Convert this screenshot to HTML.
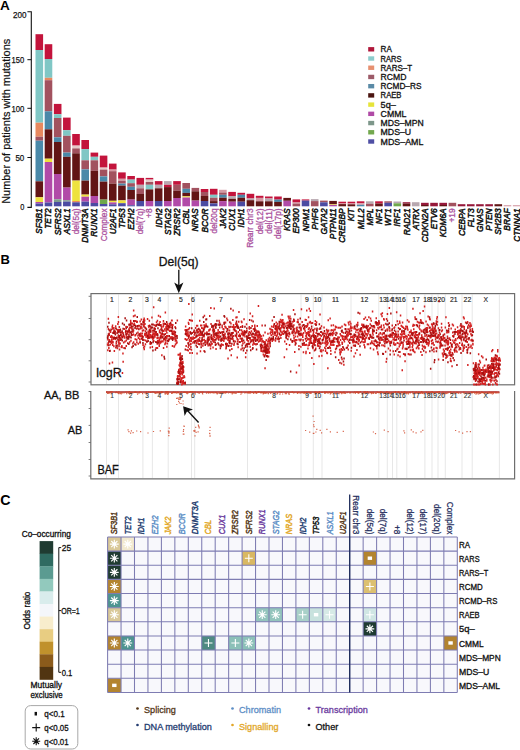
<!DOCTYPE html>
<html><head><meta charset="utf-8"><style>
html,body{margin:0;padding:0;background:#fff;width:520px;height:750px;overflow:hidden}
svg{display:block}
text{font-family:"Liberation Sans", sans-serif}
</style></head><body>
<svg width="520" height="750" viewBox="0 0 520 750">
<text x="0.1" y="9.6" font-size="13.6" font-weight="bold" fill="#000">A</text>
<path d="M27.4 11.8 H31.3 V207.4 H27.4" stroke="#111" stroke-width="1.1" fill="none"/>
<text x="26.60" y="17.70" font-size="9.5" fill="#111" text-anchor="end" textLength="13.50" lengthAdjust="spacingAndGlyphs" stroke="#111" stroke-width="0.25">200</text>
<path d="M27.4 59.70 H31.3" stroke="#111" stroke-width="1"/>
<text x="24.30" y="62.70" font-size="9.5" fill="#111" text-anchor="end" textLength="12.70" lengthAdjust="spacingAndGlyphs" stroke="#111" stroke-width="0.25">150</text>
<path d="M27.4 108.30 H31.3" stroke="#111" stroke-width="1"/>
<text x="24.30" y="111.60" font-size="9.5" fill="#111" text-anchor="end" textLength="12.90" lengthAdjust="spacingAndGlyphs" stroke="#111" stroke-width="0.25">100</text>
<path d="M27.4 157.50 H31.3" stroke="#111" stroke-width="1"/>
<text x="24.30" y="160.80" font-size="9.5" fill="#111" text-anchor="end" textLength="8.90" lengthAdjust="spacingAndGlyphs" stroke="#111" stroke-width="0.25">50</text>
<text x="24.30" y="209.60" font-size="9.5" fill="#111" text-anchor="end" textLength="4.10" lengthAdjust="spacingAndGlyphs" stroke="#111" stroke-width="0.25">0</text>
<text transform="translate(9.50,121.30) rotate(-90)" font-size="10.2" fill="#111" text-anchor="middle" textLength="165.00" lengthAdjust="spacingAndGlyphs" stroke="#111" stroke-width="0.2">Number of patients with mutations</text>
<rect x="35.50" y="34.20" width="7.6" height="15.80" fill="#c3143c"/>
<rect x="35.50" y="50.00" width="7.6" height="72.70" fill="#80c7c5"/>
<rect x="35.50" y="122.70" width="7.6" height="14.00" fill="#e8895f"/>
<rect x="35.50" y="136.70" width="7.6" height="4.00" fill="#a2525f"/>
<rect x="35.50" y="140.70" width="7.6" height="40.60" fill="#4a89a9"/>
<rect x="35.50" y="181.30" width="7.6" height="16.00" fill="#621515"/>
<rect x="35.50" y="197.30" width="7.6" height="4.70" fill="#eee23e"/>
<rect x="35.50" y="202.00" width="7.6" height="1.50" fill="#b14aa8"/>
<rect x="35.50" y="203.50" width="7.6" height="2.80" fill="#4b4ba2"/>
<text transform="translate(42.30,208.40) rotate(-90)" font-size="8.6" fill="#111" font-style="italic" text-anchor="end" textLength="25.50" lengthAdjust="spacingAndGlyphs" stroke="#111" stroke-width="0.48">SF3B1</text>
<rect x="44.68" y="44.20" width="7.6" height="14.80" fill="#c3143c"/>
<rect x="44.68" y="59.00" width="7.6" height="18.80" fill="#80c7c5"/>
<rect x="44.68" y="77.80" width="7.6" height="2.40" fill="#e8895f"/>
<rect x="44.68" y="80.20" width="7.6" height="31.10" fill="#a2525f"/>
<rect x="44.68" y="111.30" width="7.6" height="18.00" fill="#4a89a9"/>
<rect x="44.68" y="129.30" width="7.6" height="29.40" fill="#621515"/>
<rect x="44.68" y="158.70" width="7.6" height="3.30" fill="#eee23e"/>
<rect x="44.68" y="162.00" width="7.6" height="40.50" fill="#b14aa8"/>
<rect x="44.68" y="202.50" width="7.6" height="3.80" fill="#4b4ba2"/>
<text transform="translate(51.48,208.40) rotate(-90)" font-size="8.6" fill="#111" font-style="italic" text-anchor="end" textLength="20.39" lengthAdjust="spacingAndGlyphs" stroke="#111" stroke-width="0.48">TET2</text>
<rect x="53.86" y="103.90" width="7.6" height="10.30" fill="#c3143c"/>
<rect x="53.86" y="114.20" width="7.6" height="3.80" fill="#80c7c5"/>
<rect x="53.86" y="118.00" width="7.6" height="19.30" fill="#a2525f"/>
<rect x="53.86" y="137.30" width="7.6" height="4.70" fill="#4a89a9"/>
<rect x="53.86" y="142.00" width="7.6" height="32.00" fill="#621515"/>
<rect x="53.86" y="174.00" width="7.6" height="25.30" fill="#b14aa8"/>
<rect x="53.86" y="199.30" width="7.6" height="2.70" fill="#7f9d8d"/>
<rect x="53.86" y="202.00" width="7.6" height="4.30" fill="#4b4ba2"/>
<text transform="translate(60.66,208.40) rotate(-90)" font-size="8.6" fill="#111" font-style="italic" text-anchor="end" textLength="26.89" lengthAdjust="spacingAndGlyphs" stroke="#111" stroke-width="0.48">SFRS2</text>
<rect x="63.04" y="117.60" width="7.6" height="12.60" fill="#c3143c"/>
<rect x="63.04" y="130.20" width="7.6" height="5.60" fill="#80c7c5"/>
<rect x="63.04" y="135.80" width="7.6" height="16.80" fill="#a2525f"/>
<rect x="63.04" y="152.60" width="7.6" height="4.20" fill="#4a89a9"/>
<rect x="63.04" y="156.80" width="7.6" height="30.80" fill="#621515"/>
<rect x="63.04" y="187.60" width="7.6" height="12.60" fill="#b14aa8"/>
<rect x="63.04" y="200.20" width="7.6" height="1.40" fill="#7f9d8d"/>
<rect x="63.04" y="201.60" width="7.6" height="4.70" fill="#4b4ba2"/>
<text transform="translate(69.84,208.40) rotate(-90)" font-size="8.6" fill="#111" font-style="italic" text-anchor="end" textLength="25.97" lengthAdjust="spacingAndGlyphs" stroke="#111" stroke-width="0.48">ASXL1</text>
<rect x="72.22" y="134.00" width="7.6" height="11.60" fill="#c3143c"/>
<rect x="72.22" y="145.60" width="7.6" height="2.80" fill="#e6c9c9"/>
<rect x="72.22" y="148.40" width="7.6" height="4.90" fill="#a2525f"/>
<rect x="72.22" y="153.30" width="7.6" height="27.30" fill="#621515"/>
<rect x="72.22" y="180.60" width="7.6" height="20.40" fill="#eee23e"/>
<rect x="72.22" y="201.00" width="7.6" height="1.30" fill="#e8895f"/>
<rect x="72.22" y="202.30" width="7.6" height="4.00" fill="#4b4ba2"/>
<text transform="translate(79.02,208.40) rotate(-90)" font-size="8.6" fill="#ac52a0" text-anchor="end" textLength="25.97" lengthAdjust="spacingAndGlyphs" stroke="#ac52a0" stroke-width="0.3">del(5q)</text>
<rect x="81.40" y="140.00" width="7.6" height="9.10" fill="#c3143c"/>
<rect x="81.40" y="149.10" width="7.6" height="11.20" fill="#80c7c5"/>
<rect x="81.40" y="160.30" width="7.6" height="9.10" fill="#a2525f"/>
<rect x="81.40" y="169.40" width="7.6" height="11.20" fill="#4a89a9"/>
<rect x="81.40" y="180.60" width="7.6" height="14.00" fill="#621515"/>
<rect x="81.40" y="194.60" width="7.6" height="2.10" fill="#eee23e"/>
<rect x="81.40" y="196.70" width="7.6" height="4.90" fill="#b14aa8"/>
<rect x="81.40" y="201.60" width="7.6" height="4.70" fill="#4b4ba2"/>
<text transform="translate(88.20,208.40) rotate(-90)" font-size="8.6" fill="#111" font-style="italic" text-anchor="end" textLength="34.30" lengthAdjust="spacingAndGlyphs" stroke="#111" stroke-width="0.48">DNMT3A</text>
<rect x="90.58" y="152.60" width="7.6" height="4.20" fill="#c3143c"/>
<rect x="90.58" y="156.80" width="7.6" height="3.50" fill="#80c7c5"/>
<rect x="90.58" y="160.30" width="7.6" height="10.50" fill="#a2525f"/>
<rect x="90.58" y="170.80" width="7.6" height="25.20" fill="#621515"/>
<rect x="90.58" y="196.00" width="7.6" height="7.00" fill="#b14aa8"/>
<rect x="90.58" y="203.00" width="7.6" height="3.30" fill="#4b4ba2"/>
<text transform="translate(97.38,208.40) rotate(-90)" font-size="8.6" fill="#111" font-style="italic" text-anchor="end" textLength="28.28" lengthAdjust="spacingAndGlyphs" stroke="#111" stroke-width="0.48">RUNX1</text>
<rect x="99.76" y="155.60" width="7.6" height="12.00" fill="#c3143c"/>
<rect x="99.76" y="167.60" width="7.6" height="2.00" fill="#e6c9c9"/>
<rect x="99.76" y="169.60" width="7.6" height="6.80" fill="#a2525f"/>
<rect x="99.76" y="176.40" width="7.6" height="5.20" fill="#4a89a9"/>
<rect x="99.76" y="181.60" width="7.6" height="18.00" fill="#621515"/>
<rect x="99.76" y="199.60" width="7.6" height="4.40" fill="#6fa84b"/>
<rect x="99.76" y="204.00" width="7.6" height="2.30" fill="#4b4ba2"/>
<text transform="translate(106.56,208.40) rotate(-90)" font-size="8.6" fill="#ac52a0" text-anchor="end" textLength="32.92" lengthAdjust="spacingAndGlyphs" stroke="#ac52a0" stroke-width="0.3">Complex</text>
<rect x="108.94" y="163.60" width="7.6" height="6.00" fill="#c3143c"/>
<rect x="108.94" y="169.60" width="7.6" height="1.60" fill="#d49aa4"/>
<rect x="108.94" y="171.20" width="7.6" height="12.40" fill="#a2525f"/>
<rect x="108.94" y="183.60" width="7.6" height="17.20" fill="#621515"/>
<rect x="108.94" y="200.80" width="7.6" height="1.60" fill="#eee23e"/>
<rect x="108.94" y="202.40" width="7.6" height="1.90" fill="#b14aa8"/>
<rect x="108.94" y="204.30" width="7.6" height="2.00" fill="#4b4ba2"/>
<text transform="translate(115.74,208.40) rotate(-90)" font-size="8.6" fill="#111" font-style="italic" text-anchor="end" textLength="25.96" lengthAdjust="spacingAndGlyphs" stroke="#111" stroke-width="0.48">U2AF1</text>
<rect x="118.12" y="172.40" width="7.6" height="6.40" fill="#c3143c"/>
<rect x="118.12" y="178.80" width="7.6" height="2.00" fill="#d49aa4"/>
<rect x="118.12" y="180.80" width="7.6" height="2.80" fill="#a2525f"/>
<rect x="118.12" y="183.60" width="7.6" height="2.00" fill="#4a89a9"/>
<rect x="118.12" y="185.60" width="7.6" height="14.80" fill="#621515"/>
<rect x="118.12" y="200.40" width="7.6" height="2.80" fill="#eee23e"/>
<rect x="118.12" y="203.20" width="7.6" height="3.10" fill="#4b4ba2"/>
<text transform="translate(124.92,208.40) rotate(-90)" font-size="8.6" fill="#111" font-style="italic" text-anchor="end" textLength="19.94" lengthAdjust="spacingAndGlyphs" stroke="#111" stroke-width="0.48">TP53</text>
<rect x="127.30" y="176.00" width="7.6" height="3.60" fill="#c3143c"/>
<rect x="127.30" y="179.60" width="7.6" height="3.60" fill="#80c7c5"/>
<rect x="127.30" y="183.20" width="7.6" height="3.60" fill="#a2525f"/>
<rect x="127.30" y="186.80" width="7.6" height="3.20" fill="#4a89a9"/>
<rect x="127.30" y="190.00" width="7.6" height="9.60" fill="#621515"/>
<rect x="127.30" y="199.60" width="7.6" height="5.60" fill="#b14aa8"/>
<rect x="127.30" y="205.20" width="7.6" height="1.10" fill="#4b4ba2"/>
<text transform="translate(134.10,208.40) rotate(-90)" font-size="8.6" fill="#111" font-style="italic" text-anchor="end" textLength="21.32" lengthAdjust="spacingAndGlyphs" stroke="#111" stroke-width="0.48">EZH2</text>
<rect x="136.48" y="177.90" width="7.6" height="6.90" fill="#c3143c"/>
<rect x="136.48" y="184.80" width="7.6" height="3.50" fill="#b8a8b0"/>
<rect x="136.48" y="188.30" width="7.6" height="5.70" fill="#a2525f"/>
<rect x="136.48" y="194.00" width="7.6" height="7.00" fill="#621515"/>
<rect x="136.48" y="201.00" width="7.6" height="5.30" fill="#4b4ba2"/>
<text transform="translate(143.28,208.40) rotate(-90)" font-size="8.6" fill="#ac52a0" text-anchor="end" textLength="25.97" lengthAdjust="spacingAndGlyphs" stroke="#ac52a0" stroke-width="0.3">del(7q)</text>
<rect x="145.66" y="177.90" width="7.6" height="1.70" fill="#c3143c"/>
<rect x="145.66" y="179.60" width="7.6" height="2.40" fill="#e6c9c9"/>
<rect x="145.66" y="182.00" width="7.6" height="2.80" fill="#a2525f"/>
<rect x="145.66" y="184.80" width="7.6" height="4.60" fill="#80c7c5"/>
<rect x="145.66" y="189.40" width="7.6" height="11.60" fill="#621515"/>
<rect x="145.66" y="201.00" width="7.6" height="5.30" fill="#b14aa8"/>
<text transform="translate(152.46,208.40) rotate(-90)" font-size="8.6" fill="#ac52a0" text-anchor="end" textLength="9.51" lengthAdjust="spacingAndGlyphs" stroke="#ac52a0" stroke-width="0.3">+8</text>
<rect x="154.84" y="181.10" width="7.6" height="3.70" fill="#c3143c"/>
<rect x="154.84" y="184.80" width="7.6" height="3.50" fill="#b8a8b0"/>
<rect x="154.84" y="188.30" width="7.6" height="12.70" fill="#621515"/>
<rect x="154.84" y="201.00" width="7.6" height="5.30" fill="#4b4ba2"/>
<text transform="translate(161.64,208.40) rotate(-90)" font-size="8.6" fill="#111" font-style="italic" text-anchor="end" textLength="19.01" lengthAdjust="spacingAndGlyphs" stroke="#111" stroke-width="0.48">IDH2</text>
<rect x="164.02" y="181.10" width="7.6" height="3.70" fill="#b8a8b0"/>
<rect x="164.02" y="184.80" width="7.6" height="2.30" fill="#c3143c"/>
<rect x="164.02" y="187.10" width="7.6" height="13.90" fill="#621515"/>
<rect x="164.02" y="201.00" width="7.6" height="5.30" fill="#b14aa8"/>
<text transform="translate(170.82,208.40) rotate(-90)" font-size="8.6" fill="#111" font-style="italic" text-anchor="end" textLength="26.73" lengthAdjust="spacingAndGlyphs" stroke="#111" stroke-width="0.48">STAG2</text>
<rect x="173.20" y="181.10" width="7.6" height="3.70" fill="#c3143c"/>
<rect x="173.20" y="184.80" width="7.6" height="5.80" fill="#a2525f"/>
<rect x="173.20" y="190.60" width="7.6" height="7.40" fill="#621515"/>
<rect x="173.20" y="198.00" width="7.6" height="8.30" fill="#b14aa8"/>
<text transform="translate(180.00,208.40) rotate(-90)" font-size="8.6" fill="#111" font-style="italic" text-anchor="end" textLength="27.35" lengthAdjust="spacingAndGlyphs" stroke="#111" stroke-width="0.48">ZRSR2</text>
<rect x="182.38" y="183.00" width="7.6" height="5.80" fill="#a2525f"/>
<rect x="182.38" y="188.80" width="7.6" height="4.10" fill="#4a89a9"/>
<rect x="182.38" y="192.90" width="7.6" height="3.40" fill="#621515"/>
<rect x="182.38" y="196.30" width="7.6" height="1.20" fill="#eee23e"/>
<rect x="182.38" y="197.50" width="7.6" height="8.80" fill="#b14aa8"/>
<text transform="translate(189.18,208.40) rotate(-90)" font-size="8.6" fill="#111" font-style="italic" text-anchor="end" textLength="16.23" lengthAdjust="spacingAndGlyphs" stroke="#111" stroke-width="0.48">CBL</text>
<rect x="191.56" y="187.90" width="7.6" height="3.40" fill="#a2525f"/>
<rect x="191.56" y="191.30" width="7.6" height="9.30" fill="#621515"/>
<rect x="191.56" y="200.60" width="7.6" height="5.70" fill="#b14aa8"/>
<text transform="translate(198.36,208.40) rotate(-90)" font-size="8.6" fill="#111" font-style="italic" text-anchor="end" textLength="23.18" lengthAdjust="spacingAndGlyphs" stroke="#111" stroke-width="0.48">NRAS</text>
<rect x="200.74" y="189.00" width="7.6" height="3.00" fill="#c3143c"/>
<rect x="200.74" y="192.00" width="7.6" height="4.00" fill="#a2525f"/>
<rect x="200.74" y="196.00" width="7.6" height="5.00" fill="#621515"/>
<rect x="200.74" y="201.00" width="7.6" height="5.30" fill="#4b4ba2"/>
<text transform="translate(207.54,208.40) rotate(-90)" font-size="8.6" fill="#111" font-style="italic" text-anchor="end" textLength="24.10" lengthAdjust="spacingAndGlyphs" stroke="#111" stroke-width="0.48">BCOR</text>
<rect x="209.92" y="188.80" width="7.6" height="6.00" fill="#c3143c"/>
<rect x="209.92" y="194.80" width="7.6" height="2.90" fill="#80c7c5"/>
<rect x="209.92" y="197.70" width="7.6" height="3.40" fill="#a2525f"/>
<rect x="209.92" y="201.10" width="7.6" height="2.30" fill="#621515"/>
<rect x="209.92" y="203.40" width="7.6" height="2.90" fill="#4b4ba2"/>
<text transform="translate(216.72,208.40) rotate(-90)" font-size="8.6" fill="#ac52a0" text-anchor="end" textLength="25.05" lengthAdjust="spacingAndGlyphs" stroke="#ac52a0" stroke-width="0.3">del20q</text>
<rect x="219.10" y="189.80" width="7.6" height="2.70" fill="#d49aa4"/>
<rect x="219.10" y="192.50" width="7.6" height="2.30" fill="#a2525f"/>
<rect x="219.10" y="194.80" width="7.6" height="2.90" fill="#4a89a9"/>
<rect x="219.10" y="197.70" width="7.6" height="3.40" fill="#621515"/>
<rect x="219.10" y="201.10" width="7.6" height="5.20" fill="#b14aa8"/>
<text transform="translate(225.90,208.40) rotate(-90)" font-size="8.6" fill="#111" font-style="italic" text-anchor="end" textLength="19.94" lengthAdjust="spacingAndGlyphs" stroke="#111" stroke-width="0.48">JAK2</text>
<rect x="228.28" y="191.90" width="7.6" height="4.10" fill="#c3143c"/>
<rect x="228.28" y="196.00" width="7.6" height="2.80" fill="#b8a8b0"/>
<rect x="228.28" y="198.80" width="7.6" height="2.90" fill="#621515"/>
<rect x="228.28" y="201.70" width="7.6" height="4.60" fill="#b14aa8"/>
<text transform="translate(235.08,208.40) rotate(-90)" font-size="8.6" fill="#111" font-style="italic" text-anchor="end" textLength="22.25" lengthAdjust="spacingAndGlyphs" stroke="#111" stroke-width="0.48">CUX1</text>
<rect x="237.46" y="192.80" width="7.6" height="2.00" fill="#c3143c"/>
<rect x="237.46" y="194.80" width="7.6" height="2.90" fill="#4a89a9"/>
<rect x="237.46" y="197.70" width="7.6" height="4.00" fill="#621515"/>
<rect x="237.46" y="201.70" width="7.6" height="4.60" fill="#4b4ba2"/>
<text transform="translate(244.26,208.40) rotate(-90)" font-size="8.6" fill="#111" font-style="italic" text-anchor="end" textLength="19.01" lengthAdjust="spacingAndGlyphs" stroke="#111" stroke-width="0.48">IDH1</text>
<rect x="246.64" y="193.80" width="7.6" height="4.70" fill="#c3143c"/>
<rect x="246.64" y="198.50" width="7.6" height="1.70" fill="#b8a8b0"/>
<rect x="246.64" y="200.20" width="7.6" height="6.10" fill="#621515"/>
<text transform="translate(253.44,208.40) rotate(-90)" font-size="8.6" fill="#ac52a0" text-anchor="end" textLength="39.40" lengthAdjust="spacingAndGlyphs" stroke="#ac52a0" stroke-width="0.3">Rearr chr3</text>
<rect x="255.82" y="195.80" width="7.6" height="2.10" fill="#c3143c"/>
<rect x="255.82" y="197.90" width="7.6" height="3.40" fill="#d49aa4"/>
<rect x="255.82" y="201.30" width="7.6" height="5.00" fill="#621515"/>
<text transform="translate(262.62,208.40) rotate(-90)" font-size="8.6" fill="#ac52a0" text-anchor="end" textLength="25.97" lengthAdjust="spacingAndGlyphs" stroke="#ac52a0" stroke-width="0.3">del(12)</text>
<rect x="265.00" y="196.50" width="7.6" height="2.00" fill="#c3143c"/>
<rect x="265.00" y="198.50" width="7.6" height="2.80" fill="#b8a8b0"/>
<rect x="265.00" y="201.30" width="7.6" height="5.00" fill="#621515"/>
<text transform="translate(271.80,208.40) rotate(-90)" font-size="8.6" fill="#ac52a0" text-anchor="end" textLength="25.35" lengthAdjust="spacingAndGlyphs" stroke="#ac52a0" stroke-width="0.3">del(11)</text>
<rect x="274.18" y="196.50" width="7.6" height="3.10" fill="#c3143c"/>
<rect x="274.18" y="199.60" width="7.6" height="2.30" fill="#4a89a9"/>
<rect x="274.18" y="201.90" width="7.6" height="4.40" fill="#621515"/>
<text transform="translate(280.98,208.40) rotate(-90)" font-size="8.6" fill="#ac52a0" text-anchor="end" textLength="30.61" lengthAdjust="spacingAndGlyphs" stroke="#ac52a0" stroke-width="0.3">del(17p)</text>
<rect x="283.36" y="197.90" width="7.6" height="2.90" fill="#621515"/>
<rect x="283.36" y="200.80" width="7.6" height="5.50" fill="#b14aa8"/>
<text transform="translate(290.16,208.40) rotate(-90)" font-size="8.6" fill="#111" font-style="italic" text-anchor="end" textLength="22.72" lengthAdjust="spacingAndGlyphs" stroke="#111" stroke-width="0.48">KRAS</text>
<rect x="292.54" y="199.40" width="7.6" height="3.10" fill="#c3143c"/>
<rect x="292.54" y="202.50" width="7.6" height="1.10" fill="#d49aa4"/>
<rect x="292.54" y="203.60" width="7.6" height="2.70" fill="#a2525f"/>
<text transform="translate(299.34,208.40) rotate(-90)" font-size="8.6" fill="#111" font-style="italic" text-anchor="end" textLength="25.05" lengthAdjust="spacingAndGlyphs" stroke="#111" stroke-width="0.48">EP300</text>
<rect x="301.72" y="199.40" width="7.6" height="1.20" fill="#c3143c"/>
<rect x="301.72" y="200.60" width="7.6" height="5.70" fill="#4b4ba2"/>
<text transform="translate(308.52,208.40) rotate(-90)" font-size="8.6" fill="#111" font-style="italic" text-anchor="end" textLength="23.18" lengthAdjust="spacingAndGlyphs" stroke="#111" stroke-width="0.48">NPM1</text>
<rect x="310.90" y="199.10" width="7.6" height="2.00" fill="#b8a8b0"/>
<rect x="310.90" y="201.10" width="7.6" height="5.20" fill="#a2525f"/>
<text transform="translate(317.70,208.40) rotate(-90)" font-size="8.6" fill="#111" font-style="italic" text-anchor="end" textLength="21.32" lengthAdjust="spacingAndGlyphs" stroke="#111" stroke-width="0.48">PHF6</text>
<rect x="320.08" y="200.60" width="7.6" height="1.70" fill="#a2525f"/>
<rect x="320.08" y="202.30" width="7.6" height="4.00" fill="#4b4ba2"/>
<text transform="translate(326.88,208.40) rotate(-90)" font-size="8.6" fill="#111" font-style="italic" text-anchor="end" textLength="26.11" lengthAdjust="spacingAndGlyphs" stroke="#111" stroke-width="0.48">GATA2</text>
<rect x="329.26" y="200.90" width="7.6" height="3.10" fill="#621515"/>
<rect x="329.26" y="204.00" width="7.6" height="0.80" fill="#eee23e"/>
<rect x="329.26" y="204.80" width="7.6" height="1.50" fill="#b14aa8"/>
<text transform="translate(336.06,208.40) rotate(-90)" font-size="8.6" fill="#111" font-style="italic" text-anchor="end" textLength="30.91" lengthAdjust="spacingAndGlyphs" stroke="#111" stroke-width="0.48">PTPN11</text>
<rect x="338.44" y="201.70" width="7.6" height="1.80" fill="#c3143c"/>
<rect x="338.44" y="203.50" width="7.6" height="0.60" fill="#d49aa4"/>
<rect x="338.44" y="204.10" width="7.6" height="2.20" fill="#621515"/>
<text transform="translate(345.24,208.40) rotate(-90)" font-size="8.6" fill="#111" font-style="italic" text-anchor="end" textLength="34.31" lengthAdjust="spacingAndGlyphs" stroke="#111" stroke-width="0.48">CREBBP</text>
<rect x="347.62" y="201.70" width="7.6" height="1.80" fill="#c3143c"/>
<rect x="347.62" y="203.50" width="7.6" height="0.80" fill="#d49aa4"/>
<rect x="347.62" y="204.30" width="7.6" height="2.00" fill="#621515"/>
<text transform="translate(354.42,208.40) rotate(-90)" font-size="8.6" fill="#111" font-style="italic" text-anchor="end" textLength="12.98" lengthAdjust="spacingAndGlyphs" stroke="#111" stroke-width="0.48">KIT</text>
<rect x="356.80" y="201.30" width="7.6" height="2.00" fill="#c3143c"/>
<rect x="356.80" y="203.30" width="7.6" height="1.50" fill="#d49aa4"/>
<rect x="356.80" y="204.80" width="7.6" height="1.50" fill="#4a89a9"/>
<text transform="translate(363.60,208.40) rotate(-90)" font-size="8.6" fill="#111" font-style="italic" text-anchor="end" textLength="20.87" lengthAdjust="spacingAndGlyphs" stroke="#111" stroke-width="0.48">MLL2</text>
<rect x="365.98" y="201.30" width="7.6" height="2.50" fill="#b8a8b0"/>
<rect x="365.98" y="203.80" width="7.6" height="2.50" fill="#a2525f"/>
<text transform="translate(372.78,208.40) rotate(-90)" font-size="8.6" fill="#111" font-style="italic" text-anchor="end" textLength="17.15" lengthAdjust="spacingAndGlyphs" stroke="#111" stroke-width="0.48">MPL</text>
<rect x="375.16" y="201.30" width="7.6" height="2.20" fill="#c3143c"/>
<rect x="375.16" y="203.50" width="7.6" height="2.80" fill="#621515"/>
<text transform="translate(381.96,208.40) rotate(-90)" font-size="8.6" fill="#111" font-style="italic" text-anchor="end" textLength="15.76" lengthAdjust="spacingAndGlyphs" stroke="#111" stroke-width="0.48">NF1</text>
<rect x="384.34" y="201.30" width="7.6" height="1.50" fill="#a2525f"/>
<rect x="384.34" y="202.80" width="7.6" height="3.50" fill="#4b4ba2"/>
<text transform="translate(391.14,208.40) rotate(-90)" font-size="8.6" fill="#111" font-style="italic" text-anchor="end" textLength="17.61" lengthAdjust="spacingAndGlyphs" stroke="#111" stroke-width="0.48">WT1</text>
<rect x="393.52" y="201.50" width="7.6" height="1.80" fill="#b8a8b0"/>
<rect x="393.52" y="203.30" width="7.6" height="3.00" fill="#6fa84b"/>
<text transform="translate(400.32,208.40) rotate(-90)" font-size="8.6" fill="#111" font-style="italic" text-anchor="end" textLength="18.08" lengthAdjust="spacingAndGlyphs" stroke="#111" stroke-width="0.48">IRF1</text>
<rect x="402.70" y="202.20" width="7.6" height="1.40" fill="#96183a"/>
<rect x="402.70" y="203.60" width="7.6" height="2.70" fill="#621515"/>
<text transform="translate(409.50,208.40) rotate(-90)" font-size="8.6" fill="#111" font-style="italic" text-anchor="end" textLength="26.89" lengthAdjust="spacingAndGlyphs" stroke="#111" stroke-width="0.48">RAD21</text>
<rect x="411.88" y="202.20" width="7.6" height="4.10" fill="#b8a8b0"/>
<text transform="translate(418.68,208.40) rotate(-90)" font-size="8.6" fill="#111" font-style="italic" text-anchor="end" textLength="21.63" lengthAdjust="spacingAndGlyphs" stroke="#111" stroke-width="0.48">ATRX</text>
<rect x="421.06" y="202.80" width="7.6" height="2.20" fill="#96183a"/>
<rect x="421.06" y="205.00" width="7.6" height="1.30" fill="#621515"/>
<text transform="translate(427.86,208.40) rotate(-90)" font-size="8.6" fill="#111" font-style="italic" text-anchor="end" textLength="33.84" lengthAdjust="spacingAndGlyphs" stroke="#111" stroke-width="0.48">CDKN2A</text>
<rect x="430.24" y="202.80" width="7.6" height="3.50" fill="#96183a"/>
<text transform="translate(437.04,208.40) rotate(-90)" font-size="8.6" fill="#111" font-style="italic" text-anchor="end" textLength="20.86" lengthAdjust="spacingAndGlyphs" stroke="#111" stroke-width="0.48">ETV6</text>
<rect x="439.42" y="202.80" width="7.6" height="2.20" fill="#96183a"/>
<rect x="439.42" y="205.00" width="7.6" height="1.30" fill="#621515"/>
<text transform="translate(446.22,208.40) rotate(-90)" font-size="8.6" fill="#111" font-style="italic" text-anchor="end" textLength="28.74" lengthAdjust="spacingAndGlyphs" stroke="#111" stroke-width="0.48">KDM6A</text>
<rect x="448.60" y="202.80" width="7.6" height="3.50" fill="#a2525f"/>
<text transform="translate(455.40,208.40) rotate(-90)" font-size="8.6" fill="#ac52a0" text-anchor="end" textLength="14.15" lengthAdjust="spacingAndGlyphs" stroke="#ac52a0" stroke-width="0.3">+19</text>
<rect x="457.78" y="204.20" width="7.6" height="2.10" fill="#96183a"/>
<text transform="translate(464.58,208.40) rotate(-90)" font-size="8.6" fill="#111" font-style="italic" text-anchor="end" textLength="27.66" lengthAdjust="spacingAndGlyphs" stroke="#111" stroke-width="0.48">CEBPA</text>
<rect x="466.96" y="204.20" width="7.6" height="2.10" fill="#96183a"/>
<text transform="translate(473.76,208.40) rotate(-90)" font-size="8.6" fill="#111" font-style="italic" text-anchor="end" textLength="18.85" lengthAdjust="spacingAndGlyphs" stroke="#111" stroke-width="0.48">FLT3</text>
<rect x="476.14" y="204.20" width="7.6" height="2.10" fill="#96183a"/>
<text transform="translate(482.94,208.40) rotate(-90)" font-size="8.6" fill="#111" font-style="italic" text-anchor="end" textLength="23.64" lengthAdjust="spacingAndGlyphs" stroke="#111" stroke-width="0.48">GNAS</text>
<rect x="485.32" y="204.20" width="7.6" height="2.10" fill="#96183a"/>
<text transform="translate(492.12,208.40) rotate(-90)" font-size="8.6" fill="#111" font-style="italic" text-anchor="end" textLength="22.25" lengthAdjust="spacingAndGlyphs" stroke="#111" stroke-width="0.48">PTEN</text>
<rect x="494.50" y="204.20" width="7.6" height="2.10" fill="#621515"/>
<text transform="translate(501.30,208.40) rotate(-90)" font-size="8.6" fill="#111" font-style="italic" text-anchor="end" textLength="26.43" lengthAdjust="spacingAndGlyphs" stroke="#111" stroke-width="0.48">SH2B3</text>
<rect x="503.68" y="205.20" width="7.6" height="1.10" fill="#d49aa4"/>
<text transform="translate(510.48,208.40) rotate(-90)" font-size="8.6" fill="#111" font-style="italic" text-anchor="end" textLength="22.25" lengthAdjust="spacingAndGlyphs" stroke="#111" stroke-width="0.48">BRAF</text>
<rect x="512.86" y="205.20" width="7.6" height="1.10" fill="#d49aa4"/>
<text transform="translate(519.66,208.40) rotate(-90)" font-size="8.6" fill="#111" font-style="italic" text-anchor="end" textLength="33.37" lengthAdjust="spacingAndGlyphs" stroke="#111" stroke-width="0.48">CTNNA1</text>
<rect x="368.2" y="47.10" width="6" height="4.4" fill="#b0173a"/>
<text x="380.60" y="52.30" font-size="8.6" fill="#111" textLength="11.30" lengthAdjust="spacingAndGlyphs" stroke="#111" stroke-width="0.3">RA</text>
<rect x="368.2" y="56.32" width="6" height="4.4" fill="#8ccccc"/>
<text x="380.60" y="61.52" font-size="8.6" fill="#111" textLength="20.90" lengthAdjust="spacingAndGlyphs" stroke="#111" stroke-width="0.3">RARS</text>
<rect x="368.2" y="65.54" width="6" height="4.4" fill="#e79070"/>
<text x="380.60" y="70.74" font-size="8.6" fill="#111" textLength="31.50" lengthAdjust="spacingAndGlyphs" stroke="#111" stroke-width="0.3">RARS–T</text>
<rect x="368.2" y="74.76" width="6" height="4.4" fill="#9c5a68"/>
<text x="380.60" y="79.96" font-size="8.6" fill="#111" stroke="#111" stroke-width="0.3">RCMD</text>
<rect x="368.2" y="83.98" width="6" height="4.4" fill="#5a8aa6"/>
<text x="380.60" y="89.18" font-size="8.6" fill="#111" textLength="40.80" lengthAdjust="spacingAndGlyphs" stroke="#111" stroke-width="0.3">RCMD–RS</text>
<rect x="368.2" y="93.20" width="6" height="4.4" fill="#4a1410"/>
<text x="380.60" y="98.40" font-size="8.6" fill="#111" textLength="20.90" lengthAdjust="spacingAndGlyphs" stroke="#111" stroke-width="0.3">RAEB</text>
<rect x="368.2" y="102.42" width="6" height="4.4" fill="#e6e43a"/>
<text x="380.60" y="107.62" font-size="8.6" fill="#111" textLength="15.20" lengthAdjust="spacingAndGlyphs" stroke="#111" stroke-width="0.3">5q–</text>
<rect x="368.2" y="111.64" width="6" height="4.4" fill="#b04aa6"/>
<text x="380.60" y="116.84" font-size="8.6" fill="#111" textLength="25.80" lengthAdjust="spacingAndGlyphs" stroke="#111" stroke-width="0.3">CMML</text>
<rect x="368.2" y="120.86" width="6" height="4.4" fill="#7d978a"/>
<text x="380.60" y="126.06" font-size="8.6" fill="#111" textLength="43.10" lengthAdjust="spacingAndGlyphs" stroke="#111" stroke-width="0.3">MDS–MPN</text>
<rect x="368.2" y="130.08" width="6" height="4.4" fill="#73a84e"/>
<text x="380.60" y="135.28" font-size="8.6" fill="#111" textLength="30.60" lengthAdjust="spacingAndGlyphs" stroke="#111" stroke-width="0.3">MDS–U</text>
<rect x="368.2" y="139.30" width="6" height="4.4" fill="#4f4fa4"/>
<text x="380.60" y="144.50" font-size="8.6" fill="#111" textLength="42.70" lengthAdjust="spacingAndGlyphs" stroke="#111" stroke-width="0.3">MDS–AML</text>
<text x="0.6" y="263.6" font-size="13" font-weight="bold" fill="#000">B</text>
<text x="178.70" y="265.80" font-size="12.2" fill="#111" text-anchor="middle" textLength="39.70" lengthAdjust="spacingAndGlyphs" stroke="#111" stroke-width="0.3">Del(5q)</text>
<path d="M178.8 269.8 V286" stroke="#111" stroke-width="1.3"/>
<path d="M174.2 282.6 L178.8 293.2 L183.4 282.6 L178.8 285.2 Z" fill="#111"/>
<path d="M106.5 294.5 V384" stroke="#e4e4e4" stroke-width="0.9"/>
<path d="M106.5 392 V478" stroke="#e4e4e4" stroke-width="0.9"/>
<path d="M118.5 294.5 V384" stroke="#e4e4e4" stroke-width="0.9"/>
<path d="M118.5 392 V478" stroke="#e4e4e4" stroke-width="0.9"/>
<path d="M142.9 294.5 V384" stroke="#e4e4e4" stroke-width="0.9"/>
<path d="M142.9 392 V478" stroke="#e4e4e4" stroke-width="0.9"/>
<path d="M152.4 294.5 V384" stroke="#e4e4e4" stroke-width="0.9"/>
<path d="M152.4 392 V478" stroke="#e4e4e4" stroke-width="0.9"/>
<path d="M168.2 294.5 V384" stroke="#e4e4e4" stroke-width="0.9"/>
<path d="M168.2 392 V478" stroke="#e4e4e4" stroke-width="0.9"/>
<path d="M191.5 294.5 V384" stroke="#e4e4e4" stroke-width="0.9"/>
<path d="M191.5 392 V478" stroke="#e4e4e4" stroke-width="0.9"/>
<path d="M194.7 294.5 V384" stroke="#e4e4e4" stroke-width="0.9"/>
<path d="M194.7 392 V478" stroke="#e4e4e4" stroke-width="0.9"/>
<path d="M247.5 294.5 V384" stroke="#e4e4e4" stroke-width="0.9"/>
<path d="M247.5 392 V478" stroke="#e4e4e4" stroke-width="0.9"/>
<path d="M301 294.5 V384" stroke="#e4e4e4" stroke-width="0.9"/>
<path d="M301 392 V478" stroke="#e4e4e4" stroke-width="0.9"/>
<path d="M313.3 294.5 V384" stroke="#e4e4e4" stroke-width="0.9"/>
<path d="M313.3 392 V478" stroke="#e4e4e4" stroke-width="0.9"/>
<path d="M322 294.5 V384" stroke="#e4e4e4" stroke-width="0.9"/>
<path d="M322 392 V478" stroke="#e4e4e4" stroke-width="0.9"/>
<path d="M351 294.5 V384" stroke="#e4e4e4" stroke-width="0.9"/>
<path d="M351 392 V478" stroke="#e4e4e4" stroke-width="0.9"/>
<path d="M378.8 294.5 V384" stroke="#e4e4e4" stroke-width="0.9"/>
<path d="M378.8 392 V478" stroke="#e4e4e4" stroke-width="0.9"/>
<path d="M387.3 294.5 V384" stroke="#e4e4e4" stroke-width="0.9"/>
<path d="M387.3 392 V478" stroke="#e4e4e4" stroke-width="0.9"/>
<path d="M392.5 294.5 V384" stroke="#e4e4e4" stroke-width="0.9"/>
<path d="M392.5 392 V478" stroke="#e4e4e4" stroke-width="0.9"/>
<path d="M396.8 294.5 V384" stroke="#e4e4e4" stroke-width="0.9"/>
<path d="M396.8 392 V478" stroke="#e4e4e4" stroke-width="0.9"/>
<path d="M406.8 294.5 V384" stroke="#e4e4e4" stroke-width="0.9"/>
<path d="M406.8 392 V478" stroke="#e4e4e4" stroke-width="0.9"/>
<path d="M424.9 294.5 V384" stroke="#e4e4e4" stroke-width="0.9"/>
<path d="M424.9 392 V478" stroke="#e4e4e4" stroke-width="0.9"/>
<path d="M432 294.5 V384" stroke="#e4e4e4" stroke-width="0.9"/>
<path d="M432 392 V478" stroke="#e4e4e4" stroke-width="0.9"/>
<path d="M438 294.5 V384" stroke="#e4e4e4" stroke-width="0.9"/>
<path d="M438 392 V478" stroke="#e4e4e4" stroke-width="0.9"/>
<path d="M445.3 294.5 V384" stroke="#e4e4e4" stroke-width="0.9"/>
<path d="M445.3 392 V478" stroke="#e4e4e4" stroke-width="0.9"/>
<path d="M462 294.5 V384" stroke="#e4e4e4" stroke-width="0.9"/>
<path d="M462 392 V478" stroke="#e4e4e4" stroke-width="0.9"/>
<path d="M472.2 294.5 V384" stroke="#e4e4e4" stroke-width="0.9"/>
<path d="M472.2 392 V478" stroke="#e4e4e4" stroke-width="0.9"/>
<path d="M499.4 294.5 V384" stroke="#e4e4e4" stroke-width="0.9"/>
<path d="M499.4 392 V478" stroke="#e4e4e4" stroke-width="0.9"/>
<text x="112" y="302.4" text-anchor="middle" font-size="6.8" fill="#222" stroke="#222" stroke-width="0.15">1</text>
<text x="130.5" y="302.4" text-anchor="middle" font-size="6.8" fill="#222" stroke="#222" stroke-width="0.15">2</text>
<text x="147" y="302.4" text-anchor="middle" font-size="6.8" fill="#222" stroke="#222" stroke-width="0.15">3</text>
<text x="159.4" y="302.4" text-anchor="middle" font-size="6.8" fill="#222" stroke="#222" stroke-width="0.15">4</text>
<text x="181" y="302.4" text-anchor="middle" font-size="6.8" fill="#222" stroke="#222" stroke-width="0.15">5</text>
<text x="192.8" y="302.4" text-anchor="middle" font-size="6.8" fill="#222" stroke="#222" stroke-width="0.15">6</text>
<text x="221" y="302.4" text-anchor="middle" font-size="6.8" fill="#222" stroke="#222" stroke-width="0.15">7</text>
<text x="274" y="302.4" text-anchor="middle" font-size="6.8" fill="#222" stroke="#222" stroke-width="0.15">8</text>
<text x="307" y="302.4" text-anchor="middle" font-size="6.8" fill="#222" stroke="#222" stroke-width="0.15">9</text>
<text x="317.6" y="302.4" text-anchor="middle" font-size="6.8" fill="#222" stroke="#222" stroke-width="0.15">10</text>
<text x="335.5" y="302.4" text-anchor="middle" font-size="6.8" fill="#222" stroke="#222" stroke-width="0.15">11</text>
<text x="364.4" y="302.4" text-anchor="middle" font-size="6.8" fill="#222" stroke="#222" stroke-width="0.15">12</text>
<text x="383" y="302.4" text-anchor="middle" font-size="6.8" fill="#222" stroke="#222" stroke-width="0.15">13</text>
<text x="389.6" y="302.4" text-anchor="middle" font-size="6.8" fill="#222" stroke="#222" stroke-width="0.15">14</text>
<text x="395.2" y="302.4" text-anchor="middle" font-size="6.8" fill="#222" stroke="#222" stroke-width="0.15">15</text>
<text x="402" y="302.4" text-anchor="middle" font-size="6.8" fill="#222" stroke="#222" stroke-width="0.15">16</text>
<text x="416" y="302.4" text-anchor="middle" font-size="6.8" fill="#222" stroke="#222" stroke-width="0.15">17</text>
<text x="427" y="302.4" text-anchor="middle" font-size="6.8" fill="#222" stroke="#222" stroke-width="0.15">18</text>
<text x="433.3" y="302.4" text-anchor="middle" font-size="6.8" fill="#222" stroke="#222" stroke-width="0.15">19</text>
<text x="441.2" y="302.4" text-anchor="middle" font-size="6.8" fill="#222" stroke="#222" stroke-width="0.15">20</text>
<text x="453.7" y="302.4" text-anchor="middle" font-size="6.8" fill="#222" stroke="#222" stroke-width="0.15">21</text>
<text x="467.4" y="302.4" text-anchor="middle" font-size="6.8" fill="#222" stroke="#222" stroke-width="0.15">22</text>
<text x="485.7" y="302.4" text-anchor="middle" font-size="6.8" fill="#222" stroke="#222" stroke-width="0.15">X</text>
<rect x="91" y="293.6" width="423.6" height="91.2" fill="none" stroke="#6e6e6e" stroke-width="1.2"/>
<path d="M90.8 391 V478.8 H514.6 V391" fill="none" stroke="#6e6e6e" stroke-width="1.2"/>
<path d="M88.6 296.3 H91" stroke="#6e6e6e" stroke-width="0.9"/>
<path d="M88.6 318.5 H91" stroke="#6e6e6e" stroke-width="0.9"/>
<path d="M88.6 339.7 H91" stroke="#6e6e6e" stroke-width="0.9"/>
<path d="M88.6 360.8 H91" stroke="#6e6e6e" stroke-width="0.9"/>
<path d="M88.6 382 H91" stroke="#6e6e6e" stroke-width="0.9"/>
<path d="M88.6 391.5 H91" stroke="#6e6e6e" stroke-width="0.9"/>
<path d="M88.6 408.5 H91" stroke="#6e6e6e" stroke-width="0.9"/>
<path d="M88.6 425.4 H91" stroke="#6e6e6e" stroke-width="0.9"/>
<path d="M88.6 442.5 H91" stroke="#6e6e6e" stroke-width="0.9"/>
<path d="M88.6 459.5 H91" stroke="#6e6e6e" stroke-width="0.9"/>
<path d="M88.6 476 H91" stroke="#6e6e6e" stroke-width="0.9"/>
<text x="96.20" y="377.40" font-size="13" fill="#111" textLength="25.60" lengthAdjust="spacingAndGlyphs" stroke="#111" stroke-width="0.3">logR</text>
<text x="97.40" y="474.20" font-size="13" fill="#111" textLength="21.40" lengthAdjust="spacingAndGlyphs" stroke="#111" stroke-width="0.3">BAF</text>
<text x="79.30" y="398.80" font-size="11.6" fill="#111" text-anchor="end" textLength="35.40" lengthAdjust="spacingAndGlyphs" stroke="#111" stroke-width="0.3">AA, BB</text>
<text x="82.40" y="433.80" font-size="11.6" fill="#111" text-anchor="end" textLength="14.60" lengthAdjust="spacingAndGlyphs" stroke="#111" stroke-width="0.3">AB</text>
<path d="M296.1 326.8h1.5v2.0h-1.5zM163.6 322.8h1.5v2.0h-1.5zM202.0 339.0h1.5v2.0h-1.5zM498.2 359.0h1.5v2.0h-1.5zM198.9 329.0h1.5v2.0h-1.5zM451.3 346.1h1.5v2.0h-1.5zM491.9 360.4h1.5v2.0h-1.5zM313.7 338.8h1.5v2.0h-1.5zM461.5 342.4h1.5v2.0h-1.5zM364.6 337.3h1.5v2.0h-1.5zM365.6 336.8h1.5v2.0h-1.5zM459.5 331.8h1.5v2.0h-1.5zM190.6 340.0h1.5v2.0h-1.5zM221.0 331.3h1.5v2.0h-1.5zM116.9 330.6h1.5v2.0h-1.5zM245.8 323.2h1.5v2.0h-1.5zM162.6 322.6h1.5v2.0h-1.5zM362.0 337.6h1.5v2.0h-1.5zM245.8 330.8h1.5v2.0h-1.5zM111.0 336.6h1.5v2.0h-1.5zM249.3 338.5h1.5v2.0h-1.5zM142.8 329.2h1.5v2.0h-1.5zM153.3 327.3h1.5v2.0h-1.5zM400.6 336.5h1.5v2.0h-1.5zM134.3 314.6h1.5v2.0h-1.5zM189.5 330.9h1.5v2.0h-1.5zM226.8 319.3h1.5v2.0h-1.5zM489.3 378.8h1.5v2.0h-1.5zM194.1 331.7h1.5v2.0h-1.5zM313.7 349.4h1.5v2.0h-1.5zM212.6 331.5h1.5v2.0h-1.5zM493.4 372.9h1.5v2.0h-1.5zM140.9 335.4h1.5v2.0h-1.5zM158.8 329.4h1.5v2.0h-1.5zM437.3 336.2h1.5v2.0h-1.5zM200.2 340.5h1.5v2.0h-1.5zM412.0 338.5h1.5v2.0h-1.5zM449.9 354.6h1.5v2.0h-1.5zM220.3 339.2h1.5v2.0h-1.5zM344.4 336.2h1.5v2.0h-1.5zM140.0 333.9h1.5v2.0h-1.5zM411.6 348.7h1.5v2.0h-1.5zM181.1 383.4h1.5v2.0h-1.5zM307.2 347.5h1.5v2.0h-1.5zM487.6 373.1h1.5v2.0h-1.5zM246.5 337.3h1.5v2.0h-1.5zM107.7 328.0h1.5v2.0h-1.5zM454.9 337.9h1.5v2.0h-1.5zM364.4 340.1h1.5v2.0h-1.5zM280.1 327.6h1.5v2.0h-1.5zM279.2 328.6h1.5v2.0h-1.5zM429.0 329.9h1.5v2.0h-1.5zM279.7 329.9h1.5v2.0h-1.5zM263.7 349.5h1.5v2.0h-1.5zM363.8 325.9h1.5v2.0h-1.5zM265.5 349.0h1.5v2.0h-1.5zM151.7 333.9h1.5v2.0h-1.5zM113.0 331.0h1.5v2.0h-1.5zM466.0 331.8h1.5v2.0h-1.5zM183.3 375.0h1.5v2.0h-1.5zM440.1 339.4h1.5v2.0h-1.5zM258.9 339.6h1.5v2.0h-1.5zM187.4 335.1h1.5v2.0h-1.5zM393.9 333.0h1.5v2.0h-1.5zM288.6 331.7h1.5v2.0h-1.5zM114.2 332.3h1.5v2.0h-1.5zM308.7 335.2h1.5v2.0h-1.5zM446.7 335.5h1.5v2.0h-1.5zM467.6 346.5h1.5v2.0h-1.5zM165.8 324.1h1.5v2.0h-1.5zM181.9 365.3h1.5v2.0h-1.5zM265.8 346.2h1.5v2.0h-1.5zM389.1 342.6h1.5v2.0h-1.5zM399.3 339.7h1.5v2.0h-1.5zM176.7 378.4h1.5v2.0h-1.5zM123.7 328.1h1.5v2.0h-1.5zM325.5 337.2h1.5v2.0h-1.5zM187.3 332.4h1.5v2.0h-1.5zM255.6 334.2h1.5v2.0h-1.5zM270.3 328.4h1.5v2.0h-1.5zM297.0 321.3h1.5v2.0h-1.5zM254.2 343.0h1.5v2.0h-1.5zM143.3 325.1h1.5v2.0h-1.5zM108.5 332.6h1.5v2.0h-1.5zM409.4 334.7h1.5v2.0h-1.5zM218.2 334.6h1.5v2.0h-1.5zM246.2 329.9h1.5v2.0h-1.5zM334.9 348.2h1.5v2.0h-1.5zM453.1 334.5h1.5v2.0h-1.5zM267.2 332.8h1.5v2.0h-1.5zM483.6 379.4h1.5v2.0h-1.5zM345.8 336.2h1.5v2.0h-1.5zM427.7 344.6h1.5v2.0h-1.5zM314.4 337.5h1.5v2.0h-1.5zM131.6 322.5h1.5v2.0h-1.5zM111.9 327.8h1.5v2.0h-1.5zM473.5 383.5h1.5v2.0h-1.5zM173.4 345.8h1.5v2.0h-1.5zM135.0 319.9h1.5v2.0h-1.5zM199.7 350.2h1.5v2.0h-1.5zM284.0 340.5h1.5v2.0h-1.5zM370.8 341.6h1.5v2.0h-1.5zM361.3 323.9h1.5v2.0h-1.5zM436.4 323.8h1.5v2.0h-1.5zM419.3 312.2h1.5v2.0h-1.5zM385.8 334.6h1.5v2.0h-1.5zM474.2 365.9h1.5v2.0h-1.5zM257.5 336.7h1.5v2.0h-1.5zM418.6 344.1h1.5v2.0h-1.5zM490.4 369.4h1.5v2.0h-1.5zM306.0 332.0h1.5v2.0h-1.5zM315.0 347.5h1.5v2.0h-1.5zM364.7 316.6h1.5v2.0h-1.5zM165.4 335.9h1.5v2.0h-1.5zM144.7 330.3h1.5v2.0h-1.5zM225.5 346.9h1.5v2.0h-1.5zM494.1 367.2h1.5v2.0h-1.5zM491.1 370.6h1.5v2.0h-1.5zM447.3 340.0h1.5v2.0h-1.5zM274.7 339.4h1.5v2.0h-1.5zM437.8 335.6h1.5v2.0h-1.5zM115.9 337.2h1.5v2.0h-1.5zM446.6 343.6h1.5v2.0h-1.5zM189.4 343.5h1.5v2.0h-1.5zM467.0 333.2h1.5v2.0h-1.5zM206.9 333.2h1.5v2.0h-1.5zM169.0 330.1h1.5v2.0h-1.5zM362.8 326.6h1.5v2.0h-1.5zM348.2 328.5h1.5v2.0h-1.5zM148.6 328.5h1.5v2.0h-1.5zM167.2 335.2h1.5v2.0h-1.5zM147.4 332.4h1.5v2.0h-1.5zM380.6 324.6h1.5v2.0h-1.5zM202.8 330.3h1.5v2.0h-1.5zM166.1 337.4h1.5v2.0h-1.5zM313.1 362.9h1.5v2.0h-1.5zM171.5 336.6h1.5v2.0h-1.5zM339.7 326.7h1.5v2.0h-1.5zM458.6 334.6h1.5v2.0h-1.5zM449.1 353.3h1.5v2.0h-1.5zM232.8 324.0h1.5v2.0h-1.5zM236.2 316.2h1.5v2.0h-1.5zM306.6 324.9h1.5v2.0h-1.5zM254.1 333.7h1.5v2.0h-1.5zM241.5 333.6h1.5v2.0h-1.5zM375.2 344.9h1.5v2.0h-1.5zM443.9 337.0h1.5v2.0h-1.5zM364.4 340.8h1.5v2.0h-1.5zM362.9 323.8h1.5v2.0h-1.5zM382.3 332.2h1.5v2.0h-1.5zM258.1 330.7h1.5v2.0h-1.5zM381.6 312.3h1.5v2.0h-1.5zM111.7 361.5h1.5v2.0h-1.5zM492.2 363.2h1.5v2.0h-1.5zM149.9 335.6h1.5v2.0h-1.5zM160.3 324.5h1.5v2.0h-1.5zM495.1 365.7h1.5v2.0h-1.5zM432.3 334.9h1.5v2.0h-1.5zM489.3 367.2h1.5v2.0h-1.5zM406.1 342.9h1.5v2.0h-1.5zM411.8 342.2h1.5v2.0h-1.5zM386.4 328.6h1.5v2.0h-1.5zM407.1 328.7h1.5v2.0h-1.5zM119.6 339.0h1.5v2.0h-1.5zM490.7 376.6h1.5v2.0h-1.5zM175.7 339.6h1.5v2.0h-1.5zM498.0 357.5h1.5v2.0h-1.5zM464.4 331.5h1.5v2.0h-1.5zM357.0 321.7h1.5v2.0h-1.5zM140.3 323.1h1.5v2.0h-1.5zM474.1 374.1h1.5v2.0h-1.5zM186.5 334.4h1.5v2.0h-1.5zM268.6 350.9h1.5v2.0h-1.5zM234.0 326.3h1.5v2.0h-1.5zM235.9 333.8h1.5v2.0h-1.5zM403.0 337.3h1.5v2.0h-1.5zM286.1 322.2h1.5v2.0h-1.5zM171.5 331.3h1.5v2.0h-1.5zM179.4 370.4h1.5v2.0h-1.5zM437.1 335.2h1.5v2.0h-1.5zM228.1 332.3h1.5v2.0h-1.5zM200.9 332.2h1.5v2.0h-1.5zM150.7 335.2h1.5v2.0h-1.5zM230.6 332.3h1.5v2.0h-1.5zM432.2 326.6h1.5v2.0h-1.5zM384.2 337.2h1.5v2.0h-1.5zM465.6 339.0h1.5v2.0h-1.5zM428.5 340.4h1.5v2.0h-1.5zM207.5 339.5h1.5v2.0h-1.5zM281.5 332.8h1.5v2.0h-1.5zM416.2 340.0h1.5v2.0h-1.5zM270.6 337.8h1.5v2.0h-1.5zM310.4 337.2h1.5v2.0h-1.5zM197.5 334.3h1.5v2.0h-1.5zM382.9 324.3h1.5v2.0h-1.5zM176.9 375.9h1.5v2.0h-1.5zM371.2 336.0h1.5v2.0h-1.5zM426.9 341.7h1.5v2.0h-1.5zM342.7 335.6h1.5v2.0h-1.5zM310.1 340.1h1.5v2.0h-1.5zM344.9 324.3h1.5v2.0h-1.5zM256.8 339.1h1.5v2.0h-1.5zM179.0 358.1h1.5v2.0h-1.5zM186.3 334.6h1.5v2.0h-1.5zM447.5 343.5h1.5v2.0h-1.5zM336.8 339.0h1.5v2.0h-1.5zM251.3 335.4h1.5v2.0h-1.5zM305.4 334.9h1.5v2.0h-1.5zM357.0 324.1h1.5v2.0h-1.5zM432.3 330.4h1.5v2.0h-1.5zM287.2 329.8h1.5v2.0h-1.5zM309.9 340.4h1.5v2.0h-1.5zM435.7 336.4h1.5v2.0h-1.5zM344.4 338.1h1.5v2.0h-1.5zM369.4 336.0h1.5v2.0h-1.5zM196.5 339.3h1.5v2.0h-1.5zM173.6 330.4h1.5v2.0h-1.5zM365.3 332.9h1.5v2.0h-1.5zM121.7 372.0h1.5v2.0h-1.5zM166.9 335.1h1.5v2.0h-1.5zM283.5 326.5h1.5v2.0h-1.5zM107.1 338.4h1.5v2.0h-1.5zM351.3 336.1h1.5v2.0h-1.5zM217.3 335.5h1.5v2.0h-1.5zM232.8 328.4h1.5v2.0h-1.5zM248.4 326.9h1.5v2.0h-1.5zM492.9 360.4h1.5v2.0h-1.5zM191.5 352.0h1.5v2.0h-1.5zM204.3 340.4h1.5v2.0h-1.5zM312.9 343.3h1.5v2.0h-1.5zM294.6 332.5h1.5v2.0h-1.5zM427.3 342.2h1.5v2.0h-1.5zM498.2 370.5h1.5v2.0h-1.5zM144.8 339.4h1.5v2.0h-1.5zM487.9 383.5h1.5v2.0h-1.5zM349.6 327.6h1.5v2.0h-1.5zM357.3 335.5h1.5v2.0h-1.5zM211.2 337.1h1.5v2.0h-1.5zM221.8 337.3h1.5v2.0h-1.5zM462.7 346.4h1.5v2.0h-1.5zM122.3 332.0h1.5v2.0h-1.5zM264.3 367.2h1.5v2.0h-1.5zM265.4 350.5h1.5v2.0h-1.5zM182.7 370.8h1.5v2.0h-1.5zM354.7 334.0h1.5v2.0h-1.5zM302.0 336.1h1.5v2.0h-1.5zM475.4 378.8h1.5v2.0h-1.5zM126.3 333.0h1.5v2.0h-1.5zM232.1 337.9h1.5v2.0h-1.5zM492.5 358.7h1.5v2.0h-1.5zM400.6 333.6h1.5v2.0h-1.5zM342.7 331.8h1.5v2.0h-1.5zM453.9 350.5h1.5v2.0h-1.5zM446.7 330.2h1.5v2.0h-1.5zM426.6 323.6h1.5v2.0h-1.5zM197.7 343.1h1.5v2.0h-1.5zM486.1 378.5h1.5v2.0h-1.5zM159.7 331.7h1.5v2.0h-1.5zM459.0 331.5h1.5v2.0h-1.5zM466.5 340.9h1.5v2.0h-1.5zM227.5 333.8h1.5v2.0h-1.5zM276.4 330.1h1.5v2.0h-1.5zM223.7 334.5h1.5v2.0h-1.5zM414.7 336.0h1.5v2.0h-1.5zM470.0 330.2h1.5v2.0h-1.5zM296.6 321.1h1.5v2.0h-1.5zM393.0 342.5h1.5v2.0h-1.5zM257.8 340.8h1.5v2.0h-1.5zM170.9 319.6h1.5v2.0h-1.5zM437.5 334.8h1.5v2.0h-1.5zM443.3 339.8h1.5v2.0h-1.5zM354.7 352.3h1.5v2.0h-1.5zM479.1 368.6h1.5v2.0h-1.5zM292.9 334.4h1.5v2.0h-1.5zM222.9 331.0h1.5v2.0h-1.5zM131.3 334.1h1.5v2.0h-1.5zM424.3 335.0h1.5v2.0h-1.5zM144.2 323.1h1.5v2.0h-1.5zM460.2 334.3h1.5v2.0h-1.5zM109.9 336.0h1.5v2.0h-1.5zM264.7 342.5h1.5v2.0h-1.5zM292.9 329.5h1.5v2.0h-1.5zM401.8 321.5h1.5v2.0h-1.5zM148.7 331.1h1.5v2.0h-1.5zM174.0 333.4h1.5v2.0h-1.5zM268.6 340.6h1.5v2.0h-1.5zM399.9 333.2h1.5v2.0h-1.5zM339.2 351.4h1.5v2.0h-1.5zM244.9 345.9h1.5v2.0h-1.5zM495.1 366.1h1.5v2.0h-1.5zM409.1 344.3h1.5v2.0h-1.5zM313.7 340.3h1.5v2.0h-1.5zM281.3 326.2h1.5v2.0h-1.5zM488.9 376.0h1.5v2.0h-1.5zM456.2 350.7h1.5v2.0h-1.5zM126.7 332.0h1.5v2.0h-1.5zM312.9 339.4h1.5v2.0h-1.5zM251.9 332.9h1.5v2.0h-1.5zM257.5 334.2h1.5v2.0h-1.5zM243.1 332.3h1.5v2.0h-1.5zM307.4 331.0h1.5v2.0h-1.5zM162.6 325.6h1.5v2.0h-1.5zM298.8 330.5h1.5v2.0h-1.5zM125.2 325.8h1.5v2.0h-1.5zM412.2 325.0h1.5v2.0h-1.5zM402.6 330.3h1.5v2.0h-1.5zM484.7 383.5h1.5v2.0h-1.5zM378.6 321.8h1.5v2.0h-1.5zM129.9 319.8h1.5v2.0h-1.5zM274.2 333.9h1.5v2.0h-1.5zM465.3 340.5h1.5v2.0h-1.5zM325.9 328.8h1.5v2.0h-1.5zM388.9 327.5h1.5v2.0h-1.5zM442.6 354.1h1.5v2.0h-1.5zM450.4 327.5h1.5v2.0h-1.5zM356.1 338.0h1.5v2.0h-1.5zM404.3 336.0h1.5v2.0h-1.5zM498.6 356.9h1.5v2.0h-1.5zM474.6 371.8h1.5v2.0h-1.5zM269.2 327.7h1.5v2.0h-1.5zM159.8 340.5h1.5v2.0h-1.5zM132.9 341.3h1.5v2.0h-1.5zM467.0 348.6h1.5v2.0h-1.5zM215.7 323.7h1.5v2.0h-1.5zM293.2 339.4h1.5v2.0h-1.5zM343.1 363.8h1.5v2.0h-1.5zM184.5 382.7h1.5v2.0h-1.5zM320.7 330.9h1.5v2.0h-1.5zM160.9 327.4h1.5v2.0h-1.5zM414.3 316.3h1.5v2.0h-1.5zM267.8 348.4h1.5v2.0h-1.5zM337.5 326.7h1.5v2.0h-1.5zM182.9 365.9h1.5v2.0h-1.5zM155.5 324.1h1.5v2.0h-1.5zM216.8 331.7h1.5v2.0h-1.5zM407.4 340.3h1.5v2.0h-1.5zM252.1 343.8h1.5v2.0h-1.5zM346.4 335.5h1.5v2.0h-1.5zM436.3 347.3h1.5v2.0h-1.5zM491.5 372.6h1.5v2.0h-1.5zM224.2 337.3h1.5v2.0h-1.5zM136.0 338.7h1.5v2.0h-1.5zM241.7 325.2h1.5v2.0h-1.5zM422.7 340.0h1.5v2.0h-1.5zM261.2 337.8h1.5v2.0h-1.5zM267.1 348.7h1.5v2.0h-1.5zM202.4 327.6h1.5v2.0h-1.5zM354.5 341.3h1.5v2.0h-1.5zM254.8 339.4h1.5v2.0h-1.5zM320.5 335.1h1.5v2.0h-1.5zM248.9 331.4h1.5v2.0h-1.5zM140.4 325.4h1.5v2.0h-1.5zM333.3 328.7h1.5v2.0h-1.5zM312.1 347.2h1.5v2.0h-1.5zM174.4 333.3h1.5v2.0h-1.5zM373.4 340.4h1.5v2.0h-1.5zM247.7 332.6h1.5v2.0h-1.5zM249.3 337.1h1.5v2.0h-1.5zM250.9 319.4h1.5v2.0h-1.5zM162.8 324.2h1.5v2.0h-1.5zM108.1 347.1h1.5v2.0h-1.5zM281.6 324.4h1.5v2.0h-1.5zM181.1 383.2h1.5v2.0h-1.5zM230.2 322.4h1.5v2.0h-1.5zM460.7 338.7h1.5v2.0h-1.5zM119.9 338.2h1.5v2.0h-1.5zM411.9 331.9h1.5v2.0h-1.5zM203.6 338.8h1.5v2.0h-1.5zM334.2 337.6h1.5v2.0h-1.5zM301.6 333.3h1.5v2.0h-1.5zM162.2 335.4h1.5v2.0h-1.5zM158.5 338.6h1.5v2.0h-1.5zM285.9 331.2h1.5v2.0h-1.5zM481.7 381.7h1.5v2.0h-1.5zM483.3 383.0h1.5v2.0h-1.5zM263.4 348.2h1.5v2.0h-1.5zM491.1 350.3h1.5v2.0h-1.5zM445.0 353.3h1.5v2.0h-1.5zM220.8 343.3h1.5v2.0h-1.5zM326.6 352.3h1.5v2.0h-1.5zM271.6 319.6h1.5v2.0h-1.5zM126.5 330.4h1.5v2.0h-1.5zM278.9 323.3h1.5v2.0h-1.5zM149.3 342.7h1.5v2.0h-1.5zM318.4 332.7h1.5v2.0h-1.5zM381.3 315.2h1.5v2.0h-1.5zM314.0 336.7h1.5v2.0h-1.5zM134.5 338.2h1.5v2.0h-1.5zM300.1 345.7h1.5v2.0h-1.5zM178.6 377.9h1.5v2.0h-1.5zM441.7 338.5h1.5v2.0h-1.5zM163.7 338.1h1.5v2.0h-1.5zM442.5 355.4h1.5v2.0h-1.5zM272.2 338.7h1.5v2.0h-1.5zM417.7 341.6h1.5v2.0h-1.5zM412.0 344.2h1.5v2.0h-1.5zM244.2 331.3h1.5v2.0h-1.5zM282.9 321.5h1.5v2.0h-1.5zM184.3 382.1h1.5v2.0h-1.5zM158.9 340.7h1.5v2.0h-1.5zM406.3 347.9h1.5v2.0h-1.5zM231.1 334.7h1.5v2.0h-1.5zM211.9 338.6h1.5v2.0h-1.5zM384.9 322.8h1.5v2.0h-1.5zM177.3 382.9h1.5v2.0h-1.5zM187.6 343.2h1.5v2.0h-1.5zM231.4 337.5h1.5v2.0h-1.5zM466.1 335.5h1.5v2.0h-1.5zM332.7 330.3h1.5v2.0h-1.5zM369.5 323.2h1.5v2.0h-1.5zM420.3 319.7h1.5v2.0h-1.5zM481.8 372.7h1.5v2.0h-1.5zM455.8 331.0h1.5v2.0h-1.5zM322.2 332.2h1.5v2.0h-1.5zM218.8 321.7h1.5v2.0h-1.5zM143.0 346.4h1.5v2.0h-1.5zM200.3 341.0h1.5v2.0h-1.5zM415.0 331.0h1.5v2.0h-1.5zM293.1 324.3h1.5v2.0h-1.5zM174.6 339.7h1.5v2.0h-1.5zM485.2 368.5h1.5v2.0h-1.5zM380.7 336.9h1.5v2.0h-1.5zM404.9 327.8h1.5v2.0h-1.5zM406.5 325.7h1.5v2.0h-1.5zM136.5 320.7h1.5v2.0h-1.5zM226.6 343.0h1.5v2.0h-1.5zM381.4 338.6h1.5v2.0h-1.5zM311.7 321.9h1.5v2.0h-1.5zM308.9 338.7h1.5v2.0h-1.5zM131.0 327.7h1.5v2.0h-1.5zM299.7 327.8h1.5v2.0h-1.5zM302.7 351.3h1.5v2.0h-1.5zM261.3 340.8h1.5v2.0h-1.5zM383.0 318.0h1.5v2.0h-1.5zM110.9 338.8h1.5v2.0h-1.5zM212.3 328.5h1.5v2.0h-1.5zM115.0 346.4h1.5v2.0h-1.5zM162.2 340.4h1.5v2.0h-1.5zM139.2 338.6h1.5v2.0h-1.5zM267.1 340.5h1.5v2.0h-1.5zM393.3 327.1h1.5v2.0h-1.5zM213.8 336.3h1.5v2.0h-1.5zM478.3 370.8h1.5v2.0h-1.5zM193.6 333.7h1.5v2.0h-1.5zM449.1 354.1h1.5v2.0h-1.5zM271.9 329.5h1.5v2.0h-1.5zM496.5 369.0h1.5v2.0h-1.5zM107.1 349.3h1.5v2.0h-1.5zM440.6 344.4h1.5v2.0h-1.5zM379.0 338.9h1.5v2.0h-1.5zM235.1 323.1h1.5v2.0h-1.5zM230.5 354.2h1.5v2.0h-1.5zM433.0 347.9h1.5v2.0h-1.5zM330.0 349.7h1.5v2.0h-1.5zM436.9 341.0h1.5v2.0h-1.5zM421.3 330.6h1.5v2.0h-1.5zM177.4 370.9h1.5v2.0h-1.5zM482.3 372.2h1.5v2.0h-1.5zM446.8 343.3h1.5v2.0h-1.5zM471.6 327.9h1.5v2.0h-1.5zM489.7 379.6h1.5v2.0h-1.5zM384.6 334.4h1.5v2.0h-1.5zM267.1 349.0h1.5v2.0h-1.5zM416.7 345.7h1.5v2.0h-1.5zM261.8 350.4h1.5v2.0h-1.5zM462.4 336.3h1.5v2.0h-1.5zM384.7 340.5h1.5v2.0h-1.5zM242.7 331.6h1.5v2.0h-1.5zM290.0 317.7h1.5v2.0h-1.5zM496.4 362.8h1.5v2.0h-1.5zM371.7 342.2h1.5v2.0h-1.5zM294.4 331.9h1.5v2.0h-1.5zM433.2 350.6h1.5v2.0h-1.5zM359.4 353.7h1.5v2.0h-1.5zM293.5 330.3h1.5v2.0h-1.5zM214.2 323.5h1.5v2.0h-1.5zM308.4 342.1h1.5v2.0h-1.5zM253.8 328.8h1.5v2.0h-1.5zM309.6 330.2h1.5v2.0h-1.5zM484.5 369.2h1.5v2.0h-1.5zM137.5 342.7h1.5v2.0h-1.5zM464.9 321.4h1.5v2.0h-1.5zM484.3 371.9h1.5v2.0h-1.5zM449.8 341.9h1.5v2.0h-1.5zM207.4 344.6h1.5v2.0h-1.5zM147.0 337.5h1.5v2.0h-1.5zM137.9 324.8h1.5v2.0h-1.5zM432.4 341.8h1.5v2.0h-1.5zM395.1 338.9h1.5v2.0h-1.5zM114.6 337.9h1.5v2.0h-1.5zM262.6 334.6h1.5v2.0h-1.5zM341.8 349.1h1.5v2.0h-1.5zM302.6 343.0h1.5v2.0h-1.5zM332.6 339.3h1.5v2.0h-1.5zM151.2 316.4h1.5v2.0h-1.5zM366.7 343.3h1.5v2.0h-1.5zM404.5 347.7h1.5v2.0h-1.5zM292.3 326.4h1.5v2.0h-1.5zM266.7 355.7h1.5v2.0h-1.5zM325.4 336.6h1.5v2.0h-1.5zM184.9 325.4h1.5v2.0h-1.5zM475.8 370.0h1.5v2.0h-1.5zM219.6 344.8h1.5v2.0h-1.5zM348.2 323.4h1.5v2.0h-1.5zM110.9 342.0h1.5v2.0h-1.5zM300.8 334.0h1.5v2.0h-1.5zM261.2 338.5h1.5v2.0h-1.5zM419.7 337.2h1.5v2.0h-1.5zM144.0 333.7h1.5v2.0h-1.5zM265.0 351.3h1.5v2.0h-1.5zM384.3 335.7h1.5v2.0h-1.5zM420.9 337.9h1.5v2.0h-1.5zM181.3 377.0h1.5v2.0h-1.5zM426.4 335.7h1.5v2.0h-1.5zM173.7 345.2h1.5v2.0h-1.5zM393.9 338.9h1.5v2.0h-1.5zM382.5 335.9h1.5v2.0h-1.5zM212.3 346.4h1.5v2.0h-1.5zM165.6 325.9h1.5v2.0h-1.5zM406.7 327.4h1.5v2.0h-1.5zM369.2 333.8h1.5v2.0h-1.5zM168.0 338.7h1.5v2.0h-1.5zM178.0 368.8h1.5v2.0h-1.5zM121.0 331.4h1.5v2.0h-1.5zM152.3 332.0h1.5v2.0h-1.5zM499.0 363.8h1.5v2.0h-1.5zM111.5 325.9h1.5v2.0h-1.5zM283.4 329.6h1.5v2.0h-1.5zM341.3 341.6h1.5v2.0h-1.5zM375.9 329.2h1.5v2.0h-1.5zM423.6 337.8h1.5v2.0h-1.5zM158.4 343.5h1.5v2.0h-1.5zM425.7 327.0h1.5v2.0h-1.5zM139.9 325.8h1.5v2.0h-1.5zM378.9 339.6h1.5v2.0h-1.5zM449.8 357.8h1.5v2.0h-1.5zM265.6 352.0h1.5v2.0h-1.5zM130.9 322.7h1.5v2.0h-1.5zM225.7 343.7h1.5v2.0h-1.5zM493.0 365.9h1.5v2.0h-1.5zM155.1 333.8h1.5v2.0h-1.5zM109.9 329.7h1.5v2.0h-1.5zM188.2 334.7h1.5v2.0h-1.5zM413.8 336.3h1.5v2.0h-1.5zM362.5 336.2h1.5v2.0h-1.5zM376.9 344.0h1.5v2.0h-1.5zM404.3 360.3h1.5v2.0h-1.5zM179.4 356.6h1.5v2.0h-1.5zM238.2 311.1h1.5v2.0h-1.5zM224.2 325.5h1.5v2.0h-1.5zM354.5 345.1h1.5v2.0h-1.5zM312.0 342.8h1.5v2.0h-1.5zM433.4 327.8h1.5v2.0h-1.5zM156.6 333.1h1.5v2.0h-1.5zM389.3 333.7h1.5v2.0h-1.5zM182.6 381.9h1.5v2.0h-1.5zM495.8 357.4h1.5v2.0h-1.5zM291.4 339.9h1.5v2.0h-1.5zM198.4 332.8h1.5v2.0h-1.5zM262.6 353.6h1.5v2.0h-1.5zM117.1 322.9h1.5v2.0h-1.5zM361.6 330.7h1.5v2.0h-1.5zM309.0 351.9h1.5v2.0h-1.5zM415.4 342.5h1.5v2.0h-1.5zM456.8 326.2h1.5v2.0h-1.5zM396.6 320.3h1.5v2.0h-1.5zM186.4 332.2h1.5v2.0h-1.5zM288.2 317.1h1.5v2.0h-1.5zM464.8 333.6h1.5v2.0h-1.5zM224.3 332.8h1.5v2.0h-1.5zM307.4 344.6h1.5v2.0h-1.5zM490.7 365.6h1.5v2.0h-1.5zM206.1 341.6h1.5v2.0h-1.5zM108.8 362.6h1.5v2.0h-1.5zM285.6 330.5h1.5v2.0h-1.5zM208.7 342.8h1.5v2.0h-1.5zM439.2 345.6h1.5v2.0h-1.5zM391.4 336.1h1.5v2.0h-1.5zM419.9 318.9h1.5v2.0h-1.5zM475.0 372.6h1.5v2.0h-1.5zM406.7 319.2h1.5v2.0h-1.5zM107.6 317.8h1.5v2.0h-1.5zM393.4 336.9h1.5v2.0h-1.5zM215.5 334.1h1.5v2.0h-1.5zM443.7 333.2h1.5v2.0h-1.5zM179.8 358.8h1.5v2.0h-1.5zM182.1 360.8h1.5v2.0h-1.5zM494.8 363.3h1.5v2.0h-1.5zM275.5 321.4h1.5v2.0h-1.5zM434.8 338.3h1.5v2.0h-1.5zM341.6 341.9h1.5v2.0h-1.5zM206.7 342.8h1.5v2.0h-1.5zM140.6 318.5h1.5v2.0h-1.5zM313.4 342.2h1.5v2.0h-1.5zM467.1 364.1h1.5v2.0h-1.5zM430.9 323.3h1.5v2.0h-1.5zM286.9 321.5h1.5v2.0h-1.5zM179.2 367.7h1.5v2.0h-1.5zM439.4 341.5h1.5v2.0h-1.5zM228.8 329.5h1.5v2.0h-1.5zM341.3 358.3h1.5v2.0h-1.5zM426.0 334.1h1.5v2.0h-1.5zM400.3 338.6h1.5v2.0h-1.5zM443.3 351.2h1.5v2.0h-1.5zM142.2 320.9h1.5v2.0h-1.5zM342.0 337.9h1.5v2.0h-1.5zM117.9 331.2h1.5v2.0h-1.5zM181.4 373.3h1.5v2.0h-1.5zM239.5 337.5h1.5v2.0h-1.5zM422.7 329.3h1.5v2.0h-1.5zM454.1 347.4h1.5v2.0h-1.5zM452.0 331.4h1.5v2.0h-1.5zM163.3 322.4h1.5v2.0h-1.5zM288.1 323.8h1.5v2.0h-1.5zM424.2 347.0h1.5v2.0h-1.5zM184.5 328.9h1.5v2.0h-1.5zM325.3 345.0h1.5v2.0h-1.5zM418.1 333.6h1.5v2.0h-1.5zM308.9 341.3h1.5v2.0h-1.5zM402.4 341.4h1.5v2.0h-1.5zM405.2 335.1h1.5v2.0h-1.5zM283.3 326.9h1.5v2.0h-1.5zM381.6 333.4h1.5v2.0h-1.5zM497.7 363.4h1.5v2.0h-1.5zM483.1 379.3h1.5v2.0h-1.5zM291.5 340.9h1.5v2.0h-1.5zM415.4 339.5h1.5v2.0h-1.5zM325.1 338.6h1.5v2.0h-1.5zM403.7 331.5h1.5v2.0h-1.5zM176.8 375.6h1.5v2.0h-1.5zM350.0 325.5h1.5v2.0h-1.5zM440.8 322.8h1.5v2.0h-1.5zM448.8 338.0h1.5v2.0h-1.5zM368.1 316.3h1.5v2.0h-1.5zM106.9 336.3h1.5v2.0h-1.5zM490.5 360.1h1.5v2.0h-1.5zM252.7 328.1h1.5v2.0h-1.5zM474.1 371.3h1.5v2.0h-1.5zM469.2 322.1h1.5v2.0h-1.5zM138.6 333.1h1.5v2.0h-1.5zM356.9 338.6h1.5v2.0h-1.5zM233.1 326.2h1.5v2.0h-1.5zM263.0 340.9h1.5v2.0h-1.5zM391.2 329.5h1.5v2.0h-1.5zM168.1 327.5h1.5v2.0h-1.5zM376.1 335.4h1.5v2.0h-1.5zM329.8 333.7h1.5v2.0h-1.5zM414.1 351.2h1.5v2.0h-1.5zM438.4 334.7h1.5v2.0h-1.5zM305.7 335.3h1.5v2.0h-1.5zM483.6 364.8h1.5v2.0h-1.5zM164.7 342.2h1.5v2.0h-1.5zM260.9 337.7h1.5v2.0h-1.5zM321.1 354.7h1.5v2.0h-1.5zM221.6 339.0h1.5v2.0h-1.5zM435.4 346.8h1.5v2.0h-1.5zM463.1 331.3h1.5v2.0h-1.5zM186.7 333.0h1.5v2.0h-1.5zM490.9 376.7h1.5v2.0h-1.5zM412.3 332.2h1.5v2.0h-1.5zM478.4 383.5h1.5v2.0h-1.5zM238.8 334.6h1.5v2.0h-1.5zM198.8 339.5h1.5v2.0h-1.5zM236.7 324.3h1.5v2.0h-1.5zM245.7 329.9h1.5v2.0h-1.5zM480.9 355.2h1.5v2.0h-1.5zM179.4 375.8h1.5v2.0h-1.5zM359.1 330.0h1.5v2.0h-1.5zM409.6 349.2h1.5v2.0h-1.5zM227.2 336.6h1.5v2.0h-1.5zM280.1 337.1h1.5v2.0h-1.5zM332.6 324.2h1.5v2.0h-1.5zM391.5 332.0h1.5v2.0h-1.5zM476.9 372.3h1.5v2.0h-1.5zM363.4 344.1h1.5v2.0h-1.5zM118.2 334.8h1.5v2.0h-1.5zM297.2 318.7h1.5v2.0h-1.5zM436.2 336.4h1.5v2.0h-1.5zM301.6 325.3h1.5v2.0h-1.5zM148.3 335.9h1.5v2.0h-1.5zM352.0 336.2h1.5v2.0h-1.5zM116.6 347.3h1.5v2.0h-1.5zM332.5 341.5h1.5v2.0h-1.5zM180.1 379.6h1.5v2.0h-1.5zM427.4 315.4h1.5v2.0h-1.5zM268.0 340.3h1.5v2.0h-1.5zM448.8 350.2h1.5v2.0h-1.5zM158.5 345.1h1.5v2.0h-1.5zM416.7 320.8h1.5v2.0h-1.5zM493.9 379.8h1.5v2.0h-1.5zM137.7 337.0h1.5v2.0h-1.5zM148.4 333.0h1.5v2.0h-1.5zM355.1 335.0h1.5v2.0h-1.5zM319.5 337.5h1.5v2.0h-1.5zM165.4 330.1h1.5v2.0h-1.5zM293.4 340.2h1.5v2.0h-1.5zM215.4 343.3h1.5v2.0h-1.5zM206.6 338.5h1.5v2.0h-1.5zM476.8 369.0h1.5v2.0h-1.5zM470.4 325.1h1.5v2.0h-1.5zM378.0 335.8h1.5v2.0h-1.5zM224.7 336.1h1.5v2.0h-1.5zM192.5 337.3h1.5v2.0h-1.5zM445.3 340.0h1.5v2.0h-1.5zM309.8 336.8h1.5v2.0h-1.5zM274.9 328.3h1.5v2.0h-1.5zM247.1 343.1h1.5v2.0h-1.5zM305.1 325.0h1.5v2.0h-1.5zM195.7 329.7h1.5v2.0h-1.5zM346.4 330.7h1.5v2.0h-1.5zM341.3 335.0h1.5v2.0h-1.5zM413.6 324.2h1.5v2.0h-1.5zM432.4 342.6h1.5v2.0h-1.5zM242.2 342.6h1.5v2.0h-1.5zM376.1 347.5h1.5v2.0h-1.5zM274.5 331.3h1.5v2.0h-1.5zM175.6 342.2h1.5v2.0h-1.5zM431.6 329.1h1.5v2.0h-1.5zM125.6 339.5h1.5v2.0h-1.5zM139.5 327.6h1.5v2.0h-1.5zM179.4 365.2h1.5v2.0h-1.5zM351.3 326.5h1.5v2.0h-1.5zM470.3 344.5h1.5v2.0h-1.5zM399.9 338.1h1.5v2.0h-1.5zM495.5 359.6h1.5v2.0h-1.5zM156.4 337.1h1.5v2.0h-1.5zM124.3 340.4h1.5v2.0h-1.5zM181.7 364.8h1.5v2.0h-1.5zM197.5 328.1h1.5v2.0h-1.5zM314.6 336.1h1.5v2.0h-1.5zM225.2 347.4h1.5v2.0h-1.5zM378.8 341.9h1.5v2.0h-1.5zM344.9 336.4h1.5v2.0h-1.5zM240.8 329.3h1.5v2.0h-1.5zM368.3 337.1h1.5v2.0h-1.5zM212.3 326.9h1.5v2.0h-1.5zM180.3 377.5h1.5v2.0h-1.5zM241.7 337.6h1.5v2.0h-1.5zM439.6 345.8h1.5v2.0h-1.5zM291.7 332.3h1.5v2.0h-1.5zM264.8 349.9h1.5v2.0h-1.5zM320.7 325.3h1.5v2.0h-1.5zM203.4 350.1h1.5v2.0h-1.5zM479.1 374.0h1.5v2.0h-1.5zM331.2 329.0h1.5v2.0h-1.5zM333.2 332.4h1.5v2.0h-1.5zM371.9 331.9h1.5v2.0h-1.5zM446.8 342.1h1.5v2.0h-1.5zM276.5 331.2h1.5v2.0h-1.5zM251.8 338.8h1.5v2.0h-1.5zM145.4 335.9h1.5v2.0h-1.5zM356.0 338.1h1.5v2.0h-1.5zM175.3 334.9h1.5v2.0h-1.5zM145.7 333.9h1.5v2.0h-1.5zM179.7 363.7h1.5v2.0h-1.5zM385.9 357.7h1.5v2.0h-1.5zM179.6 352.6h1.5v2.0h-1.5zM448.9 337.3h1.5v2.0h-1.5zM423.6 345.6h1.5v2.0h-1.5zM185.1 331.0h1.5v2.0h-1.5zM433.3 344.1h1.5v2.0h-1.5zM137.2 334.8h1.5v2.0h-1.5zM486.0 371.1h1.5v2.0h-1.5zM187.9 337.0h1.5v2.0h-1.5zM335.7 326.2h1.5v2.0h-1.5zM316.9 335.3h1.5v2.0h-1.5zM408.2 320.8h1.5v2.0h-1.5zM399.8 314.6h1.5v2.0h-1.5zM257.1 335.6h1.5v2.0h-1.5zM437.7 327.3h1.5v2.0h-1.5zM226.1 317.6h1.5v2.0h-1.5zM115.5 342.2h1.5v2.0h-1.5zM252.7 342.6h1.5v2.0h-1.5zM270.4 328.8h1.5v2.0h-1.5zM489.7 373.4h1.5v2.0h-1.5zM397.4 323.2h1.5v2.0h-1.5zM263.7 350.8h1.5v2.0h-1.5zM408.6 353.6h1.5v2.0h-1.5zM172.1 330.4h1.5v2.0h-1.5zM288.1 335.6h1.5v2.0h-1.5zM459.8 348.1h1.5v2.0h-1.5zM311.7 334.4h1.5v2.0h-1.5zM412.6 340.4h1.5v2.0h-1.5zM210.7 342.5h1.5v2.0h-1.5zM377.1 341.6h1.5v2.0h-1.5zM264.3 341.0h1.5v2.0h-1.5zM160.8 326.0h1.5v2.0h-1.5zM236.5 337.9h1.5v2.0h-1.5zM287.6 321.5h1.5v2.0h-1.5zM414.2 335.6h1.5v2.0h-1.5zM239.3 335.3h1.5v2.0h-1.5zM268.8 340.0h1.5v2.0h-1.5zM324.7 340.4h1.5v2.0h-1.5zM231.1 348.0h1.5v2.0h-1.5zM192.3 336.2h1.5v2.0h-1.5zM368.2 330.3h1.5v2.0h-1.5zM476.4 374.9h1.5v2.0h-1.5zM209.6 344.7h1.5v2.0h-1.5zM274.5 331.9h1.5v2.0h-1.5zM113.1 327.0h1.5v2.0h-1.5zM288.4 327.0h1.5v2.0h-1.5zM399.1 322.0h1.5v2.0h-1.5zM273.0 324.5h1.5v2.0h-1.5zM248.4 334.1h1.5v2.0h-1.5zM414.6 318.0h1.5v2.0h-1.5zM330.0 334.2h1.5v2.0h-1.5zM131.1 326.0h1.5v2.0h-1.5zM328.6 338.9h1.5v2.0h-1.5zM358.2 332.6h1.5v2.0h-1.5zM379.9 332.5h1.5v2.0h-1.5zM441.6 329.3h1.5v2.0h-1.5zM438.8 331.5h1.5v2.0h-1.5zM401.3 335.4h1.5v2.0h-1.5zM181.9 364.9h1.5v2.0h-1.5zM112.0 344.1h1.5v2.0h-1.5zM470.3 344.9h1.5v2.0h-1.5zM403.7 331.1h1.5v2.0h-1.5zM141.4 334.9h1.5v2.0h-1.5zM232.4 309.4h1.5v2.0h-1.5zM421.3 321.5h1.5v2.0h-1.5zM354.6 327.8h1.5v2.0h-1.5zM112.2 340.7h1.5v2.0h-1.5zM424.2 340.1h1.5v2.0h-1.5zM353.9 336.2h1.5v2.0h-1.5zM486.7 375.4h1.5v2.0h-1.5zM476.2 375.8h1.5v2.0h-1.5zM249.9 331.9h1.5v2.0h-1.5zM324.2 342.1h1.5v2.0h-1.5zM192.6 336.9h1.5v2.0h-1.5zM195.9 324.8h1.5v2.0h-1.5zM347.5 348.5h1.5v2.0h-1.5zM264.5 348.2h1.5v2.0h-1.5zM202.9 335.6h1.5v2.0h-1.5zM357.4 328.6h1.5v2.0h-1.5zM261.4 324.4h1.5v2.0h-1.5zM197.7 338.2h1.5v2.0h-1.5zM180.8 378.7h1.5v2.0h-1.5zM259.3 334.6h1.5v2.0h-1.5zM410.4 342.4h1.5v2.0h-1.5zM110.5 335.0h1.5v2.0h-1.5zM156.7 336.4h1.5v2.0h-1.5zM282.1 319.1h1.5v2.0h-1.5zM473.4 372.3h1.5v2.0h-1.5zM313.5 334.3h1.5v2.0h-1.5zM233.2 344.1h1.5v2.0h-1.5zM364.0 338.2h1.5v2.0h-1.5zM250.7 330.2h1.5v2.0h-1.5zM119.4 342.5h1.5v2.0h-1.5zM373.4 340.3h1.5v2.0h-1.5zM384.8 329.4h1.5v2.0h-1.5zM429.0 326.4h1.5v2.0h-1.5zM451.3 365.3h1.5v2.0h-1.5zM482.6 370.6h1.5v2.0h-1.5zM224.8 321.5h1.5v2.0h-1.5zM481.7 379.4h1.5v2.0h-1.5zM354.4 344.7h1.5v2.0h-1.5zM475.2 374.9h1.5v2.0h-1.5zM259.1 340.0h1.5v2.0h-1.5zM155.8 321.3h1.5v2.0h-1.5zM337.2 336.3h1.5v2.0h-1.5zM148.8 324.6h1.5v2.0h-1.5zM161.3 340.3h1.5v2.0h-1.5zM423.8 305.6h1.5v2.0h-1.5zM442.3 353.4h1.5v2.0h-1.5zM340.3 350.2h1.5v2.0h-1.5zM357.7 334.6h1.5v2.0h-1.5zM454.5 328.6h1.5v2.0h-1.5zM367.4 324.9h1.5v2.0h-1.5zM398.3 342.4h1.5v2.0h-1.5zM495.7 357.5h1.5v2.0h-1.5zM460.8 329.5h1.5v2.0h-1.5zM180.3 377.6h1.5v2.0h-1.5zM108.7 338.9h1.5v2.0h-1.5zM351.6 335.9h1.5v2.0h-1.5zM162.8 347.1h1.5v2.0h-1.5zM397.3 354.2h1.5v2.0h-1.5zM196.7 334.8h1.5v2.0h-1.5zM173.1 337.8h1.5v2.0h-1.5zM132.7 333.6h1.5v2.0h-1.5zM473.6 376.9h1.5v2.0h-1.5zM361.0 340.4h1.5v2.0h-1.5zM231.5 331.9h1.5v2.0h-1.5zM448.8 350.6h1.5v2.0h-1.5zM180.2 367.1h1.5v2.0h-1.5zM337.7 342.1h1.5v2.0h-1.5zM130.3 326.8h1.5v2.0h-1.5zM438.6 337.8h1.5v2.0h-1.5zM267.8 355.5h1.5v2.0h-1.5zM128.6 331.8h1.5v2.0h-1.5zM259.7 343.9h1.5v2.0h-1.5zM327.9 329.6h1.5v2.0h-1.5zM201.0 327.0h1.5v2.0h-1.5zM218.9 331.0h1.5v2.0h-1.5zM448.9 346.0h1.5v2.0h-1.5zM296.0 339.1h1.5v2.0h-1.5zM475.1 373.5h1.5v2.0h-1.5zM176.6 379.0h1.5v2.0h-1.5zM267.4 349.5h1.5v2.0h-1.5zM260.3 348.3h1.5v2.0h-1.5zM188.6 338.9h1.5v2.0h-1.5zM494.7 376.0h1.5v2.0h-1.5zM471.0 338.8h1.5v2.0h-1.5zM473.7 375.7h1.5v2.0h-1.5zM319.3 313.6h1.5v2.0h-1.5zM263.3 349.4h1.5v2.0h-1.5zM474.3 371.9h1.5v2.0h-1.5zM235.1 326.1h1.5v2.0h-1.5zM430.7 339.9h1.5v2.0h-1.5zM491.1 357.0h1.5v2.0h-1.5zM365.6 333.3h1.5v2.0h-1.5zM154.6 333.8h1.5v2.0h-1.5zM307.8 316.2h1.5v2.0h-1.5zM492.1 383.5h1.5v2.0h-1.5zM167.5 326.5h1.5v2.0h-1.5zM237.0 325.5h1.5v2.0h-1.5zM317.4 333.3h1.5v2.0h-1.5zM255.2 338.5h1.5v2.0h-1.5zM385.8 317.9h1.5v2.0h-1.5zM134.9 324.9h1.5v2.0h-1.5zM180.0 361.7h1.5v2.0h-1.5zM422.4 345.7h1.5v2.0h-1.5zM261.6 345.8h1.5v2.0h-1.5zM317.3 338.7h1.5v2.0h-1.5zM249.5 312.4h1.5v2.0h-1.5zM222.5 327.9h1.5v2.0h-1.5zM447.7 341.8h1.5v2.0h-1.5zM172.4 333.3h1.5v2.0h-1.5zM113.6 350.1h1.5v2.0h-1.5zM422.4 310.0h1.5v2.0h-1.5zM304.6 318.7h1.5v2.0h-1.5zM430.2 335.9h1.5v2.0h-1.5zM177.2 381.3h1.5v2.0h-1.5zM342.1 335.5h1.5v2.0h-1.5zM367.8 343.2h1.5v2.0h-1.5zM362.6 341.3h1.5v2.0h-1.5zM498.4 363.8h1.5v2.0h-1.5zM463.4 326.0h1.5v2.0h-1.5zM395.0 330.7h1.5v2.0h-1.5zM269.3 343.4h1.5v2.0h-1.5zM496.3 369.3h1.5v2.0h-1.5zM342.6 347.1h1.5v2.0h-1.5zM260.5 337.8h1.5v2.0h-1.5zM475.3 362.6h1.5v2.0h-1.5zM359.0 333.7h1.5v2.0h-1.5zM475.9 371.2h1.5v2.0h-1.5zM476.8 370.5h1.5v2.0h-1.5zM497.0 349.0h1.5v2.0h-1.5zM217.4 337.7h1.5v2.0h-1.5zM242.5 334.5h1.5v2.0h-1.5zM343.8 323.4h1.5v2.0h-1.5zM169.1 325.7h1.5v2.0h-1.5zM308.9 334.0h1.5v2.0h-1.5zM282.5 330.6h1.5v2.0h-1.5zM310.4 322.3h1.5v2.0h-1.5zM331.1 341.5h1.5v2.0h-1.5zM211.8 339.0h1.5v2.0h-1.5zM294.5 343.7h1.5v2.0h-1.5zM243.7 333.4h1.5v2.0h-1.5zM117.6 336.1h1.5v2.0h-1.5zM181.5 367.2h1.5v2.0h-1.5zM345.7 346.9h1.5v2.0h-1.5zM419.1 328.2h1.5v2.0h-1.5zM220.4 345.3h1.5v2.0h-1.5zM338.6 341.2h1.5v2.0h-1.5zM385.4 341.3h1.5v2.0h-1.5zM449.8 360.1h1.5v2.0h-1.5zM224.9 326.2h1.5v2.0h-1.5zM470.7 334.6h1.5v2.0h-1.5zM408.4 337.8h1.5v2.0h-1.5zM296.4 328.9h1.5v2.0h-1.5zM128.1 329.8h1.5v2.0h-1.5zM326.4 329.7h1.5v2.0h-1.5zM241.0 340.1h1.5v2.0h-1.5zM223.1 328.5h1.5v2.0h-1.5zM331.1 340.9h1.5v2.0h-1.5zM386.7 313.0h1.5v2.0h-1.5zM222.6 337.6h1.5v2.0h-1.5zM289.0 322.4h1.5v2.0h-1.5zM212.1 339.8h1.5v2.0h-1.5zM260.8 344.6h1.5v2.0h-1.5zM233.5 342.4h1.5v2.0h-1.5zM109.9 331.1h1.5v2.0h-1.5zM154.2 335.8h1.5v2.0h-1.5zM456.9 333.5h1.5v2.0h-1.5zM291.3 325.3h1.5v2.0h-1.5zM182.3 376.7h1.5v2.0h-1.5zM191.5 313.5h1.5v2.0h-1.5zM122.4 360.8h1.5v2.0h-1.5zM170.4 326.5h1.5v2.0h-1.5zM118.2 343.2h1.5v2.0h-1.5zM213.6 324.2h1.5v2.0h-1.5zM148.6 319.8h1.5v2.0h-1.5zM462.6 325.6h1.5v2.0h-1.5zM280.4 321.0h1.5v2.0h-1.5zM155.9 333.2h1.5v2.0h-1.5zM335.1 326.2h1.5v2.0h-1.5zM342.5 335.4h1.5v2.0h-1.5zM359.0 312.6h1.5v2.0h-1.5zM297.5 321.3h1.5v2.0h-1.5zM256.1 333.7h1.5v2.0h-1.5zM187.2 332.2h1.5v2.0h-1.5zM206.2 331.2h1.5v2.0h-1.5zM425.3 338.9h1.5v2.0h-1.5zM199.0 336.8h1.5v2.0h-1.5zM251.4 325.1h1.5v2.0h-1.5zM213.3 340.9h1.5v2.0h-1.5zM298.8 334.3h1.5v2.0h-1.5zM408.5 341.9h1.5v2.0h-1.5zM185.7 334.1h1.5v2.0h-1.5zM461.1 344.1h1.5v2.0h-1.5zM482.1 356.4h1.5v2.0h-1.5zM199.0 319.7h1.5v2.0h-1.5zM435.6 320.3h1.5v2.0h-1.5zM269.5 332.2h1.5v2.0h-1.5zM380.2 336.6h1.5v2.0h-1.5zM437.8 333.9h1.5v2.0h-1.5zM377.0 321.9h1.5v2.0h-1.5zM310.0 337.6h1.5v2.0h-1.5zM290.8 324.9h1.5v2.0h-1.5zM412.5 348.4h1.5v2.0h-1.5zM329.4 317.4h1.5v2.0h-1.5zM240.3 337.4h1.5v2.0h-1.5zM160.1 337.5h1.5v2.0h-1.5zM472.7 368.0h1.5v2.0h-1.5zM331.7 332.6h1.5v2.0h-1.5zM276.6 337.7h1.5v2.0h-1.5zM277.0 322.7h1.5v2.0h-1.5zM340.2 351.3h1.5v2.0h-1.5zM305.5 339.9h1.5v2.0h-1.5zM473.3 378.2h1.5v2.0h-1.5zM272.9 338.8h1.5v2.0h-1.5zM403.9 333.2h1.5v2.0h-1.5zM182.8 370.6h1.5v2.0h-1.5zM182.2 362.0h1.5v2.0h-1.5zM484.4 371.7h1.5v2.0h-1.5zM169.9 337.4h1.5v2.0h-1.5zM126.7 326.0h1.5v2.0h-1.5zM482.2 366.7h1.5v2.0h-1.5zM345.2 328.2h1.5v2.0h-1.5zM418.3 326.5h1.5v2.0h-1.5zM434.0 331.3h1.5v2.0h-1.5zM454.0 339.6h1.5v2.0h-1.5zM122.9 341.4h1.5v2.0h-1.5zM493.3 379.4h1.5v2.0h-1.5zM238.7 333.5h1.5v2.0h-1.5zM235.9 336.2h1.5v2.0h-1.5zM178.8 373.5h1.5v2.0h-1.5zM420.6 330.4h1.5v2.0h-1.5zM307.7 328.2h1.5v2.0h-1.5zM472.5 376.0h1.5v2.0h-1.5zM418.7 333.5h1.5v2.0h-1.5zM300.4 327.9h1.5v2.0h-1.5zM460.4 337.6h1.5v2.0h-1.5zM477.0 370.3h1.5v2.0h-1.5zM367.0 330.0h1.5v2.0h-1.5zM451.7 323.5h1.5v2.0h-1.5zM138.7 324.7h1.5v2.0h-1.5zM253.2 338.5h1.5v2.0h-1.5zM168.6 323.8h1.5v2.0h-1.5zM363.8 330.8h1.5v2.0h-1.5zM478.8 370.7h1.5v2.0h-1.5zM493.8 372.2h1.5v2.0h-1.5zM121.3 346.2h1.5v2.0h-1.5zM414.0 342.3h1.5v2.0h-1.5zM122.5 335.2h1.5v2.0h-1.5zM210.1 343.7h1.5v2.0h-1.5zM321.7 338.9h1.5v2.0h-1.5zM182.3 367.1h1.5v2.0h-1.5zM253.1 341.9h1.5v2.0h-1.5zM176.6 383.1h1.5v2.0h-1.5zM315.6 323.6h1.5v2.0h-1.5zM482.1 382.7h1.5v2.0h-1.5zM476.7 375.0h1.5v2.0h-1.5zM270.9 325.6h1.5v2.0h-1.5zM180.7 366.1h1.5v2.0h-1.5zM227.3 357.6h1.5v2.0h-1.5zM193.8 337.1h1.5v2.0h-1.5zM375.2 322.4h1.5v2.0h-1.5zM361.5 336.8h1.5v2.0h-1.5zM136.0 321.0h1.5v2.0h-1.5zM179.7 368.2h1.5v2.0h-1.5zM389.5 349.5h1.5v2.0h-1.5zM225.3 326.8h1.5v2.0h-1.5zM162.1 330.1h1.5v2.0h-1.5zM154.2 332.1h1.5v2.0h-1.5zM123.0 341.6h1.5v2.0h-1.5zM333.1 344.1h1.5v2.0h-1.5zM142.9 319.0h1.5v2.0h-1.5zM220.8 339.6h1.5v2.0h-1.5zM164.6 338.2h1.5v2.0h-1.5zM237.1 326.0h1.5v2.0h-1.5zM298.3 338.6h1.5v2.0h-1.5zM254.2 337.4h1.5v2.0h-1.5zM236.5 356.4h1.5v2.0h-1.5zM241.6 332.5h1.5v2.0h-1.5zM239.9 326.0h1.5v2.0h-1.5zM314.6 337.4h1.5v2.0h-1.5zM232.1 318.9h1.5v2.0h-1.5zM266.8 343.3h1.5v2.0h-1.5zM192.9 330.9h1.5v2.0h-1.5zM369.9 327.1h1.5v2.0h-1.5zM356.3 329.1h1.5v2.0h-1.5zM493.3 359.6h1.5v2.0h-1.5zM305.2 334.7h1.5v2.0h-1.5zM309.6 310.1h1.5v2.0h-1.5zM260.3 349.2h1.5v2.0h-1.5zM493.8 360.2h1.5v2.0h-1.5zM424.6 346.2h1.5v2.0h-1.5zM208.3 329.3h1.5v2.0h-1.5zM306.0 333.0h1.5v2.0h-1.5zM227.3 338.9h1.5v2.0h-1.5zM118.8 348.6h1.5v2.0h-1.5zM143.1 339.1h1.5v2.0h-1.5zM200.3 342.5h1.5v2.0h-1.5zM272.6 326.0h1.5v2.0h-1.5zM489.9 364.5h1.5v2.0h-1.5zM394.8 333.0h1.5v2.0h-1.5zM200.6 343.0h1.5v2.0h-1.5zM267.6 338.3h1.5v2.0h-1.5zM470.3 339.3h1.5v2.0h-1.5zM217.8 335.1h1.5v2.0h-1.5zM208.8 328.9h1.5v2.0h-1.5zM343.2 338.9h1.5v2.0h-1.5zM117.8 340.2h1.5v2.0h-1.5zM265.4 349.0h1.5v2.0h-1.5zM117.1 329.1h1.5v2.0h-1.5zM404.4 354.2h1.5v2.0h-1.5zM413.5 331.2h1.5v2.0h-1.5zM162.7 320.0h1.5v2.0h-1.5zM266.6 351.4h1.5v2.0h-1.5zM494.1 375.3h1.5v2.0h-1.5zM117.6 315.9h1.5v2.0h-1.5zM202.4 342.5h1.5v2.0h-1.5zM397.6 333.6h1.5v2.0h-1.5zM373.4 325.8h1.5v2.0h-1.5zM350.0 325.2h1.5v2.0h-1.5zM499.1 358.2h1.5v2.0h-1.5zM198.5 329.7h1.5v2.0h-1.5zM182.2 382.8h1.5v2.0h-1.5zM266.4 350.2h1.5v2.0h-1.5zM171.7 331.5h1.5v2.0h-1.5zM160.2 324.1h1.5v2.0h-1.5zM387.0 328.5h1.5v2.0h-1.5zM469.3 346.2h1.5v2.0h-1.5zM308.7 321.6h1.5v2.0h-1.5zM333.1 337.3h1.5v2.0h-1.5zM380.7 339.0h1.5v2.0h-1.5zM457.5 330.6h1.5v2.0h-1.5zM182.3 376.4h1.5v2.0h-1.5zM178.9 353.6h1.5v2.0h-1.5zM468.9 325.2h1.5v2.0h-1.5zM327.2 332.6h1.5v2.0h-1.5zM224.1 333.8h1.5v2.0h-1.5zM293.4 327.7h1.5v2.0h-1.5zM309.9 340.7h1.5v2.0h-1.5zM387.9 334.7h1.5v2.0h-1.5zM286.5 324.5h1.5v2.0h-1.5zM391.5 324.6h1.5v2.0h-1.5zM152.9 337.2h1.5v2.0h-1.5zM489.4 372.0h1.5v2.0h-1.5zM195.0 336.2h1.5v2.0h-1.5zM235.0 326.3h1.5v2.0h-1.5zM428.0 334.9h1.5v2.0h-1.5zM231.8 325.9h1.5v2.0h-1.5zM414.5 331.4h1.5v2.0h-1.5zM267.0 345.1h1.5v2.0h-1.5zM397.7 335.4h1.5v2.0h-1.5zM447.1 354.4h1.5v2.0h-1.5zM393.1 341.4h1.5v2.0h-1.5zM365.7 324.8h1.5v2.0h-1.5zM451.0 354.0h1.5v2.0h-1.5zM156.7 319.8h1.5v2.0h-1.5zM442.7 348.4h1.5v2.0h-1.5zM241.6 340.3h1.5v2.0h-1.5zM446.2 356.1h1.5v2.0h-1.5zM368.4 328.0h1.5v2.0h-1.5zM283.2 323.8h1.5v2.0h-1.5zM191.5 319.7h1.5v2.0h-1.5zM478.3 371.8h1.5v2.0h-1.5zM286.8 332.7h1.5v2.0h-1.5zM246.2 343.2h1.5v2.0h-1.5zM226.9 328.0h1.5v2.0h-1.5zM410.3 329.5h1.5v2.0h-1.5zM426.2 330.6h1.5v2.0h-1.5zM495.6 371.9h1.5v2.0h-1.5zM326.7 343.6h1.5v2.0h-1.5zM476.1 383.5h1.5v2.0h-1.5zM421.0 334.3h1.5v2.0h-1.5zM375.5 317.3h1.5v2.0h-1.5zM352.4 334.7h1.5v2.0h-1.5zM196.7 330.7h1.5v2.0h-1.5zM177.7 372.0h1.5v2.0h-1.5zM293.6 319.9h1.5v2.0h-1.5zM459.7 331.2h1.5v2.0h-1.5zM415.3 340.2h1.5v2.0h-1.5zM303.8 328.5h1.5v2.0h-1.5zM203.4 335.6h1.5v2.0h-1.5zM364.6 337.7h1.5v2.0h-1.5zM326.6 336.1h1.5v2.0h-1.5zM322.8 332.2h1.5v2.0h-1.5zM256.6 335.5h1.5v2.0h-1.5zM132.2 331.2h1.5v2.0h-1.5zM446.1 331.5h1.5v2.0h-1.5zM347.9 340.5h1.5v2.0h-1.5zM466.6 351.8h1.5v2.0h-1.5zM447.8 322.1h1.5v2.0h-1.5zM402.9 327.0h1.5v2.0h-1.5zM149.8 335.6h1.5v2.0h-1.5zM442.3 338.1h1.5v2.0h-1.5zM289.2 315.6h1.5v2.0h-1.5zM306.7 338.5h1.5v2.0h-1.5zM247.0 335.8h1.5v2.0h-1.5zM447.9 331.2h1.5v2.0h-1.5zM346.4 333.6h1.5v2.0h-1.5zM271.6 339.9h1.5v2.0h-1.5zM296.4 329.7h1.5v2.0h-1.5zM458.9 341.9h1.5v2.0h-1.5zM171.1 335.9h1.5v2.0h-1.5zM203.2 334.4h1.5v2.0h-1.5zM400.5 324.7h1.5v2.0h-1.5zM402.9 353.0h1.5v2.0h-1.5zM352.8 344.5h1.5v2.0h-1.5zM396.4 336.1h1.5v2.0h-1.5zM152.1 338.4h1.5v2.0h-1.5zM376.2 323.4h1.5v2.0h-1.5zM421.7 347.9h1.5v2.0h-1.5zM160.5 333.5h1.5v2.0h-1.5zM172.1 323.9h1.5v2.0h-1.5zM355.1 331.3h1.5v2.0h-1.5zM466.8 321.1h1.5v2.0h-1.5zM252.3 340.3h1.5v2.0h-1.5zM148.1 325.9h1.5v2.0h-1.5zM123.3 347.1h1.5v2.0h-1.5zM255.4 331.4h1.5v2.0h-1.5zM422.0 338.9h1.5v2.0h-1.5zM376.1 341.0h1.5v2.0h-1.5zM469.5 328.9h1.5v2.0h-1.5zM311.8 345.1h1.5v2.0h-1.5zM235.0 329.9h1.5v2.0h-1.5zM444.6 326.6h1.5v2.0h-1.5zM197.4 340.4h1.5v2.0h-1.5zM191.4 337.4h1.5v2.0h-1.5zM153.0 336.3h1.5v2.0h-1.5zM330.4 339.7h1.5v2.0h-1.5zM234.3 329.8h1.5v2.0h-1.5zM154.1 333.6h1.5v2.0h-1.5zM421.6 344.4h1.5v2.0h-1.5zM457.0 343.8h1.5v2.0h-1.5zM294.5 339.1h1.5v2.0h-1.5zM412.9 350.2h1.5v2.0h-1.5zM444.8 347.9h1.5v2.0h-1.5zM409.2 330.9h1.5v2.0h-1.5zM309.1 342.3h1.5v2.0h-1.5zM268.0 349.1h1.5v2.0h-1.5zM345.6 337.4h1.5v2.0h-1.5zM209.2 336.5h1.5v2.0h-1.5zM214.9 326.7h1.5v2.0h-1.5zM484.9 376.8h1.5v2.0h-1.5zM349.3 338.6h1.5v2.0h-1.5zM257.2 337.7h1.5v2.0h-1.5zM358.5 338.9h1.5v2.0h-1.5zM302.8 331.9h1.5v2.0h-1.5zM188.0 328.2h1.5v2.0h-1.5zM459.6 346.9h1.5v2.0h-1.5zM440.4 342.5h1.5v2.0h-1.5zM316.1 338.6h1.5v2.0h-1.5zM152.9 306.3h1.5v2.0h-1.5zM305.2 352.3h1.5v2.0h-1.5zM330.6 324.5h1.5v2.0h-1.5zM369.4 327.0h1.5v2.0h-1.5zM281.4 325.1h1.5v2.0h-1.5zM232.9 325.9h1.5v2.0h-1.5zM409.1 346.2h1.5v2.0h-1.5zM490.5 371.0h1.5v2.0h-1.5zM495.2 372.0h1.5v2.0h-1.5zM178.3 375.3h1.5v2.0h-1.5zM197.7 331.1h1.5v2.0h-1.5zM280.9 321.5h1.5v2.0h-1.5zM471.3 347.0h1.5v2.0h-1.5zM278.9 322.4h1.5v2.0h-1.5zM314.6 340.9h1.5v2.0h-1.5zM172.5 336.7h1.5v2.0h-1.5zM122.2 352.4h1.5v2.0h-1.5zM109.4 329.9h1.5v2.0h-1.5zM295.0 339.3h1.5v2.0h-1.5zM494.1 358.0h1.5v2.0h-1.5zM318.2 338.1h1.5v2.0h-1.5zM433.1 347.5h1.5v2.0h-1.5zM280.4 333.9h1.5v2.0h-1.5zM334.3 351.2h1.5v2.0h-1.5zM200.0 332.9h1.5v2.0h-1.5zM394.2 344.0h1.5v2.0h-1.5zM459.4 336.5h1.5v2.0h-1.5zM119.5 329.3h1.5v2.0h-1.5zM372.1 330.5h1.5v2.0h-1.5zM112.3 341.5h1.5v2.0h-1.5zM301.4 321.0h1.5v2.0h-1.5zM222.3 344.1h1.5v2.0h-1.5zM190.4 339.1h1.5v2.0h-1.5zM352.6 337.6h1.5v2.0h-1.5zM223.7 322.2h1.5v2.0h-1.5zM288.8 320.2h1.5v2.0h-1.5zM206.3 342.8h1.5v2.0h-1.5zM397.1 347.8h1.5v2.0h-1.5zM170.3 329.4h1.5v2.0h-1.5zM459.6 324.8h1.5v2.0h-1.5zM117.8 341.6h1.5v2.0h-1.5zM178.1 370.0h1.5v2.0h-1.5zM265.5 339.3h1.5v2.0h-1.5zM185.6 329.0h1.5v2.0h-1.5zM225.4 342.5h1.5v2.0h-1.5zM167.6 328.8h1.5v2.0h-1.5zM361.7 338.2h1.5v2.0h-1.5zM475.2 364.0h1.5v2.0h-1.5zM188.0 323.0h1.5v2.0h-1.5zM352.8 340.8h1.5v2.0h-1.5zM236.1 322.7h1.5v2.0h-1.5zM137.2 331.6h1.5v2.0h-1.5zM125.7 333.9h1.5v2.0h-1.5zM343.7 340.4h1.5v2.0h-1.5zM411.5 341.8h1.5v2.0h-1.5zM482.2 372.1h1.5v2.0h-1.5zM212.3 338.1h1.5v2.0h-1.5zM261.4 346.1h1.5v2.0h-1.5zM148.9 330.8h1.5v2.0h-1.5zM222.9 327.9h1.5v2.0h-1.5zM370.5 319.8h1.5v2.0h-1.5zM228.4 341.1h1.5v2.0h-1.5zM275.6 328.8h1.5v2.0h-1.5zM127.4 336.3h1.5v2.0h-1.5zM463.4 317.5h1.5v2.0h-1.5zM173.0 337.3h1.5v2.0h-1.5zM332.3 340.6h1.5v2.0h-1.5zM133.6 322.4h1.5v2.0h-1.5zM291.3 331.7h1.5v2.0h-1.5zM393.9 326.2h1.5v2.0h-1.5zM310.6 341.7h1.5v2.0h-1.5zM230.3 333.5h1.5v2.0h-1.5zM478.8 366.8h1.5v2.0h-1.5zM166.6 342.6h1.5v2.0h-1.5zM353.8 340.4h1.5v2.0h-1.5zM371.6 325.3h1.5v2.0h-1.5zM185.4 344.9h1.5v2.0h-1.5zM378.1 333.6h1.5v2.0h-1.5zM319.8 350.0h1.5v2.0h-1.5zM493.4 356.7h1.5v2.0h-1.5zM389.2 341.1h1.5v2.0h-1.5zM407.5 338.3h1.5v2.0h-1.5zM475.9 369.4h1.5v2.0h-1.5zM387.7 347.6h1.5v2.0h-1.5zM209.4 328.3h1.5v2.0h-1.5zM163.0 329.9h1.5v2.0h-1.5zM489.3 383.5h1.5v2.0h-1.5zM209.8 347.6h1.5v2.0h-1.5zM484.2 373.0h1.5v2.0h-1.5zM146.8 334.4h1.5v2.0h-1.5zM355.4 328.7h1.5v2.0h-1.5zM426.8 338.0h1.5v2.0h-1.5zM429.4 318.6h1.5v2.0h-1.5zM154.2 330.7h1.5v2.0h-1.5zM491.1 372.8h1.5v2.0h-1.5zM120.6 345.9h1.5v2.0h-1.5zM327.1 367.3h1.5v2.0h-1.5zM165.8 327.1h1.5v2.0h-1.5zM216.6 335.1h1.5v2.0h-1.5zM434.7 335.7h1.5v2.0h-1.5zM237.3 338.8h1.5v2.0h-1.5zM259.4 333.7h1.5v2.0h-1.5zM276.8 327.6h1.5v2.0h-1.5zM267.4 345.4h1.5v2.0h-1.5zM477.4 363.6h1.5v2.0h-1.5zM251.8 315.3h1.5v2.0h-1.5zM457.0 329.9h1.5v2.0h-1.5zM487.7 369.6h1.5v2.0h-1.5zM364.3 339.9h1.5v2.0h-1.5zM292.6 329.1h1.5v2.0h-1.5zM165.3 337.3h1.5v2.0h-1.5zM267.7 338.2h1.5v2.0h-1.5zM372.8 348.5h1.5v2.0h-1.5zM181.4 364.2h1.5v2.0h-1.5zM498.0 364.6h1.5v2.0h-1.5zM314.6 319.9h1.5v2.0h-1.5zM165.8 337.1h1.5v2.0h-1.5zM373.3 329.6h1.5v2.0h-1.5zM181.4 361.8h1.5v2.0h-1.5zM150.2 335.5h1.5v2.0h-1.5zM111.8 324.4h1.5v2.0h-1.5zM458.6 329.6h1.5v2.0h-1.5zM464.9 336.0h1.5v2.0h-1.5zM128.7 323.5h1.5v2.0h-1.5zM128.4 327.9h1.5v2.0h-1.5zM484.4 382.0h1.5v2.0h-1.5zM475.0 371.9h1.5v2.0h-1.5zM426.1 342.9h1.5v2.0h-1.5zM151.6 346.0h1.5v2.0h-1.5zM444.3 344.4h1.5v2.0h-1.5zM356.5 336.2h1.5v2.0h-1.5zM491.9 349.0h1.5v2.0h-1.5zM341.3 325.4h1.5v2.0h-1.5zM397.8 326.9h1.5v2.0h-1.5zM497.1 373.5h1.5v2.0h-1.5zM162.4 333.3h1.5v2.0h-1.5zM136.1 341.2h1.5v2.0h-1.5zM238.0 320.7h1.5v2.0h-1.5zM360.8 327.4h1.5v2.0h-1.5zM120.0 333.3h1.5v2.0h-1.5zM325.6 333.3h1.5v2.0h-1.5zM372.3 333.7h1.5v2.0h-1.5zM427.0 327.0h1.5v2.0h-1.5zM281.0 325.5h1.5v2.0h-1.5zM218.4 336.1h1.5v2.0h-1.5zM361.7 331.3h1.5v2.0h-1.5zM265.8 348.5h1.5v2.0h-1.5zM330.1 352.9h1.5v2.0h-1.5zM145.0 327.2h1.5v2.0h-1.5zM352.3 341.6h1.5v2.0h-1.5zM264.4 346.4h1.5v2.0h-1.5zM305.3 350.8h1.5v2.0h-1.5zM178.1 381.3h1.5v2.0h-1.5zM462.3 349.9h1.5v2.0h-1.5zM489.6 378.8h1.5v2.0h-1.5zM441.7 352.4h1.5v2.0h-1.5zM396.7 342.1h1.5v2.0h-1.5zM388.0 339.7h1.5v2.0h-1.5zM470.1 323.4h1.5v2.0h-1.5zM491.4 367.1h1.5v2.0h-1.5zM439.2 346.7h1.5v2.0h-1.5zM213.7 339.1h1.5v2.0h-1.5zM179.6 373.1h1.5v2.0h-1.5zM447.6 340.6h1.5v2.0h-1.5zM240.3 348.5h1.5v2.0h-1.5zM171.3 319.6h1.5v2.0h-1.5zM254.1 326.6h1.5v2.0h-1.5zM433.3 322.8h1.5v2.0h-1.5zM406.2 340.5h1.5v2.0h-1.5zM364.7 325.9h1.5v2.0h-1.5zM262.0 346.5h1.5v2.0h-1.5zM486.8 364.5h1.5v2.0h-1.5zM308.5 307.8h1.5v2.0h-1.5zM114.2 330.4h1.5v2.0h-1.5zM174.4 326.0h1.5v2.0h-1.5zM418.8 321.8h1.5v2.0h-1.5zM265.8 354.7h1.5v2.0h-1.5zM162.6 324.1h1.5v2.0h-1.5zM132.2 330.7h1.5v2.0h-1.5zM322.6 338.2h1.5v2.0h-1.5zM368.0 330.0h1.5v2.0h-1.5zM353.5 326.3h1.5v2.0h-1.5zM248.5 331.0h1.5v2.0h-1.5zM407.8 342.7h1.5v2.0h-1.5zM309.8 339.1h1.5v2.0h-1.5zM391.8 332.2h1.5v2.0h-1.5zM495.2 378.7h1.5v2.0h-1.5zM161.9 329.4h1.5v2.0h-1.5zM179.9 369.6h1.5v2.0h-1.5zM221.8 332.5h1.5v2.0h-1.5zM182.5 380.1h1.5v2.0h-1.5zM490.5 377.1h1.5v2.0h-1.5zM268.3 351.7h1.5v2.0h-1.5zM264.5 353.7h1.5v2.0h-1.5zM108.5 333.9h1.5v2.0h-1.5zM156.7 333.1h1.5v2.0h-1.5zM415.4 331.3h1.5v2.0h-1.5zM235.4 335.1h1.5v2.0h-1.5zM205.1 324.9h1.5v2.0h-1.5zM188.8 318.9h1.5v2.0h-1.5zM316.8 344.7h1.5v2.0h-1.5zM422.5 322.3h1.5v2.0h-1.5zM330.4 341.2h1.5v2.0h-1.5zM154.9 331.1h1.5v2.0h-1.5zM401.5 369.2h1.5v2.0h-1.5zM327.7 336.0h1.5v2.0h-1.5zM399.5 336.2h1.5v2.0h-1.5zM371.1 336.5h1.5v2.0h-1.5zM306.2 337.0h1.5v2.0h-1.5zM417.8 321.5h1.5v2.0h-1.5zM189.1 348.0h1.5v2.0h-1.5zM476.5 372.4h1.5v2.0h-1.5zM221.4 326.3h1.5v2.0h-1.5zM324.8 350.0h1.5v2.0h-1.5zM244.2 332.7h1.5v2.0h-1.5zM436.5 316.0h1.5v2.0h-1.5zM439.7 339.6h1.5v2.0h-1.5zM494.3 368.4h1.5v2.0h-1.5zM213.5 307.4h1.5v2.0h-1.5zM440.1 336.6h1.5v2.0h-1.5zM488.8 375.9h1.5v2.0h-1.5zM380.4 313.3h1.5v2.0h-1.5zM454.0 350.8h1.5v2.0h-1.5zM182.4 365.8h1.5v2.0h-1.5zM418.1 347.6h1.5v2.0h-1.5zM317.8 345.1h1.5v2.0h-1.5zM429.4 335.1h1.5v2.0h-1.5zM364.6 332.4h1.5v2.0h-1.5zM491.4 371.7h1.5v2.0h-1.5zM177.0 377.4h1.5v2.0h-1.5zM288.4 317.7h1.5v2.0h-1.5zM305.6 334.5h1.5v2.0h-1.5zM156.6 337.2h1.5v2.0h-1.5zM431.2 332.0h1.5v2.0h-1.5zM141.7 329.7h1.5v2.0h-1.5zM352.0 340.5h1.5v2.0h-1.5zM395.9 336.2h1.5v2.0h-1.5zM229.3 335.6h1.5v2.0h-1.5zM146.8 318.1h1.5v2.0h-1.5zM360.1 336.2h1.5v2.0h-1.5zM473.1 383.5h1.5v2.0h-1.5zM418.8 324.5h1.5v2.0h-1.5zM287.5 315.6h1.5v2.0h-1.5zM179.3 363.3h1.5v2.0h-1.5zM186.3 349.0h1.5v2.0h-1.5zM371.8 310.5h1.5v2.0h-1.5zM123.8 336.2h1.5v2.0h-1.5zM248.6 325.9h1.5v2.0h-1.5zM425.2 351.3h1.5v2.0h-1.5zM118.2 339.2h1.5v2.0h-1.5zM180.2 360.5h1.5v2.0h-1.5zM383.4 318.7h1.5v2.0h-1.5zM139.4 335.2h1.5v2.0h-1.5zM115.9 372.0h1.5v2.0h-1.5zM458.2 335.2h1.5v2.0h-1.5zM130.2 339.7h1.5v2.0h-1.5zM221.4 324.5h1.5v2.0h-1.5zM384.0 345.2h1.5v2.0h-1.5zM202.8 334.5h1.5v2.0h-1.5zM307.2 332.4h1.5v2.0h-1.5zM415.7 323.9h1.5v2.0h-1.5zM329.6 347.0h1.5v2.0h-1.5zM467.8 343.5h1.5v2.0h-1.5zM255.1 329.3h1.5v2.0h-1.5zM367.8 337.2h1.5v2.0h-1.5zM205.5 324.9h1.5v2.0h-1.5zM112.5 331.7h1.5v2.0h-1.5zM154.4 328.0h1.5v2.0h-1.5zM111.3 336.6h1.5v2.0h-1.5zM209.9 344.8h1.5v2.0h-1.5zM159.9 335.0h1.5v2.0h-1.5zM312.2 347.1h1.5v2.0h-1.5zM215.6 337.5h1.5v2.0h-1.5zM286.4 333.0h1.5v2.0h-1.5zM209.0 315.1h1.5v2.0h-1.5zM210.3 323.1h1.5v2.0h-1.5zM402.8 332.4h1.5v2.0h-1.5zM397.4 330.6h1.5v2.0h-1.5zM447.2 346.8h1.5v2.0h-1.5zM475.7 377.7h1.5v2.0h-1.5zM177.0 375.9h1.5v2.0h-1.5zM207.2 336.4h1.5v2.0h-1.5zM402.0 326.1h1.5v2.0h-1.5zM341.6 336.8h1.5v2.0h-1.5zM162.9 338.5h1.5v2.0h-1.5zM173.4 331.8h1.5v2.0h-1.5zM262.3 346.6h1.5v2.0h-1.5zM282.8 332.9h1.5v2.0h-1.5zM472.9 369.4h1.5v2.0h-1.5zM274.8 339.3h1.5v2.0h-1.5zM492.2 363.0h1.5v2.0h-1.5zM488.5 374.5h1.5v2.0h-1.5zM262.3 350.6h1.5v2.0h-1.5zM107.3 344.2h1.5v2.0h-1.5zM478.4 381.0h1.5v2.0h-1.5zM117.6 339.2h1.5v2.0h-1.5zM322.9 336.8h1.5v2.0h-1.5zM265.4 346.5h1.5v2.0h-1.5zM309.6 320.7h1.5v2.0h-1.5zM337.3 341.1h1.5v2.0h-1.5zM280.7 324.4h1.5v2.0h-1.5zM176.6 382.6h1.5v2.0h-1.5zM417.5 335.8h1.5v2.0h-1.5zM489.7 371.2h1.5v2.0h-1.5zM238.0 334.9h1.5v2.0h-1.5zM347.6 321.6h1.5v2.0h-1.5zM457.5 332.5h1.5v2.0h-1.5zM308.5 338.5h1.5v2.0h-1.5zM492.9 363.1h1.5v2.0h-1.5zM476.5 373.5h1.5v2.0h-1.5zM212.9 340.5h1.5v2.0h-1.5zM475.4 373.0h1.5v2.0h-1.5zM465.8 329.3h1.5v2.0h-1.5zM403.4 333.3h1.5v2.0h-1.5zM433.6 330.4h1.5v2.0h-1.5zM216.8 336.6h1.5v2.0h-1.5zM437.5 340.5h1.5v2.0h-1.5zM288.0 325.1h1.5v2.0h-1.5zM347.3 331.4h1.5v2.0h-1.5zM483.7 374.4h1.5v2.0h-1.5zM330.1 341.6h1.5v2.0h-1.5zM486.0 379.8h1.5v2.0h-1.5zM177.5 353.8h1.5v2.0h-1.5zM115.7 328.3h1.5v2.0h-1.5zM455.3 349.6h1.5v2.0h-1.5zM330.4 329.4h1.5v2.0h-1.5zM263.5 343.5h1.5v2.0h-1.5zM411.0 332.8h1.5v2.0h-1.5zM467.0 321.7h1.5v2.0h-1.5zM132.8 329.5h1.5v2.0h-1.5zM264.8 344.4h1.5v2.0h-1.5zM238.5 341.0h1.5v2.0h-1.5zM235.4 330.2h1.5v2.0h-1.5zM338.6 336.5h1.5v2.0h-1.5zM289.9 322.4h1.5v2.0h-1.5zM490.1 367.6h1.5v2.0h-1.5zM228.3 335.7h1.5v2.0h-1.5zM155.4 346.9h1.5v2.0h-1.5zM361.7 335.1h1.5v2.0h-1.5zM152.0 329.7h1.5v2.0h-1.5zM378.3 322.6h1.5v2.0h-1.5zM258.5 331.7h1.5v2.0h-1.5zM158.4 340.1h1.5v2.0h-1.5zM143.1 320.9h1.5v2.0h-1.5zM250.8 339.2h1.5v2.0h-1.5zM213.7 329.9h1.5v2.0h-1.5zM491.9 358.0h1.5v2.0h-1.5zM134.8 334.0h1.5v2.0h-1.5zM332.1 343.9h1.5v2.0h-1.5zM294.3 331.8h1.5v2.0h-1.5zM312.9 328.9h1.5v2.0h-1.5zM179.3 357.2h1.5v2.0h-1.5zM390.0 333.6h1.5v2.0h-1.5zM323.3 326.6h1.5v2.0h-1.5zM190.3 319.4h1.5v2.0h-1.5zM110.0 340.7h1.5v2.0h-1.5zM472.7 376.1h1.5v2.0h-1.5zM339.8 338.9h1.5v2.0h-1.5zM433.2 331.3h1.5v2.0h-1.5zM159.3 342.3h1.5v2.0h-1.5zM351.0 327.1h1.5v2.0h-1.5zM338.3 342.8h1.5v2.0h-1.5zM407.7 334.1h1.5v2.0h-1.5zM381.9 328.5h1.5v2.0h-1.5zM409.3 335.8h1.5v2.0h-1.5zM149.5 346.4h1.5v2.0h-1.5zM401.0 331.1h1.5v2.0h-1.5zM180.9 361.4h1.5v2.0h-1.5zM299.4 339.4h1.5v2.0h-1.5zM319.4 345.4h1.5v2.0h-1.5zM194.9 327.1h1.5v2.0h-1.5zM244.9 356.2h1.5v2.0h-1.5zM106.8 343.4h1.5v2.0h-1.5zM357.3 338.4h1.5v2.0h-1.5zM144.4 334.3h1.5v2.0h-1.5zM483.9 370.6h1.5v2.0h-1.5zM483.2 372.0h1.5v2.0h-1.5zM411.6 348.9h1.5v2.0h-1.5zM211.9 329.5h1.5v2.0h-1.5zM452.1 339.5h1.5v2.0h-1.5zM372.5 325.7h1.5v2.0h-1.5zM464.5 335.2h1.5v2.0h-1.5zM422.4 341.3h1.5v2.0h-1.5zM180.9 371.1h1.5v2.0h-1.5zM218.0 332.3h1.5v2.0h-1.5zM448.0 327.8h1.5v2.0h-1.5zM479.6 361.6h1.5v2.0h-1.5zM479.3 377.8h1.5v2.0h-1.5zM411.6 346.1h1.5v2.0h-1.5zM203.3 328.1h1.5v2.0h-1.5zM435.9 332.6h1.5v2.0h-1.5zM361.2 323.6h1.5v2.0h-1.5zM373.8 326.4h1.5v2.0h-1.5zM187.5 349.6h1.5v2.0h-1.5zM420.1 351.1h1.5v2.0h-1.5zM497.6 368.1h1.5v2.0h-1.5zM147.5 335.7h1.5v2.0h-1.5zM289.0 333.3h1.5v2.0h-1.5zM154.4 330.5h1.5v2.0h-1.5zM356.0 341.4h1.5v2.0h-1.5zM320.3 348.9h1.5v2.0h-1.5zM163.4 338.1h1.5v2.0h-1.5zM230.3 344.9h1.5v2.0h-1.5zM299.3 323.4h1.5v2.0h-1.5zM475.5 366.1h1.5v2.0h-1.5zM399.5 328.0h1.5v2.0h-1.5zM262.6 346.5h1.5v2.0h-1.5zM257.2 337.6h1.5v2.0h-1.5zM212.6 325.4h1.5v2.0h-1.5zM389.7 342.1h1.5v2.0h-1.5zM318.4 355.3h1.5v2.0h-1.5zM171.7 345.1h1.5v2.0h-1.5zM392.2 332.5h1.5v2.0h-1.5zM261.8 345.3h1.5v2.0h-1.5zM285.9 348.2h1.5v2.0h-1.5zM280.1 330.4h1.5v2.0h-1.5zM199.1 340.1h1.5v2.0h-1.5zM451.6 352.0h1.5v2.0h-1.5zM368.2 330.5h1.5v2.0h-1.5zM179.7 361.1h1.5v2.0h-1.5zM174.7 343.4h1.5v2.0h-1.5zM176.3 341.5h1.5v2.0h-1.5zM369.7 347.2h1.5v2.0h-1.5zM425.3 331.3h1.5v2.0h-1.5zM477.7 371.3h1.5v2.0h-1.5zM284.8 325.2h1.5v2.0h-1.5zM302.0 343.9h1.5v2.0h-1.5zM205.0 340.0h1.5v2.0h-1.5zM282.7 322.4h1.5v2.0h-1.5zM401.3 325.4h1.5v2.0h-1.5zM445.2 357.0h1.5v2.0h-1.5zM122.8 334.2h1.5v2.0h-1.5zM212.9 335.4h1.5v2.0h-1.5zM251.8 348.1h1.5v2.0h-1.5zM145.0 333.5h1.5v2.0h-1.5zM265.7 350.6h1.5v2.0h-1.5zM204.7 332.6h1.5v2.0h-1.5zM478.2 372.7h1.5v2.0h-1.5zM476.9 377.3h1.5v2.0h-1.5zM315.8 321.2h1.5v2.0h-1.5zM390.7 340.5h1.5v2.0h-1.5zM153.1 333.1h1.5v2.0h-1.5zM443.5 350.1h1.5v2.0h-1.5zM295.7 371.5h1.5v2.0h-1.5zM319.8 341.7h1.5v2.0h-1.5zM274.2 327.4h1.5v2.0h-1.5zM312.9 340.8h1.5v2.0h-1.5zM325.9 341.3h1.5v2.0h-1.5zM132.1 342.4h1.5v2.0h-1.5zM346.6 338.6h1.5v2.0h-1.5zM178.5 364.2h1.5v2.0h-1.5zM498.1 357.9h1.5v2.0h-1.5zM156.9 340.0h1.5v2.0h-1.5zM291.6 330.6h1.5v2.0h-1.5zM135.1 343.7h1.5v2.0h-1.5zM399.3 355.6h1.5v2.0h-1.5zM338.0 359.1h1.5v2.0h-1.5zM113.1 345.2h1.5v2.0h-1.5zM165.2 326.2h1.5v2.0h-1.5zM292.8 309.1h1.5v2.0h-1.5zM334.7 325.4h1.5v2.0h-1.5zM336.2 332.2h1.5v2.0h-1.5zM147.8 325.1h1.5v2.0h-1.5zM279.3 326.9h1.5v2.0h-1.5zM405.7 340.9h1.5v2.0h-1.5zM166.5 325.5h1.5v2.0h-1.5zM349.8 333.4h1.5v2.0h-1.5zM431.6 323.5h1.5v2.0h-1.5zM427.7 324.5h1.5v2.0h-1.5zM384.9 339.9h1.5v2.0h-1.5zM166.4 322.8h1.5v2.0h-1.5zM348.5 332.9h1.5v2.0h-1.5zM495.4 359.4h1.5v2.0h-1.5zM179.6 373.3h1.5v2.0h-1.5zM276.2 325.0h1.5v2.0h-1.5zM455.1 339.3h1.5v2.0h-1.5zM300.3 332.6h1.5v2.0h-1.5zM283.6 356.3h1.5v2.0h-1.5zM201.3 334.0h1.5v2.0h-1.5zM456.2 342.9h1.5v2.0h-1.5zM495.9 374.3h1.5v2.0h-1.5zM374.7 339.5h1.5v2.0h-1.5zM410.3 330.7h1.5v2.0h-1.5zM181.0 371.9h1.5v2.0h-1.5zM200.0 324.6h1.5v2.0h-1.5zM269.8 339.6h1.5v2.0h-1.5zM422.8 338.4h1.5v2.0h-1.5zM474.8 380.0h1.5v2.0h-1.5zM145.2 332.8h1.5v2.0h-1.5zM211.7 324.9h1.5v2.0h-1.5zM478.3 378.2h1.5v2.0h-1.5zM114.9 325.2h1.5v2.0h-1.5zM225.6 337.6h1.5v2.0h-1.5zM480.1 383.0h1.5v2.0h-1.5zM243.8 341.4h1.5v2.0h-1.5zM490.2 380.8h1.5v2.0h-1.5zM367.5 328.9h1.5v2.0h-1.5zM266.9 351.8h1.5v2.0h-1.5zM412.6 350.1h1.5v2.0h-1.5zM430.0 329.5h1.5v2.0h-1.5zM340.6 348.1h1.5v2.0h-1.5zM321.7 332.8h1.5v2.0h-1.5zM478.1 370.6h1.5v2.0h-1.5zM394.9 343.3h1.5v2.0h-1.5zM178.8 375.4h1.5v2.0h-1.5zM153.4 334.9h1.5v2.0h-1.5zM435.6 321.7h1.5v2.0h-1.5zM488.8 370.0h1.5v2.0h-1.5zM319.5 327.3h1.5v2.0h-1.5zM123.9 336.8h1.5v2.0h-1.5zM360.8 327.9h1.5v2.0h-1.5zM184.5 338.1h1.5v2.0h-1.5zM107.5 342.0h1.5v2.0h-1.5zM358.1 340.1h1.5v2.0h-1.5zM413.0 328.3h1.5v2.0h-1.5zM431.7 324.2h1.5v2.0h-1.5zM234.5 340.5h1.5v2.0h-1.5zM249.4 345.7h1.5v2.0h-1.5zM462.0 344.4h1.5v2.0h-1.5zM377.2 326.8h1.5v2.0h-1.5zM421.3 354.1h1.5v2.0h-1.5zM173.9 334.0h1.5v2.0h-1.5zM448.8 350.1h1.5v2.0h-1.5zM428.9 318.0h1.5v2.0h-1.5zM305.8 325.9h1.5v2.0h-1.5zM433.2 328.7h1.5v2.0h-1.5zM308.2 332.5h1.5v2.0h-1.5zM445.8 339.2h1.5v2.0h-1.5zM327.5 319.3h1.5v2.0h-1.5zM495.5 365.4h1.5v2.0h-1.5zM487.8 367.8h1.5v2.0h-1.5zM440.9 330.3h1.5v2.0h-1.5zM385.5 360.8h1.5v2.0h-1.5zM279.6 334.5h1.5v2.0h-1.5zM150.5 336.0h1.5v2.0h-1.5zM371.9 330.3h1.5v2.0h-1.5zM320.8 350.6h1.5v2.0h-1.5zM348.8 331.4h1.5v2.0h-1.5zM386.9 329.6h1.5v2.0h-1.5zM132.8 315.2h1.5v2.0h-1.5zM328.8 345.7h1.5v2.0h-1.5zM208.4 332.7h1.5v2.0h-1.5zM296.9 335.4h1.5v2.0h-1.5zM445.3 341.4h1.5v2.0h-1.5zM326.8 337.5h1.5v2.0h-1.5zM377.9 327.7h1.5v2.0h-1.5zM306.0 309.4h1.5v2.0h-1.5zM109.7 343.5h1.5v2.0h-1.5zM314.4 323.0h1.5v2.0h-1.5zM277.4 326.0h1.5v2.0h-1.5zM273.6 331.4h1.5v2.0h-1.5zM308.4 326.9h1.5v2.0h-1.5zM171.0 329.8h1.5v2.0h-1.5zM489.7 374.4h1.5v2.0h-1.5zM445.2 316.2h1.5v2.0h-1.5zM127.1 330.5h1.5v2.0h-1.5zM276.7 329.5h1.5v2.0h-1.5zM281.4 320.5h1.5v2.0h-1.5zM337.2 337.8h1.5v2.0h-1.5zM368.6 327.5h1.5v2.0h-1.5zM196.3 339.8h1.5v2.0h-1.5zM460.0 327.7h1.5v2.0h-1.5zM326.7 330.2h1.5v2.0h-1.5zM412.2 307.7h1.5v2.0h-1.5zM393.5 353.4h1.5v2.0h-1.5zM256.5 325.0h1.5v2.0h-1.5zM144.7 343.2h1.5v2.0h-1.5zM177.0 374.9h1.5v2.0h-1.5zM339.5 332.9h1.5v2.0h-1.5zM420.4 329.6h1.5v2.0h-1.5zM189.0 340.4h1.5v2.0h-1.5zM271.5 329.1h1.5v2.0h-1.5zM192.2 341.8h1.5v2.0h-1.5zM240.7 320.5h1.5v2.0h-1.5zM477.5 369.9h1.5v2.0h-1.5zM293.3 337.1h1.5v2.0h-1.5zM186.4 338.5h1.5v2.0h-1.5zM327.3 330.1h1.5v2.0h-1.5zM161.1 354.2h1.5v2.0h-1.5zM444.4 339.2h1.5v2.0h-1.5zM358.3 338.5h1.5v2.0h-1.5zM323.2 335.9h1.5v2.0h-1.5zM164.3 328.4h1.5v2.0h-1.5zM412.5 323.8h1.5v2.0h-1.5zM158.5 324.0h1.5v2.0h-1.5zM374.6 321.4h1.5v2.0h-1.5zM272.2 333.5h1.5v2.0h-1.5zM188.5 334.3h1.5v2.0h-1.5zM213.3 333.3h1.5v2.0h-1.5zM112.7 337.8h1.5v2.0h-1.5zM353.3 355.4h1.5v2.0h-1.5zM274.7 339.7h1.5v2.0h-1.5zM204.4 324.7h1.5v2.0h-1.5zM158.3 336.8h1.5v2.0h-1.5zM295.7 330.3h1.5v2.0h-1.5zM196.3 352.5h1.5v2.0h-1.5zM220.2 338.8h1.5v2.0h-1.5zM228.3 344.7h1.5v2.0h-1.5zM402.4 343.7h1.5v2.0h-1.5zM123.9 335.4h1.5v2.0h-1.5zM319.9 350.3h1.5v2.0h-1.5zM291.1 323.0h1.5v2.0h-1.5zM364.2 330.3h1.5v2.0h-1.5zM451.1 355.1h1.5v2.0h-1.5zM169.7 321.7h1.5v2.0h-1.5zM405.1 325.6h1.5v2.0h-1.5zM481.0 373.2h1.5v2.0h-1.5zM187.5 346.2h1.5v2.0h-1.5zM184.0 382.2h1.5v2.0h-1.5zM249.7 341.2h1.5v2.0h-1.5zM377.4 353.2h1.5v2.0h-1.5zM232.5 331.7h1.5v2.0h-1.5zM411.5 337.6h1.5v2.0h-1.5zM330.6 333.0h1.5v2.0h-1.5zM213.2 328.4h1.5v2.0h-1.5zM488.1 371.8h1.5v2.0h-1.5zM305.4 332.1h1.5v2.0h-1.5zM164.6 339.7h1.5v2.0h-1.5zM462.8 316.2h1.5v2.0h-1.5zM118.7 338.1h1.5v2.0h-1.5zM261.1 349.2h1.5v2.0h-1.5zM118.3 328.9h1.5v2.0h-1.5zM497.1 367.1h1.5v2.0h-1.5zM392.1 334.1h1.5v2.0h-1.5zM276.2 324.3h1.5v2.0h-1.5zM276.1 330.7h1.5v2.0h-1.5zM229.0 337.1h1.5v2.0h-1.5zM338.9 348.7h1.5v2.0h-1.5zM479.1 368.3h1.5v2.0h-1.5zM210.1 307.0h1.5v2.0h-1.5zM436.1 317.7h1.5v2.0h-1.5zM143.9 319.5h1.5v2.0h-1.5zM394.3 335.8h1.5v2.0h-1.5zM190.4 336.7h1.5v2.0h-1.5zM371.0 336.8h1.5v2.0h-1.5zM429.8 329.2h1.5v2.0h-1.5zM274.7 325.1h1.5v2.0h-1.5zM257.7 305.1h1.5v2.0h-1.5zM362.5 337.6h1.5v2.0h-1.5zM221.7 333.7h1.5v2.0h-1.5zM315.5 336.4h1.5v2.0h-1.5zM141.1 327.3h1.5v2.0h-1.5zM431.7 324.8h1.5v2.0h-1.5zM179.7 362.9h1.5v2.0h-1.5zM417.1 337.6h1.5v2.0h-1.5zM334.0 336.9h1.5v2.0h-1.5zM188.1 303.1h1.5v2.0h-1.5zM118.6 326.1h1.5v2.0h-1.5zM126.2 335.8h1.5v2.0h-1.5zM362.0 325.4h1.5v2.0h-1.5zM347.5 334.4h1.5v2.0h-1.5zM307.8 328.2h1.5v2.0h-1.5zM279.8 318.7h1.5v2.0h-1.5zM495.5 354.8h1.5v2.0h-1.5zM398.9 320.4h1.5v2.0h-1.5zM246.8 336.5h1.5v2.0h-1.5zM189.6 331.2h1.5v2.0h-1.5zM334.4 328.4h1.5v2.0h-1.5zM192.2 337.7h1.5v2.0h-1.5zM185.6 332.6h1.5v2.0h-1.5zM463.5 328.3h1.5v2.0h-1.5zM420.5 337.7h1.5v2.0h-1.5zM457.0 332.2h1.5v2.0h-1.5zM259.2 335.8h1.5v2.0h-1.5zM376.1 345.5h1.5v2.0h-1.5zM264.3 331.4h1.5v2.0h-1.5zM147.0 337.1h1.5v2.0h-1.5zM443.1 336.9h1.5v2.0h-1.5zM416.8 340.8h1.5v2.0h-1.5zM431.3 327.8h1.5v2.0h-1.5zM208.9 338.5h1.5v2.0h-1.5zM322.4 349.2h1.5v2.0h-1.5zM243.6 330.1h1.5v2.0h-1.5zM281.2 331.4h1.5v2.0h-1.5zM478.9 359.7h1.5v2.0h-1.5zM160.3 341.3h1.5v2.0h-1.5zM157.8 314.8h1.5v2.0h-1.5zM373.7 344.0h1.5v2.0h-1.5zM493.5 368.5h1.5v2.0h-1.5zM492.8 369.7h1.5v2.0h-1.5zM240.7 332.7h1.5v2.0h-1.5zM490.9 358.1h1.5v2.0h-1.5zM431.1 335.1h1.5v2.0h-1.5zM480.7 371.9h1.5v2.0h-1.5zM493.7 367.0h1.5v2.0h-1.5zM393.2 343.3h1.5v2.0h-1.5zM347.3 328.2h1.5v2.0h-1.5zM475.1 361.9h1.5v2.0h-1.5zM211.1 336.1h1.5v2.0h-1.5zM186.8 328.7h1.5v2.0h-1.5zM484.0 364.5h1.5v2.0h-1.5zM490.6 366.0h1.5v2.0h-1.5zM304.0 327.2h1.5v2.0h-1.5zM133.4 319.9h1.5v2.0h-1.5zM241.7 325.1h1.5v2.0h-1.5zM159.9 324.4h1.5v2.0h-1.5zM375.7 341.6h1.5v2.0h-1.5zM485.7 370.5h1.5v2.0h-1.5zM392.5 350.2h1.5v2.0h-1.5zM217.6 323.4h1.5v2.0h-1.5zM366.4 319.1h1.5v2.0h-1.5zM268.3 351.3h1.5v2.0h-1.5zM139.4 320.6h1.5v2.0h-1.5zM235.4 322.0h1.5v2.0h-1.5zM152.9 336.6h1.5v2.0h-1.5zM417.8 347.2h1.5v2.0h-1.5zM259.3 337.1h1.5v2.0h-1.5zM376.9 351.3h1.5v2.0h-1.5zM459.8 335.6h1.5v2.0h-1.5zM339.5 353.4h1.5v2.0h-1.5zM405.6 337.7h1.5v2.0h-1.5zM363.4 341.2h1.5v2.0h-1.5zM154.7 332.2h1.5v2.0h-1.5zM182.6 368.4h1.5v2.0h-1.5zM463.5 326.2h1.5v2.0h-1.5zM268.5 339.6h1.5v2.0h-1.5zM117.7 320.9h1.5v2.0h-1.5zM465.6 339.7h1.5v2.0h-1.5zM494.4 356.6h1.5v2.0h-1.5zM310.8 327.6h1.5v2.0h-1.5zM375.9 323.7h1.5v2.0h-1.5zM399.3 343.9h1.5v2.0h-1.5zM185.7 339.0h1.5v2.0h-1.5zM247.4 340.0h1.5v2.0h-1.5zM431.0 342.4h1.5v2.0h-1.5zM499.1 368.3h1.5v2.0h-1.5zM336.8 338.8h1.5v2.0h-1.5zM155.1 324.9h1.5v2.0h-1.5zM458.9 336.9h1.5v2.0h-1.5zM458.0 345.5h1.5v2.0h-1.5zM373.2 342.9h1.5v2.0h-1.5zM313.5 341.9h1.5v2.0h-1.5zM189.2 352.0h1.5v2.0h-1.5zM113.0 336.7h1.5v2.0h-1.5zM290.3 327.5h1.5v2.0h-1.5zM110.7 340.4h1.5v2.0h-1.5zM245.0 352.1h1.5v2.0h-1.5zM270.2 331.0h1.5v2.0h-1.5zM343.1 335.6h1.5v2.0h-1.5zM237.6 331.0h1.5v2.0h-1.5zM190.1 342.9h1.5v2.0h-1.5zM260.4 350.0h1.5v2.0h-1.5zM289.0 322.0h1.5v2.0h-1.5zM406.4 335.7h1.5v2.0h-1.5zM149.7 333.7h1.5v2.0h-1.5zM480.6 380.2h1.5v2.0h-1.5zM288.8 343.9h1.5v2.0h-1.5zM192.2 338.1h1.5v2.0h-1.5zM179.0 364.8h1.5v2.0h-1.5zM118.5 329.4h1.5v2.0h-1.5zM415.5 334.0h1.5v2.0h-1.5zM232.7 339.7h1.5v2.0h-1.5zM488.9 375.9h1.5v2.0h-1.5zM456.3 331.0h1.5v2.0h-1.5zM166.0 335.1h1.5v2.0h-1.5zM339.7 351.1h1.5v2.0h-1.5zM434.5 333.0h1.5v2.0h-1.5zM332.7 337.9h1.5v2.0h-1.5zM277.0 331.8h1.5v2.0h-1.5zM468.9 330.4h1.5v2.0h-1.5zM312.7 335.4h1.5v2.0h-1.5zM199.0 333.9h1.5v2.0h-1.5zM217.4 331.2h1.5v2.0h-1.5zM284.2 322.8h1.5v2.0h-1.5zM448.6 323.9h1.5v2.0h-1.5zM228.9 337.5h1.5v2.0h-1.5zM248.7 343.0h1.5v2.0h-1.5zM168.6 323.1h1.5v2.0h-1.5zM486.7 366.5h1.5v2.0h-1.5zM336.0 345.0h1.5v2.0h-1.5zM479.9 372.6h1.5v2.0h-1.5zM389.1 329.8h1.5v2.0h-1.5zM359.7 330.6h1.5v2.0h-1.5zM408.7 331.6h1.5v2.0h-1.5zM422.1 336.6h1.5v2.0h-1.5zM211.4 342.7h1.5v2.0h-1.5zM348.2 331.2h1.5v2.0h-1.5zM176.2 381.5h1.5v2.0h-1.5zM467.1 325.6h1.5v2.0h-1.5zM170.9 323.7h1.5v2.0h-1.5zM203.6 326.4h1.5v2.0h-1.5zM437.7 336.1h1.5v2.0h-1.5zM378.4 322.7h1.5v2.0h-1.5zM141.5 332.5h1.5v2.0h-1.5zM416.8 334.0h1.5v2.0h-1.5zM486.6 369.2h1.5v2.0h-1.5zM333.1 338.3h1.5v2.0h-1.5zM449.7 351.2h1.5v2.0h-1.5zM341.5 343.1h1.5v2.0h-1.5zM118.3 345.2h1.5v2.0h-1.5zM130.0 321.2h1.5v2.0h-1.5zM448.3 337.8h1.5v2.0h-1.5zM350.1 322.7h1.5v2.0h-1.5zM318.1 342.0h1.5v2.0h-1.5zM421.8 337.2h1.5v2.0h-1.5zM388.9 335.2h1.5v2.0h-1.5zM403.0 336.0h1.5v2.0h-1.5zM143.8 345.6h1.5v2.0h-1.5zM472.1 342.8h1.5v2.0h-1.5zM426.3 328.6h1.5v2.0h-1.5zM195.9 342.1h1.5v2.0h-1.5zM143.0 321.3h1.5v2.0h-1.5zM428.3 342.4h1.5v2.0h-1.5zM124.8 331.3h1.5v2.0h-1.5zM215.4 332.2h1.5v2.0h-1.5zM280.8 319.5h1.5v2.0h-1.5zM162.5 325.5h1.5v2.0h-1.5zM399.2 351.1h1.5v2.0h-1.5zM472.2 343.4h1.5v2.0h-1.5zM497.0 350.6h1.5v2.0h-1.5zM294.7 341.6h1.5v2.0h-1.5zM150.0 343.1h1.5v2.0h-1.5zM476.3 372.8h1.5v2.0h-1.5zM180.7 356.5h1.5v2.0h-1.5zM269.7 339.3h1.5v2.0h-1.5zM243.3 318.3h1.5v2.0h-1.5zM392.4 338.6h1.5v2.0h-1.5zM386.9 341.1h1.5v2.0h-1.5zM336.7 340.3h1.5v2.0h-1.5zM237.4 346.3h1.5v2.0h-1.5zM477.3 373.3h1.5v2.0h-1.5zM271.3 338.1h1.5v2.0h-1.5zM456.9 337.2h1.5v2.0h-1.5zM141.9 336.0h1.5v2.0h-1.5zM208.2 333.1h1.5v2.0h-1.5zM494.7 381.9h1.5v2.0h-1.5zM227.0 329.4h1.5v2.0h-1.5zM347.3 344.5h1.5v2.0h-1.5zM401.4 333.3h1.5v2.0h-1.5zM148.0 334.5h1.5v2.0h-1.5zM400.0 342.2h1.5v2.0h-1.5zM481.0 369.0h1.5v2.0h-1.5zM473.8 374.9h1.5v2.0h-1.5zM160.7 335.5h1.5v2.0h-1.5zM357.8 343.1h1.5v2.0h-1.5zM117.5 334.3h1.5v2.0h-1.5zM373.2 325.0h1.5v2.0h-1.5zM264.6 346.5h1.5v2.0h-1.5zM366.5 334.4h1.5v2.0h-1.5zM228.8 326.3h1.5v2.0h-1.5zM324.7 342.7h1.5v2.0h-1.5zM434.0 328.0h1.5v2.0h-1.5zM382.9 344.6h1.5v2.0h-1.5zM371.1 340.2h1.5v2.0h-1.5zM158.5 322.7h1.5v2.0h-1.5zM364.1 346.6h1.5v2.0h-1.5zM477.7 383.5h1.5v2.0h-1.5zM388.4 326.1h1.5v2.0h-1.5zM264.3 344.7h1.5v2.0h-1.5zM430.0 336.3h1.5v2.0h-1.5zM471.8 330.8h1.5v2.0h-1.5zM425.0 341.2h1.5v2.0h-1.5zM166.1 331.8h1.5v2.0h-1.5zM226.3 344.2h1.5v2.0h-1.5zM314.2 327.7h1.5v2.0h-1.5zM263.5 354.8h1.5v2.0h-1.5zM318.6 328.1h1.5v2.0h-1.5zM436.7 320.7h1.5v2.0h-1.5zM316.1 328.7h1.5v2.0h-1.5zM302.4 339.6h1.5v2.0h-1.5zM481.5 381.3h1.5v2.0h-1.5zM193.1 340.8h1.5v2.0h-1.5zM296.4 326.5h1.5v2.0h-1.5zM149.4 330.3h1.5v2.0h-1.5zM475.1 371.4h1.5v2.0h-1.5zM429.9 329.3h1.5v2.0h-1.5zM218.7 336.4h1.5v2.0h-1.5zM149.1 336.8h1.5v2.0h-1.5zM121.1 345.1h1.5v2.0h-1.5zM300.7 308.3h1.5v2.0h-1.5zM357.3 331.5h1.5v2.0h-1.5zM147.4 330.4h1.5v2.0h-1.5zM128.1 328.9h1.5v2.0h-1.5zM168.8 325.2h1.5v2.0h-1.5zM357.4 342.6h1.5v2.0h-1.5zM362.6 333.3h1.5v2.0h-1.5zM409.4 337.6h1.5v2.0h-1.5zM324.0 346.7h1.5v2.0h-1.5zM312.9 331.0h1.5v2.0h-1.5zM482.6 378.5h1.5v2.0h-1.5zM276.5 333.8h1.5v2.0h-1.5zM305.4 318.9h1.5v2.0h-1.5zM286.6 328.5h1.5v2.0h-1.5zM423.0 330.7h1.5v2.0h-1.5zM489.9 366.2h1.5v2.0h-1.5zM166.1 345.8h1.5v2.0h-1.5zM478.6 368.6h1.5v2.0h-1.5zM236.7 340.5h1.5v2.0h-1.5zM411.6 342.8h1.5v2.0h-1.5zM476.4 368.2h1.5v2.0h-1.5zM483.5 377.7h1.5v2.0h-1.5zM246.4 339.1h1.5v2.0h-1.5zM269.2 342.9h1.5v2.0h-1.5zM407.6 353.1h1.5v2.0h-1.5zM179.4 354.6h1.5v2.0h-1.5zM294.0 351.0h1.5v2.0h-1.5zM296.1 329.1h1.5v2.0h-1.5zM183.8 376.3h1.5v2.0h-1.5zM229.4 342.2h1.5v2.0h-1.5zM315.4 332.0h1.5v2.0h-1.5zM319.4 334.1h1.5v2.0h-1.5zM389.6 335.8h1.5v2.0h-1.5zM337.6 344.5h1.5v2.0h-1.5zM481.9 378.4h1.5v2.0h-1.5zM181.3 371.5h1.5v2.0h-1.5zM174.7 337.9h1.5v2.0h-1.5zM142.3 343.9h1.5v2.0h-1.5zM356.2 349.0h1.5v2.0h-1.5zM406.0 347.9h1.5v2.0h-1.5zM328.2 333.9h1.5v2.0h-1.5zM256.1 330.2h1.5v2.0h-1.5zM454.0 342.0h1.5v2.0h-1.5zM259.3 337.9h1.5v2.0h-1.5zM182.8 370.2h1.5v2.0h-1.5zM208.1 329.8h1.5v2.0h-1.5zM181.1 381.1h1.5v2.0h-1.5zM326.4 330.9h1.5v2.0h-1.5zM402.3 345.7h1.5v2.0h-1.5zM270.5 334.2h1.5v2.0h-1.5zM384.4 335.6h1.5v2.0h-1.5zM325.1 335.9h1.5v2.0h-1.5zM362.9 333.7h1.5v2.0h-1.5zM111.1 339.0h1.5v2.0h-1.5zM353.3 327.5h1.5v2.0h-1.5zM248.7 327.7h1.5v2.0h-1.5zM296.0 338.9h1.5v2.0h-1.5zM298.0 333.2h1.5v2.0h-1.5zM254.1 334.4h1.5v2.0h-1.5zM253.9 337.2h1.5v2.0h-1.5zM307.1 323.5h1.5v2.0h-1.5zM241.4 332.8h1.5v2.0h-1.5zM429.5 336.4h1.5v2.0h-1.5zM452.1 335.1h1.5v2.0h-1.5zM305.6 343.7h1.5v2.0h-1.5zM359.4 329.5h1.5v2.0h-1.5zM472.3 339.7h1.5v2.0h-1.5zM241.6 347.2h1.5v2.0h-1.5zM346.0 334.0h1.5v2.0h-1.5zM128.9 341.2h1.5v2.0h-1.5zM148.4 333.8h1.5v2.0h-1.5zM418.6 332.8h1.5v2.0h-1.5zM123.8 335.4h1.5v2.0h-1.5zM320.2 342.8h1.5v2.0h-1.5zM479.0 372.0h1.5v2.0h-1.5zM446.3 331.5h1.5v2.0h-1.5zM180.3 370.7h1.5v2.0h-1.5zM384.9 350.8h1.5v2.0h-1.5zM431.5 328.6h1.5v2.0h-1.5zM432.9 323.1h1.5v2.0h-1.5zM384.1 335.9h1.5v2.0h-1.5zM410.1 334.4h1.5v2.0h-1.5zM209.3 335.8h1.5v2.0h-1.5zM478.8 370.1h1.5v2.0h-1.5zM277.5 338.3h1.5v2.0h-1.5zM491.6 363.6h1.5v2.0h-1.5zM255.2 343.5h1.5v2.0h-1.5zM398.5 345.4h1.5v2.0h-1.5zM350.0 336.3h1.5v2.0h-1.5zM144.1 332.7h1.5v2.0h-1.5zM203.4 324.2h1.5v2.0h-1.5zM415.7 347.3h1.5v2.0h-1.5zM267.7 350.7h1.5v2.0h-1.5zM447.7 340.8h1.5v2.0h-1.5zM350.7 329.6h1.5v2.0h-1.5zM200.9 324.4h1.5v2.0h-1.5zM190.1 346.1h1.5v2.0h-1.5zM281.9 322.2h1.5v2.0h-1.5zM252.1 335.8h1.5v2.0h-1.5zM159.3 321.1h1.5v2.0h-1.5zM409.5 341.4h1.5v2.0h-1.5zM146.0 340.5h1.5v2.0h-1.5zM496.5 355.4h1.5v2.0h-1.5zM413.4 334.4h1.5v2.0h-1.5zM330.4 344.0h1.5v2.0h-1.5zM259.7 339.5h1.5v2.0h-1.5zM111.1 335.2h1.5v2.0h-1.5zM139.1 333.5h1.5v2.0h-1.5zM391.1 334.6h1.5v2.0h-1.5zM169.5 336.2h1.5v2.0h-1.5zM279.1 321.0h1.5v2.0h-1.5zM289.2 324.8h1.5v2.0h-1.5zM380.4 325.9h1.5v2.0h-1.5zM231.0 337.8h1.5v2.0h-1.5zM185.2 332.3h1.5v2.0h-1.5zM483.0 368.9h1.5v2.0h-1.5zM465.5 346.0h1.5v2.0h-1.5zM121.0 335.4h1.5v2.0h-1.5zM137.0 327.2h1.5v2.0h-1.5zM224.1 321.7h1.5v2.0h-1.5zM495.6 383.3h1.5v2.0h-1.5zM204.0 332.4h1.5v2.0h-1.5zM461.0 324.8h1.5v2.0h-1.5zM187.7 321.7h1.5v2.0h-1.5zM425.1 330.1h1.5v2.0h-1.5zM293.1 319.1h1.5v2.0h-1.5zM244.2 335.6h1.5v2.0h-1.5zM496.5 383.5h1.5v2.0h-1.5zM125.5 344.9h1.5v2.0h-1.5zM159.6 315.8h1.5v2.0h-1.5zM387.0 338.2h1.5v2.0h-1.5zM322.1 342.0h1.5v2.0h-1.5zM141.9 336.9h1.5v2.0h-1.5zM274.3 333.2h1.5v2.0h-1.5zM439.5 343.8h1.5v2.0h-1.5zM466.2 337.9h1.5v2.0h-1.5zM202.9 342.6h1.5v2.0h-1.5zM386.5 328.3h1.5v2.0h-1.5zM469.3 326.7h1.5v2.0h-1.5zM281.3 313.8h1.5v2.0h-1.5zM181.2 362.2h1.5v2.0h-1.5zM378.9 326.2h1.5v2.0h-1.5zM433.1 334.3h1.5v2.0h-1.5zM217.4 329.0h1.5v2.0h-1.5zM275.7 326.4h1.5v2.0h-1.5zM142.7 323.4h1.5v2.0h-1.5zM174.8 338.0h1.5v2.0h-1.5zM187.2 331.3h1.5v2.0h-1.5zM433.3 329.2h1.5v2.0h-1.5zM303.6 344.1h1.5v2.0h-1.5zM479.0 378.7h1.5v2.0h-1.5zM161.5 333.1h1.5v2.0h-1.5zM271.9 330.2h1.5v2.0h-1.5zM329.9 343.2h1.5v2.0h-1.5zM179.9 366.1h1.5v2.0h-1.5zM488.9 375.4h1.5v2.0h-1.5zM202.1 344.8h1.5v2.0h-1.5zM164.8 341.9h1.5v2.0h-1.5zM212.6 333.7h1.5v2.0h-1.5zM299.5 326.3h1.5v2.0h-1.5zM455.6 345.4h1.5v2.0h-1.5zM318.7 339.6h1.5v2.0h-1.5zM200.1 333.9h1.5v2.0h-1.5zM215.9 335.0h1.5v2.0h-1.5zM134.4 334.5h1.5v2.0h-1.5zM292.1 320.7h1.5v2.0h-1.5zM468.2 338.6h1.5v2.0h-1.5zM164.2 343.3h1.5v2.0h-1.5zM450.4 360.2h1.5v2.0h-1.5zM252.2 333.2h1.5v2.0h-1.5zM254.6 333.8h1.5v2.0h-1.5zM256.7 339.2h1.5v2.0h-1.5zM477.3 375.7h1.5v2.0h-1.5zM442.5 334.5h1.5v2.0h-1.5zM317.0 342.8h1.5v2.0h-1.5zM355.8 323.7h1.5v2.0h-1.5zM199.6 329.4h1.5v2.0h-1.5zM268.5 340.4h1.5v2.0h-1.5zM262.9 350.3h1.5v2.0h-1.5zM218.3 319.8h1.5v2.0h-1.5zM340.8 362.5h1.5v2.0h-1.5zM446.9 340.1h1.5v2.0h-1.5zM256.9 331.5h1.5v2.0h-1.5zM337.4 338.8h1.5v2.0h-1.5zM415.9 336.9h1.5v2.0h-1.5zM383.3 340.5h1.5v2.0h-1.5zM175.0 334.4h1.5v2.0h-1.5zM259.9 343.8h1.5v2.0h-1.5zM170.3 324.1h1.5v2.0h-1.5zM478.2 383.2h1.5v2.0h-1.5zM304.6 344.0h1.5v2.0h-1.5zM271.7 332.3h1.5v2.0h-1.5zM377.4 323.8h1.5v2.0h-1.5zM268.7 336.8h1.5v2.0h-1.5zM349.2 320.8h1.5v2.0h-1.5zM496.0 354.8h1.5v2.0h-1.5zM308.1 337.9h1.5v2.0h-1.5zM188.8 340.1h1.5v2.0h-1.5zM233.4 328.3h1.5v2.0h-1.5zM132.6 329.7h1.5v2.0h-1.5zM460.7 339.6h1.5v2.0h-1.5zM313.5 343.7h1.5v2.0h-1.5zM166.2 328.3h1.5v2.0h-1.5zM232.7 335.0h1.5v2.0h-1.5zM448.3 352.0h1.5v2.0h-1.5zM285.6 333.8h1.5v2.0h-1.5zM231.0 332.3h1.5v2.0h-1.5zM241.6 330.7h1.5v2.0h-1.5zM158.8 331.2h1.5v2.0h-1.5zM451.4 343.5h1.5v2.0h-1.5zM277.2 327.0h1.5v2.0h-1.5zM326.2 343.4h1.5v2.0h-1.5zM463.4 346.9h1.5v2.0h-1.5zM369.8 317.5h1.5v2.0h-1.5zM151.3 336.7h1.5v2.0h-1.5zM208.9 333.1h1.5v2.0h-1.5zM488.4 372.0h1.5v2.0h-1.5zM297.8 332.8h1.5v2.0h-1.5zM190.7 348.8h1.5v2.0h-1.5zM267.3 342.7h1.5v2.0h-1.5zM497.5 375.3h1.5v2.0h-1.5zM488.0 366.8h1.5v2.0h-1.5zM442.2 335.8h1.5v2.0h-1.5zM156.5 342.8h1.5v2.0h-1.5zM257.7 331.4h1.5v2.0h-1.5zM331.9 332.0h1.5v2.0h-1.5zM463.3 332.5h1.5v2.0h-1.5zM410.7 331.8h1.5v2.0h-1.5zM331.9 334.3h1.5v2.0h-1.5zM431.7 339.0h1.5v2.0h-1.5zM497.6 362.4h1.5v2.0h-1.5zM495.6 361.7h1.5v2.0h-1.5zM353.0 339.3h1.5v2.0h-1.5zM366.6 326.3h1.5v2.0h-1.5zM150.0 329.3h1.5v2.0h-1.5zM139.1 335.0h1.5v2.0h-1.5zM435.0 329.3h1.5v2.0h-1.5zM182.4 381.7h1.5v2.0h-1.5zM118.2 341.3h1.5v2.0h-1.5zM425.3 320.4h1.5v2.0h-1.5zM338.1 326.8h1.5v2.0h-1.5zM399.3 336.3h1.5v2.0h-1.5zM139.9 332.5h1.5v2.0h-1.5zM302.0 334.1h1.5v2.0h-1.5zM306.8 322.7h1.5v2.0h-1.5zM133.0 323.7h1.5v2.0h-1.5zM277.6 336.3h1.5v2.0h-1.5zM153.6 324.3h1.5v2.0h-1.5zM395.9 311.2h1.5v2.0h-1.5zM139.3 341.2h1.5v2.0h-1.5zM426.9 330.9h1.5v2.0h-1.5zM350.5 349.7h1.5v2.0h-1.5zM324.3 332.6h1.5v2.0h-1.5zM379.5 331.9h1.5v2.0h-1.5zM472.7 362.3h1.5v2.0h-1.5zM498.3 362.6h1.5v2.0h-1.5zM286.8 334.4h1.5v2.0h-1.5zM180.9 378.2h1.5v2.0h-1.5zM499.5 359.7h1.5v2.0h-1.5zM353.2 344.4h1.5v2.0h-1.5zM491.7 365.2h1.5v2.0h-1.5zM446.7 348.9h1.5v2.0h-1.5zM304.8 344.1h1.5v2.0h-1.5zM163.9 328.2h1.5v2.0h-1.5zM451.4 345.9h1.5v2.0h-1.5zM164.5 333.0h1.5v2.0h-1.5zM182.5 381.4h1.5v2.0h-1.5zM228.2 325.8h1.5v2.0h-1.5zM130.1 322.0h1.5v2.0h-1.5zM285.6 337.3h1.5v2.0h-1.5zM295.5 327.5h1.5v2.0h-1.5zM215.3 348.0h1.5v2.0h-1.5zM388.6 307.1h1.5v2.0h-1.5zM178.5 375.3h1.5v2.0h-1.5zM452.6 324.4h1.5v2.0h-1.5zM437.8 358.5h1.5v2.0h-1.5zM452.9 341.5h1.5v2.0h-1.5zM489.0 374.3h1.5v2.0h-1.5zM336.9 345.3h1.5v2.0h-1.5zM277.3 326.4h1.5v2.0h-1.5zM275.8 335.0h1.5v2.0h-1.5zM182.5 369.9h1.5v2.0h-1.5zM132.9 309.5h1.5v2.0h-1.5zM364.0 345.8h1.5v2.0h-1.5zM367.3 332.4h1.5v2.0h-1.5zM205.3 323.3h1.5v2.0h-1.5zM302.3 339.1h1.5v2.0h-1.5zM164.6 311.4h1.5v2.0h-1.5zM343.0 338.4h1.5v2.0h-1.5zM456.0 346.3h1.5v2.0h-1.5zM312.6 332.8h1.5v2.0h-1.5zM395.9 335.2h1.5v2.0h-1.5zM424.9 327.8h1.5v2.0h-1.5zM254.0 324.5h1.5v2.0h-1.5zM479.6 369.1h1.5v2.0h-1.5zM311.1 356.9h1.5v2.0h-1.5zM340.2 334.5h1.5v2.0h-1.5zM196.8 324.8h1.5v2.0h-1.5zM194.8 340.1h1.5v2.0h-1.5zM440.8 326.4h1.5v2.0h-1.5zM166.6 324.3h1.5v2.0h-1.5zM189.9 337.0h1.5v2.0h-1.5zM357.5 337.5h1.5v2.0h-1.5zM318.7 340.9h1.5v2.0h-1.5zM478.9 383.5h1.5v2.0h-1.5zM268.4 347.3h1.5v2.0h-1.5zM346.8 332.9h1.5v2.0h-1.5zM120.1 336.5h1.5v2.0h-1.5zM479.7 379.1h1.5v2.0h-1.5zM350.2 333.2h1.5v2.0h-1.5zM308.5 343.9h1.5v2.0h-1.5zM181.9 369.0h1.5v2.0h-1.5zM264.3 347.7h1.5v2.0h-1.5zM399.5 336.4h1.5v2.0h-1.5zM284.1 331.5h1.5v2.0h-1.5zM468.0 324.0h1.5v2.0h-1.5zM326.0 351.8h1.5v2.0h-1.5zM241.1 321.2h1.5v2.0h-1.5zM179.9 367.7h1.5v2.0h-1.5zM223.1 339.9h1.5v2.0h-1.5zM261.6 345.0h1.5v2.0h-1.5zM156.7 347.0h1.5v2.0h-1.5zM188.8 327.1h1.5v2.0h-1.5zM228.7 339.7h1.5v2.0h-1.5zM327.2 341.9h1.5v2.0h-1.5zM328.8 340.3h1.5v2.0h-1.5zM298.2 345.1h1.5v2.0h-1.5zM325.7 334.4h1.5v2.0h-1.5zM474.4 364.3h1.5v2.0h-1.5zM125.1 329.8h1.5v2.0h-1.5zM363.3 318.1h1.5v2.0h-1.5zM187.2 331.1h1.5v2.0h-1.5zM203.7 314.7h1.5v2.0h-1.5zM414.7 333.2h1.5v2.0h-1.5zM474.4 376.8h1.5v2.0h-1.5zM429.3 335.4h1.5v2.0h-1.5zM111.9 327.8h1.5v2.0h-1.5zM298.4 364.5h1.5v2.0h-1.5zM135.8 327.8h1.5v2.0h-1.5zM304.4 330.3h1.5v2.0h-1.5zM333.9 340.7h1.5v2.0h-1.5zM310.1 330.4h1.5v2.0h-1.5zM477.6 365.8h1.5v2.0h-1.5zM235.3 316.5h1.5v2.0h-1.5zM477.9 353.3h1.5v2.0h-1.5zM212.9 333.2h1.5v2.0h-1.5zM138.9 338.2h1.5v2.0h-1.5zM308.7 331.3h1.5v2.0h-1.5zM463.2 339.2h1.5v2.0h-1.5zM200.5 343.8h1.5v2.0h-1.5zM458.4 348.6h1.5v2.0h-1.5zM383.4 332.5h1.5v2.0h-1.5zM260.6 335.2h1.5v2.0h-1.5zM450.0 348.5h1.5v2.0h-1.5zM190.6 332.5h1.5v2.0h-1.5zM470.2 332.9h1.5v2.0h-1.5zM462.7 348.6h1.5v2.0h-1.5zM129.0 326.4h1.5v2.0h-1.5zM385.8 336.6h1.5v2.0h-1.5zM153.0 339.9h1.5v2.0h-1.5zM479.9 371.1h1.5v2.0h-1.5zM142.8 325.5h1.5v2.0h-1.5zM300.4 327.2h1.5v2.0h-1.5zM408.9 340.5h1.5v2.0h-1.5zM111.7 336.3h1.5v2.0h-1.5zM156.4 333.8h1.5v2.0h-1.5zM176.6 319.5h1.5v2.0h-1.5zM416.7 338.6h1.5v2.0h-1.5zM383.4 326.6h1.5v2.0h-1.5zM108.2 333.9h1.5v2.0h-1.5zM138.3 324.8h1.5v2.0h-1.5zM360.8 330.3h1.5v2.0h-1.5zM299.3 334.2h1.5v2.0h-1.5zM216.5 336.4h1.5v2.0h-1.5zM487.8 375.7h1.5v2.0h-1.5zM491.2 379.2h1.5v2.0h-1.5zM401.8 347.4h1.5v2.0h-1.5zM143.5 348.2h1.5v2.0h-1.5zM324.9 347.7h1.5v2.0h-1.5zM181.6 373.5h1.5v2.0h-1.5zM401.1 342.1h1.5v2.0h-1.5zM262.2 340.1h1.5v2.0h-1.5zM295.7 331.4h1.5v2.0h-1.5zM384.5 339.3h1.5v2.0h-1.5zM366.5 328.5h1.5v2.0h-1.5zM488.6 383.5h1.5v2.0h-1.5zM294.7 335.5h1.5v2.0h-1.5zM245.3 331.5h1.5v2.0h-1.5zM330.0 341.1h1.5v2.0h-1.5zM378.6 344.7h1.5v2.0h-1.5zM300.3 329.3h1.5v2.0h-1.5zM473.2 376.2h1.5v2.0h-1.5zM258.1 336.3h1.5v2.0h-1.5zM494.9 368.3h1.5v2.0h-1.5zM396.2 348.5h1.5v2.0h-1.5zM381.2 344.2h1.5v2.0h-1.5zM285.7 343.0h1.5v2.0h-1.5zM242.4 331.9h1.5v2.0h-1.5zM471.0 339.6h1.5v2.0h-1.5zM143.4 317.6h1.5v2.0h-1.5z" fill="#d42222"/>
<path d="M195.4 344.6h1.5v2.0h-1.5zM195.8 335.5h1.5v2.0h-1.5zM492.5 359.5h1.5v2.0h-1.5zM116.2 345.6h1.5v2.0h-1.5zM450.7 343.7h1.5v2.0h-1.5zM222.6 335.2h1.5v2.0h-1.5zM242.7 349.5h1.5v2.0h-1.5zM327.1 347.0h1.5v2.0h-1.5zM119.6 331.2h1.5v2.0h-1.5zM175.0 322.0h1.5v2.0h-1.5zM152.3 323.4h1.5v2.0h-1.5zM403.3 339.6h1.5v2.0h-1.5zM464.8 340.0h1.5v2.0h-1.5zM372.8 324.9h1.5v2.0h-1.5zM166.4 328.2h1.5v2.0h-1.5zM341.3 329.5h1.5v2.0h-1.5zM315.2 323.9h1.5v2.0h-1.5zM253.1 336.5h1.5v2.0h-1.5zM483.5 374.0h1.5v2.0h-1.5zM434.7 334.4h1.5v2.0h-1.5zM423.0 338.0h1.5v2.0h-1.5zM311.9 329.3h1.5v2.0h-1.5zM150.0 330.8h1.5v2.0h-1.5zM410.4 337.0h1.5v2.0h-1.5zM454.8 343.7h1.5v2.0h-1.5zM113.1 337.6h1.5v2.0h-1.5zM113.6 336.5h1.5v2.0h-1.5zM264.5 345.7h1.5v2.0h-1.5zM265.0 349.7h1.5v2.0h-1.5zM260.8 343.5h1.5v2.0h-1.5zM198.5 339.3h1.5v2.0h-1.5zM298.5 326.4h1.5v2.0h-1.5zM404.3 353.2h1.5v2.0h-1.5zM229.2 340.0h1.5v2.0h-1.5zM215.2 332.6h1.5v2.0h-1.5zM487.9 383.5h1.5v2.0h-1.5zM233.0 340.2h1.5v2.0h-1.5zM353.8 325.7h1.5v2.0h-1.5zM109.0 350.1h1.5v2.0h-1.5zM393.8 329.4h1.5v2.0h-1.5zM163.4 355.7h1.5v2.0h-1.5zM161.2 329.5h1.5v2.0h-1.5zM498.0 359.6h1.5v2.0h-1.5zM318.3 341.0h1.5v2.0h-1.5zM222.9 334.1h1.5v2.0h-1.5zM303.4 341.9h1.5v2.0h-1.5zM471.7 329.9h1.5v2.0h-1.5zM435.2 330.2h1.5v2.0h-1.5zM106.9 337.1h1.5v2.0h-1.5zM264.1 342.8h1.5v2.0h-1.5zM150.2 327.3h1.5v2.0h-1.5zM465.0 335.6h1.5v2.0h-1.5zM469.6 352.2h1.5v2.0h-1.5zM395.9 333.5h1.5v2.0h-1.5zM121.4 330.3h1.5v2.0h-1.5zM266.0 348.0h1.5v2.0h-1.5zM382.3 338.8h1.5v2.0h-1.5zM438.4 300.2h1.5v2.0h-1.5zM223.4 323.1h1.5v2.0h-1.5zM488.3 366.8h1.5v2.0h-1.5zM434.6 325.1h1.5v2.0h-1.5zM171.6 326.0h1.5v2.0h-1.5zM153.4 329.7h1.5v2.0h-1.5zM426.1 329.1h1.5v2.0h-1.5zM468.4 337.0h1.5v2.0h-1.5zM465.5 329.7h1.5v2.0h-1.5zM479.0 378.6h1.5v2.0h-1.5zM184.7 333.1h1.5v2.0h-1.5zM292.2 325.6h1.5v2.0h-1.5zM310.9 325.5h1.5v2.0h-1.5zM439.4 341.8h1.5v2.0h-1.5zM108.5 329.3h1.5v2.0h-1.5zM489.0 365.9h1.5v2.0h-1.5zM174.6 331.2h1.5v2.0h-1.5zM188.1 344.6h1.5v2.0h-1.5zM453.6 348.9h1.5v2.0h-1.5zM344.7 331.9h1.5v2.0h-1.5zM172.1 333.1h1.5v2.0h-1.5zM166.4 339.7h1.5v2.0h-1.5zM481.6 372.1h1.5v2.0h-1.5zM274.8 325.5h1.5v2.0h-1.5zM295.2 342.6h1.5v2.0h-1.5zM185.8 329.7h1.5v2.0h-1.5zM341.4 329.4h1.5v2.0h-1.5zM325.2 337.4h1.5v2.0h-1.5zM433.1 335.0h1.5v2.0h-1.5zM422.9 349.7h1.5v2.0h-1.5zM493.1 365.7h1.5v2.0h-1.5zM489.7 370.7h1.5v2.0h-1.5zM205.2 318.4h1.5v2.0h-1.5zM171.7 327.4h1.5v2.0h-1.5zM265.9 355.0h1.5v2.0h-1.5zM484.8 370.3h1.5v2.0h-1.5zM171.9 339.0h1.5v2.0h-1.5zM498.7 372.8h1.5v2.0h-1.5zM407.7 340.7h1.5v2.0h-1.5zM239.0 329.0h1.5v2.0h-1.5zM440.4 335.9h1.5v2.0h-1.5zM326.4 339.9h1.5v2.0h-1.5zM343.6 348.4h1.5v2.0h-1.5zM350.0 332.9h1.5v2.0h-1.5zM406.8 343.0h1.5v2.0h-1.5zM299.6 332.9h1.5v2.0h-1.5zM258.5 333.7h1.5v2.0h-1.5zM124.4 317.3h1.5v2.0h-1.5zM339.2 361.8h1.5v2.0h-1.5zM148.1 337.1h1.5v2.0h-1.5zM382.0 352.7h1.5v2.0h-1.5zM125.0 330.6h1.5v2.0h-1.5zM152.3 341.3h1.5v2.0h-1.5zM272.5 336.8h1.5v2.0h-1.5zM303.7 325.7h1.5v2.0h-1.5zM131.3 330.2h1.5v2.0h-1.5zM228.9 332.6h1.5v2.0h-1.5zM223.9 315.7h1.5v2.0h-1.5zM228.8 341.9h1.5v2.0h-1.5zM179.8 381.4h1.5v2.0h-1.5zM336.4 337.8h1.5v2.0h-1.5zM465.5 331.4h1.5v2.0h-1.5zM182.4 371.6h1.5v2.0h-1.5zM487.3 367.4h1.5v2.0h-1.5zM231.3 332.7h1.5v2.0h-1.5zM131.3 346.3h1.5v2.0h-1.5zM247.8 334.5h1.5v2.0h-1.5zM163.5 337.4h1.5v2.0h-1.5zM453.4 359.3h1.5v2.0h-1.5zM301.7 342.7h1.5v2.0h-1.5zM291.7 340.0h1.5v2.0h-1.5zM107.2 335.0h1.5v2.0h-1.5zM482.4 373.7h1.5v2.0h-1.5zM493.3 368.5h1.5v2.0h-1.5zM266.4 355.1h1.5v2.0h-1.5zM401.2 329.8h1.5v2.0h-1.5zM181.3 367.6h1.5v2.0h-1.5zM150.5 342.0h1.5v2.0h-1.5zM152.9 329.5h1.5v2.0h-1.5zM427.9 334.6h1.5v2.0h-1.5zM167.7 340.1h1.5v2.0h-1.5zM473.3 377.4h1.5v2.0h-1.5zM235.9 332.2h1.5v2.0h-1.5zM128.7 329.7h1.5v2.0h-1.5zM310.5 335.3h1.5v2.0h-1.5zM466.4 349.0h1.5v2.0h-1.5zM265.3 347.4h1.5v2.0h-1.5zM289.7 324.5h1.5v2.0h-1.5zM265.7 346.4h1.5v2.0h-1.5zM408.2 342.7h1.5v2.0h-1.5zM461.3 336.1h1.5v2.0h-1.5zM318.1 333.2h1.5v2.0h-1.5zM220.5 337.8h1.5v2.0h-1.5zM314.9 338.9h1.5v2.0h-1.5zM236.5 342.8h1.5v2.0h-1.5zM208.6 343.8h1.5v2.0h-1.5zM478.4 363.5h1.5v2.0h-1.5zM474.9 363.7h1.5v2.0h-1.5zM405.5 347.7h1.5v2.0h-1.5zM218.9 326.4h1.5v2.0h-1.5zM181.3 357.4h1.5v2.0h-1.5zM429.7 331.7h1.5v2.0h-1.5zM421.0 322.0h1.5v2.0h-1.5zM174.3 336.0h1.5v2.0h-1.5zM439.4 333.2h1.5v2.0h-1.5zM252.9 339.8h1.5v2.0h-1.5zM330.0 332.4h1.5v2.0h-1.5zM168.4 326.0h1.5v2.0h-1.5zM107.0 325.8h1.5v2.0h-1.5zM475.5 378.6h1.5v2.0h-1.5zM255.1 332.2h1.5v2.0h-1.5zM365.5 325.4h1.5v2.0h-1.5zM180.0 359.0h1.5v2.0h-1.5zM259.9 345.4h1.5v2.0h-1.5zM440.5 337.8h1.5v2.0h-1.5zM328.8 337.4h1.5v2.0h-1.5zM497.9 367.3h1.5v2.0h-1.5zM359.7 341.5h1.5v2.0h-1.5zM372.3 329.7h1.5v2.0h-1.5zM118.7 335.0h1.5v2.0h-1.5zM431.7 334.3h1.5v2.0h-1.5zM273.9 331.8h1.5v2.0h-1.5zM248.0 337.1h1.5v2.0h-1.5zM226.6 328.1h1.5v2.0h-1.5zM210.9 338.1h1.5v2.0h-1.5zM427.8 339.0h1.5v2.0h-1.5zM250.0 349.2h1.5v2.0h-1.5zM360.5 327.0h1.5v2.0h-1.5zM120.2 334.0h1.5v2.0h-1.5zM156.7 323.6h1.5v2.0h-1.5zM346.5 346.4h1.5v2.0h-1.5zM256.3 343.0h1.5v2.0h-1.5zM472.4 331.1h1.5v2.0h-1.5zM423.6 328.7h1.5v2.0h-1.5zM391.5 328.3h1.5v2.0h-1.5zM417.5 344.6h1.5v2.0h-1.5zM118.0 330.4h1.5v2.0h-1.5zM159.9 336.3h1.5v2.0h-1.5zM218.1 338.7h1.5v2.0h-1.5zM251.9 332.4h1.5v2.0h-1.5zM429.7 334.6h1.5v2.0h-1.5zM474.5 377.7h1.5v2.0h-1.5zM302.5 323.9h1.5v2.0h-1.5zM474.5 370.1h1.5v2.0h-1.5zM188.1 335.5h1.5v2.0h-1.5zM349.0 342.0h1.5v2.0h-1.5zM133.0 320.0h1.5v2.0h-1.5zM444.0 340.4h1.5v2.0h-1.5zM459.1 347.2h1.5v2.0h-1.5zM141.2 323.2h1.5v2.0h-1.5zM342.2 345.9h1.5v2.0h-1.5zM354.2 325.2h1.5v2.0h-1.5zM157.2 327.3h1.5v2.0h-1.5zM273.3 315.9h1.5v2.0h-1.5zM189.5 332.0h1.5v2.0h-1.5zM151.9 336.3h1.5v2.0h-1.5zM316.6 340.4h1.5v2.0h-1.5zM177.4 381.0h1.5v2.0h-1.5zM412.2 332.6h1.5v2.0h-1.5zM370.1 335.5h1.5v2.0h-1.5zM394.4 334.7h1.5v2.0h-1.5zM181.0 362.8h1.5v2.0h-1.5zM356.7 336.3h1.5v2.0h-1.5zM218.3 323.9h1.5v2.0h-1.5zM424.1 328.6h1.5v2.0h-1.5zM269.7 338.6h1.5v2.0h-1.5zM207.6 336.4h1.5v2.0h-1.5zM498.0 365.4h1.5v2.0h-1.5zM353.5 333.6h1.5v2.0h-1.5zM496.2 380.2h1.5v2.0h-1.5zM138.1 328.2h1.5v2.0h-1.5zM241.4 344.4h1.5v2.0h-1.5zM398.2 351.0h1.5v2.0h-1.5zM246.0 335.3h1.5v2.0h-1.5zM116.4 332.0h1.5v2.0h-1.5zM425.7 340.9h1.5v2.0h-1.5zM494.8 358.2h1.5v2.0h-1.5zM334.9 356.3h1.5v2.0h-1.5zM254.7 336.8h1.5v2.0h-1.5zM171.5 332.8h1.5v2.0h-1.5zM332.5 339.7h1.5v2.0h-1.5zM149.1 325.0h1.5v2.0h-1.5zM235.8 320.6h1.5v2.0h-1.5zM275.0 337.3h1.5v2.0h-1.5zM499.2 363.4h1.5v2.0h-1.5zM356.4 325.5h1.5v2.0h-1.5zM454.2 333.0h1.5v2.0h-1.5zM422.8 340.7h1.5v2.0h-1.5zM237.3 325.8h1.5v2.0h-1.5zM142.2 341.9h1.5v2.0h-1.5zM447.2 361.2h1.5v2.0h-1.5zM121.8 322.4h1.5v2.0h-1.5zM122.6 333.5h1.5v2.0h-1.5zM236.9 326.8h1.5v2.0h-1.5zM278.5 320.8h1.5v2.0h-1.5zM482.5 377.1h1.5v2.0h-1.5zM227.5 345.1h1.5v2.0h-1.5zM256.8 338.9h1.5v2.0h-1.5zM489.7 373.8h1.5v2.0h-1.5zM344.9 335.6h1.5v2.0h-1.5zM359.2 335.9h1.5v2.0h-1.5zM275.1 327.7h1.5v2.0h-1.5zM445.4 338.8h1.5v2.0h-1.5zM461.7 333.6h1.5v2.0h-1.5zM178.4 372.0h1.5v2.0h-1.5zM114.7 333.4h1.5v2.0h-1.5zM217.3 342.3h1.5v2.0h-1.5zM385.9 335.0h1.5v2.0h-1.5zM311.7 345.5h1.5v2.0h-1.5zM163.7 333.7h1.5v2.0h-1.5zM202.9 329.0h1.5v2.0h-1.5zM204.2 326.3h1.5v2.0h-1.5zM286.8 326.7h1.5v2.0h-1.5zM229.1 349.2h1.5v2.0h-1.5zM214.7 343.9h1.5v2.0h-1.5zM288.8 323.3h1.5v2.0h-1.5zM416.7 325.2h1.5v2.0h-1.5zM230.0 337.7h1.5v2.0h-1.5zM491.8 367.0h1.5v2.0h-1.5zM290.6 325.2h1.5v2.0h-1.5zM384.6 338.6h1.5v2.0h-1.5zM225.5 345.3h1.5v2.0h-1.5zM397.8 337.8h1.5v2.0h-1.5zM353.9 334.6h1.5v2.0h-1.5zM366.1 326.4h1.5v2.0h-1.5zM395.6 338.4h1.5v2.0h-1.5zM198.1 327.7h1.5v2.0h-1.5zM128.1 343.1h1.5v2.0h-1.5zM176.1 382.5h1.5v2.0h-1.5zM176.4 378.0h1.5v2.0h-1.5zM419.8 321.4h1.5v2.0h-1.5zM429.9 367.7h1.5v2.0h-1.5zM145.7 328.3h1.5v2.0h-1.5zM255.8 348.5h1.5v2.0h-1.5zM420.1 341.1h1.5v2.0h-1.5zM180.4 367.8h1.5v2.0h-1.5zM463.0 338.3h1.5v2.0h-1.5zM474.3 367.7h1.5v2.0h-1.5zM152.2 349.4h1.5v2.0h-1.5zM440.4 344.5h1.5v2.0h-1.5zM452.4 357.1h1.5v2.0h-1.5zM302.9 327.4h1.5v2.0h-1.5zM116.0 336.4h1.5v2.0h-1.5zM369.8 334.2h1.5v2.0h-1.5zM415.0 340.4h1.5v2.0h-1.5zM461.9 332.8h1.5v2.0h-1.5zM206.0 333.6h1.5v2.0h-1.5zM415.9 338.7h1.5v2.0h-1.5zM142.2 335.7h1.5v2.0h-1.5zM207.9 339.0h1.5v2.0h-1.5zM129.1 335.7h1.5v2.0h-1.5zM246.3 336.5h1.5v2.0h-1.5zM241.7 325.9h1.5v2.0h-1.5zM488.1 364.2h1.5v2.0h-1.5zM128.2 333.9h1.5v2.0h-1.5zM194.3 331.7h1.5v2.0h-1.5zM369.8 342.6h1.5v2.0h-1.5zM436.6 336.7h1.5v2.0h-1.5zM373.3 330.3h1.5v2.0h-1.5zM477.2 380.4h1.5v2.0h-1.5zM492.0 366.9h1.5v2.0h-1.5zM382.6 353.1h1.5v2.0h-1.5zM157.0 334.3h1.5v2.0h-1.5zM109.3 349.8h1.5v2.0h-1.5zM467.1 327.0h1.5v2.0h-1.5zM164.5 323.1h1.5v2.0h-1.5zM351.2 338.9h1.5v2.0h-1.5zM213.2 330.9h1.5v2.0h-1.5zM492.9 363.7h1.5v2.0h-1.5zM388.5 322.2h1.5v2.0h-1.5zM278.1 327.3h1.5v2.0h-1.5zM354.6 344.4h1.5v2.0h-1.5zM237.2 343.2h1.5v2.0h-1.5zM219.6 347.2h1.5v2.0h-1.5zM170.5 329.9h1.5v2.0h-1.5zM386.0 341.6h1.5v2.0h-1.5zM478.8 379.0h1.5v2.0h-1.5zM246.1 349.6h1.5v2.0h-1.5zM452.2 353.5h1.5v2.0h-1.5zM359.2 345.2h1.5v2.0h-1.5zM182.3 365.5h1.5v2.0h-1.5zM129.9 331.3h1.5v2.0h-1.5zM179.0 371.4h1.5v2.0h-1.5zM156.3 333.5h1.5v2.0h-1.5zM135.1 325.6h1.5v2.0h-1.5zM160.2 328.4h1.5v2.0h-1.5zM376.0 345.1h1.5v2.0h-1.5zM212.7 325.3h1.5v2.0h-1.5zM207.0 341.5h1.5v2.0h-1.5zM229.7 334.1h1.5v2.0h-1.5zM426.0 338.7h1.5v2.0h-1.5zM403.3 330.1h1.5v2.0h-1.5zM205.8 318.3h1.5v2.0h-1.5zM329.0 332.7h1.5v2.0h-1.5zM318.8 347.2h1.5v2.0h-1.5zM447.6 347.4h1.5v2.0h-1.5zM498.5 367.6h1.5v2.0h-1.5zM214.9 323.0h1.5v2.0h-1.5zM177.9 370.2h1.5v2.0h-1.5zM216.3 332.9h1.5v2.0h-1.5zM300.2 338.4h1.5v2.0h-1.5zM147.0 334.9h1.5v2.0h-1.5zM200.4 346.3h1.5v2.0h-1.5zM235.9 324.7h1.5v2.0h-1.5zM415.1 336.8h1.5v2.0h-1.5zM442.4 359.1h1.5v2.0h-1.5zM201.4 330.8h1.5v2.0h-1.5zM255.0 340.0h1.5v2.0h-1.5zM293.0 318.4h1.5v2.0h-1.5zM142.1 339.1h1.5v2.0h-1.5zM331.2 341.1h1.5v2.0h-1.5zM207.3 339.8h1.5v2.0h-1.5zM146.2 340.8h1.5v2.0h-1.5zM177.1 383.0h1.5v2.0h-1.5zM411.0 332.5h1.5v2.0h-1.5zM127.6 336.1h1.5v2.0h-1.5zM389.6 344.6h1.5v2.0h-1.5zM432.4 331.8h1.5v2.0h-1.5zM223.4 321.8h1.5v2.0h-1.5zM190.4 332.8h1.5v2.0h-1.5zM290.0 320.4h1.5v2.0h-1.5zM497.5 371.7h1.5v2.0h-1.5zM432.3 330.3h1.5v2.0h-1.5zM348.6 338.8h1.5v2.0h-1.5zM121.8 336.4h1.5v2.0h-1.5zM312.9 335.7h1.5v2.0h-1.5zM134.3 327.1h1.5v2.0h-1.5zM480.2 375.3h1.5v2.0h-1.5zM453.4 330.9h1.5v2.0h-1.5zM423.0 331.3h1.5v2.0h-1.5zM125.5 327.2h1.5v2.0h-1.5zM384.9 338.0h1.5v2.0h-1.5zM195.4 334.2h1.5v2.0h-1.5zM245.9 343.5h1.5v2.0h-1.5zM287.1 338.3h1.5v2.0h-1.5zM168.5 334.9h1.5v2.0h-1.5zM239.3 340.9h1.5v2.0h-1.5zM316.1 329.8h1.5v2.0h-1.5zM121.5 339.4h1.5v2.0h-1.5zM191.0 327.2h1.5v2.0h-1.5zM204.5 344.0h1.5v2.0h-1.5zM460.2 323.0h1.5v2.0h-1.5zM429.2 326.8h1.5v2.0h-1.5zM254.1 328.0h1.5v2.0h-1.5zM176.3 337.0h1.5v2.0h-1.5zM480.7 378.1h1.5v2.0h-1.5zM413.3 341.5h1.5v2.0h-1.5zM378.1 320.0h1.5v2.0h-1.5zM282.7 326.2h1.5v2.0h-1.5zM239.5 335.1h1.5v2.0h-1.5zM299.5 317.4h1.5v2.0h-1.5zM158.2 324.1h1.5v2.0h-1.5zM379.4 336.8h1.5v2.0h-1.5zM244.8 344.6h1.5v2.0h-1.5zM452.8 335.8h1.5v2.0h-1.5zM266.3 351.4h1.5v2.0h-1.5zM220.3 339.7h1.5v2.0h-1.5zM227.6 337.4h1.5v2.0h-1.5zM389.4 353.6h1.5v2.0h-1.5zM375.6 331.9h1.5v2.0h-1.5zM132.2 328.3h1.5v2.0h-1.5zM361.9 332.5h1.5v2.0h-1.5zM290.1 328.0h1.5v2.0h-1.5zM155.1 341.1h1.5v2.0h-1.5zM194.4 340.0h1.5v2.0h-1.5zM125.3 333.0h1.5v2.0h-1.5zM159.7 324.2h1.5v2.0h-1.5zM157.6 341.7h1.5v2.0h-1.5zM475.3 365.2h1.5v2.0h-1.5zM193.4 329.6h1.5v2.0h-1.5zM463.7 344.4h1.5v2.0h-1.5zM122.4 327.8h1.5v2.0h-1.5zM126.5 337.7h1.5v2.0h-1.5zM278.8 328.0h1.5v2.0h-1.5zM207.9 333.3h1.5v2.0h-1.5zM430.6 346.6h1.5v2.0h-1.5zM199.7 331.1h1.5v2.0h-1.5zM214.2 332.9h1.5v2.0h-1.5zM260.5 347.1h1.5v2.0h-1.5zM127.0 342.3h1.5v2.0h-1.5zM331.9 340.1h1.5v2.0h-1.5zM448.3 325.0h1.5v2.0h-1.5zM342.7 360.4h1.5v2.0h-1.5zM267.2 348.5h1.5v2.0h-1.5zM165.9 321.1h1.5v2.0h-1.5zM442.7 334.6h1.5v2.0h-1.5zM376.8 335.6h1.5v2.0h-1.5zM176.1 335.3h1.5v2.0h-1.5zM462.2 330.3h1.5v2.0h-1.5zM370.6 324.8h1.5v2.0h-1.5zM210.7 337.0h1.5v2.0h-1.5zM171.2 337.7h1.5v2.0h-1.5zM395.0 324.1h1.5v2.0h-1.5zM149.6 341.0h1.5v2.0h-1.5zM219.8 335.4h1.5v2.0h-1.5zM136.9 325.0h1.5v2.0h-1.5zM445.5 354.5h1.5v2.0h-1.5zM439.0 328.9h1.5v2.0h-1.5zM130.3 336.5h1.5v2.0h-1.5zM384.7 330.0h1.5v2.0h-1.5zM478.0 371.8h1.5v2.0h-1.5zM134.0 324.2h1.5v2.0h-1.5zM285.8 327.0h1.5v2.0h-1.5zM481.2 368.9h1.5v2.0h-1.5zM113.3 329.3h1.5v2.0h-1.5zM222.2 331.1h1.5v2.0h-1.5zM282.3 323.1h1.5v2.0h-1.5zM130.5 332.4h1.5v2.0h-1.5zM252.9 332.8h1.5v2.0h-1.5zM216.2 334.0h1.5v2.0h-1.5zM387.4 323.5h1.5v2.0h-1.5zM318.7 342.4h1.5v2.0h-1.5zM471.6 334.3h1.5v2.0h-1.5zM475.1 369.1h1.5v2.0h-1.5zM444.0 353.1h1.5v2.0h-1.5zM446.0 329.5h1.5v2.0h-1.5zM498.2 367.2h1.5v2.0h-1.5zM242.9 339.6h1.5v2.0h-1.5zM123.5 323.8h1.5v2.0h-1.5zM290.0 338.5h1.5v2.0h-1.5zM312.6 335.1h1.5v2.0h-1.5zM269.4 345.3h1.5v2.0h-1.5zM196.3 331.7h1.5v2.0h-1.5zM475.2 383.5h1.5v2.0h-1.5zM182.2 365.7h1.5v2.0h-1.5zM368.6 338.1h1.5v2.0h-1.5zM416.6 324.5h1.5v2.0h-1.5zM491.4 371.1h1.5v2.0h-1.5zM360.8 333.3h1.5v2.0h-1.5zM459.8 337.4h1.5v2.0h-1.5zM179.6 380.5h1.5v2.0h-1.5zM288.2 332.4h1.5v2.0h-1.5zM238.0 326.9h1.5v2.0h-1.5zM314.3 344.3h1.5v2.0h-1.5zM156.5 341.4h1.5v2.0h-1.5zM460.0 329.6h1.5v2.0h-1.5zM154.1 327.5h1.5v2.0h-1.5zM297.3 331.5h1.5v2.0h-1.5zM151.5 326.5h1.5v2.0h-1.5zM309.6 328.8h1.5v2.0h-1.5zM292.8 328.4h1.5v2.0h-1.5zM288.6 326.1h1.5v2.0h-1.5zM211.1 326.0h1.5v2.0h-1.5zM386.3 338.3h1.5v2.0h-1.5zM303.2 324.1h1.5v2.0h-1.5zM372.0 328.5h1.5v2.0h-1.5zM495.7 375.8h1.5v2.0h-1.5zM250.4 333.7h1.5v2.0h-1.5zM390.1 312.6h1.5v2.0h-1.5zM420.4 341.1h1.5v2.0h-1.5zM487.3 374.6h1.5v2.0h-1.5zM174.9 327.3h1.5v2.0h-1.5zM163.8 357.7h1.5v2.0h-1.5zM379.2 341.7h1.5v2.0h-1.5zM310.9 341.9h1.5v2.0h-1.5zM340.8 330.1h1.5v2.0h-1.5zM362.8 324.8h1.5v2.0h-1.5zM225.0 343.1h1.5v2.0h-1.5zM380.7 328.4h1.5v2.0h-1.5zM464.2 336.7h1.5v2.0h-1.5zM243.4 347.2h1.5v2.0h-1.5zM362.5 337.4h1.5v2.0h-1.5zM390.6 341.8h1.5v2.0h-1.5zM323.6 334.8h1.5v2.0h-1.5zM187.4 341.9h1.5v2.0h-1.5zM108.2 321.7h1.5v2.0h-1.5zM246.4 338.3h1.5v2.0h-1.5zM429.1 350.2h1.5v2.0h-1.5zM289.2 326.2h1.5v2.0h-1.5zM465.9 322.2h1.5v2.0h-1.5zM203.0 321.0h1.5v2.0h-1.5zM125.7 336.5h1.5v2.0h-1.5zM467.6 344.0h1.5v2.0h-1.5zM341.3 331.0h1.5v2.0h-1.5zM227.6 335.9h1.5v2.0h-1.5zM203.4 333.8h1.5v2.0h-1.5zM135.9 332.5h1.5v2.0h-1.5zM234.0 328.7h1.5v2.0h-1.5zM377.9 337.8h1.5v2.0h-1.5zM178.0 378.6h1.5v2.0h-1.5zM115.1 327.2h1.5v2.0h-1.5zM321.9 338.9h1.5v2.0h-1.5zM155.4 330.9h1.5v2.0h-1.5zM460.3 352.0h1.5v2.0h-1.5zM264.1 346.2h1.5v2.0h-1.5zM273.6 323.0h1.5v2.0h-1.5zM227.2 332.5h1.5v2.0h-1.5zM473.3 369.0h1.5v2.0h-1.5zM145.7 331.7h1.5v2.0h-1.5zM297.5 330.2h1.5v2.0h-1.5zM340.8 356.6h1.5v2.0h-1.5zM418.7 332.2h1.5v2.0h-1.5zM284.9 331.0h1.5v2.0h-1.5zM164.5 336.0h1.5v2.0h-1.5zM266.4 351.7h1.5v2.0h-1.5zM256.3 343.1h1.5v2.0h-1.5zM265.0 351.4h1.5v2.0h-1.5zM307.9 334.3h1.5v2.0h-1.5zM362.2 334.1h1.5v2.0h-1.5zM294.2 313.3h1.5v2.0h-1.5zM410.2 353.5h1.5v2.0h-1.5zM485.5 358.5h1.5v2.0h-1.5zM201.4 336.7h1.5v2.0h-1.5zM473.0 375.0h1.5v2.0h-1.5zM285.4 333.7h1.5v2.0h-1.5zM223.4 315.1h1.5v2.0h-1.5zM320.1 330.9h1.5v2.0h-1.5zM176.3 335.0h1.5v2.0h-1.5zM266.0 344.3h1.5v2.0h-1.5zM246.7 345.6h1.5v2.0h-1.5zM482.7 371.7h1.5v2.0h-1.5zM473.6 367.5h1.5v2.0h-1.5zM355.8 340.8h1.5v2.0h-1.5zM415.3 339.5h1.5v2.0h-1.5zM253.8 329.9h1.5v2.0h-1.5zM426.2 331.2h1.5v2.0h-1.5zM461.1 326.1h1.5v2.0h-1.5zM415.7 318.3h1.5v2.0h-1.5zM451.0 344.7h1.5v2.0h-1.5zM202.3 334.6h1.5v2.0h-1.5zM115.7 340.5h1.5v2.0h-1.5zM392.5 332.1h1.5v2.0h-1.5zM184.6 348.5h1.5v2.0h-1.5zM461.8 330.1h1.5v2.0h-1.5zM246.9 342.9h1.5v2.0h-1.5zM217.9 343.5h1.5v2.0h-1.5zM140.9 337.7h1.5v2.0h-1.5zM375.2 340.0h1.5v2.0h-1.5zM418.2 339.5h1.5v2.0h-1.5zM215.1 326.6h1.5v2.0h-1.5zM335.6 338.0h1.5v2.0h-1.5zM490.5 373.4h1.5v2.0h-1.5zM201.2 338.8h1.5v2.0h-1.5zM424.3 332.8h1.5v2.0h-1.5zM196.3 329.1h1.5v2.0h-1.5zM323.7 329.9h1.5v2.0h-1.5zM350.7 346.7h1.5v2.0h-1.5zM201.4 333.1h1.5v2.0h-1.5zM249.0 337.1h1.5v2.0h-1.5zM441.3 338.8h1.5v2.0h-1.5zM438.5 329.3h1.5v2.0h-1.5zM471.8 339.5h1.5v2.0h-1.5zM372.1 336.7h1.5v2.0h-1.5zM458.0 336.1h1.5v2.0h-1.5zM167.4 325.0h1.5v2.0h-1.5zM288.9 320.0h1.5v2.0h-1.5zM129.7 323.7h1.5v2.0h-1.5zM455.0 346.5h1.5v2.0h-1.5zM184.4 381.5h1.5v2.0h-1.5zM118.7 336.6h1.5v2.0h-1.5zM411.7 334.2h1.5v2.0h-1.5zM400.9 341.3h1.5v2.0h-1.5zM390.1 334.1h1.5v2.0h-1.5zM410.6 336.9h1.5v2.0h-1.5zM271.1 337.7h1.5v2.0h-1.5zM181.6 358.0h1.5v2.0h-1.5zM136.5 315.9h1.5v2.0h-1.5zM231.1 342.7h1.5v2.0h-1.5zM219.6 323.5h1.5v2.0h-1.5zM321.8 339.5h1.5v2.0h-1.5zM119.6 328.5h1.5v2.0h-1.5zM177.5 382.0h1.5v2.0h-1.5zM479.8 380.5h1.5v2.0h-1.5zM432.9 331.9h1.5v2.0h-1.5zM223.1 335.7h1.5v2.0h-1.5zM225.9 330.4h1.5v2.0h-1.5zM282.8 323.5h1.5v2.0h-1.5zM450.1 354.3h1.5v2.0h-1.5zM292.3 331.5h1.5v2.0h-1.5zM335.3 331.8h1.5v2.0h-1.5zM398.8 328.3h1.5v2.0h-1.5zM496.1 364.3h1.5v2.0h-1.5zM430.5 333.5h1.5v2.0h-1.5zM467.9 337.6h1.5v2.0h-1.5zM245.3 331.0h1.5v2.0h-1.5zM454.6 331.1h1.5v2.0h-1.5zM264.4 324.4h1.5v2.0h-1.5zM179.7 356.9h1.5v2.0h-1.5zM388.8 335.5h1.5v2.0h-1.5zM265.3 347.8h1.5v2.0h-1.5zM492.7 366.9h1.5v2.0h-1.5zM127.9 337.7h1.5v2.0h-1.5zM210.6 334.3h1.5v2.0h-1.5zM214.9 325.5h1.5v2.0h-1.5zM339.1 344.2h1.5v2.0h-1.5zM149.0 329.4h1.5v2.0h-1.5zM314.9 335.1h1.5v2.0h-1.5zM252.1 347.1h1.5v2.0h-1.5zM169.9 322.6h1.5v2.0h-1.5zM298.1 332.8h1.5v2.0h-1.5zM345.4 330.5h1.5v2.0h-1.5zM318.6 323.2h1.5v2.0h-1.5zM316.8 332.7h1.5v2.0h-1.5zM285.3 336.3h1.5v2.0h-1.5zM113.7 332.3h1.5v2.0h-1.5zM150.2 326.3h1.5v2.0h-1.5zM322.1 333.5h1.5v2.0h-1.5zM270.6 337.5h1.5v2.0h-1.5zM422.2 339.6h1.5v2.0h-1.5zM230.1 307.8h1.5v2.0h-1.5zM154.7 348.8h1.5v2.0h-1.5zM151.5 335.7h1.5v2.0h-1.5zM263.3 349.7h1.5v2.0h-1.5zM442.0 344.6h1.5v2.0h-1.5zM229.1 321.2h1.5v2.0h-1.5zM344.5 328.1h1.5v2.0h-1.5zM481.1 376.4h1.5v2.0h-1.5zM343.3 357.5h1.5v2.0h-1.5zM304.7 337.8h1.5v2.0h-1.5zM428.8 316.3h1.5v2.0h-1.5zM265.4 359.1h1.5v2.0h-1.5zM491.0 362.8h1.5v2.0h-1.5zM242.8 333.5h1.5v2.0h-1.5zM375.3 320.9h1.5v2.0h-1.5zM263.8 355.5h1.5v2.0h-1.5zM423.9 332.2h1.5v2.0h-1.5zM130.7 334.0h1.5v2.0h-1.5zM492.2 376.8h1.5v2.0h-1.5zM386.7 319.8h1.5v2.0h-1.5zM206.9 325.7h1.5v2.0h-1.5zM128.3 323.7h1.5v2.0h-1.5zM498.0 364.5h1.5v2.0h-1.5zM132.2 325.6h1.5v2.0h-1.5zM483.3 376.4h1.5v2.0h-1.5zM194.0 341.7h1.5v2.0h-1.5zM316.3 327.5h1.5v2.0h-1.5zM477.0 367.4h1.5v2.0h-1.5zM418.2 341.9h1.5v2.0h-1.5zM378.2 344.1h1.5v2.0h-1.5zM365.6 326.9h1.5v2.0h-1.5zM363.9 335.1h1.5v2.0h-1.5zM194.1 340.7h1.5v2.0h-1.5zM241.1 338.2h1.5v2.0h-1.5zM357.4 311.8h1.5v2.0h-1.5zM314.7 348.8h1.5v2.0h-1.5zM139.4 341.5h1.5v2.0h-1.5zM478.5 371.7h1.5v2.0h-1.5zM219.6 344.6h1.5v2.0h-1.5zM171.8 338.1h1.5v2.0h-1.5zM404.3 328.3h1.5v2.0h-1.5zM435.7 350.2h1.5v2.0h-1.5zM278.3 340.4h1.5v2.0h-1.5zM475.0 366.4h1.5v2.0h-1.5zM250.4 340.2h1.5v2.0h-1.5zM459.2 331.7h1.5v2.0h-1.5zM487.4 371.0h1.5v2.0h-1.5zM247.8 342.4h1.5v2.0h-1.5zM386.1 323.5h1.5v2.0h-1.5zM161.7 336.6h1.5v2.0h-1.5zM211.2 324.8h1.5v2.0h-1.5zM264.4 349.8h1.5v2.0h-1.5zM446.9 337.3h1.5v2.0h-1.5zM216.2 319.7h1.5v2.0h-1.5zM266.2 348.4h1.5v2.0h-1.5zM415.8 331.1h1.5v2.0h-1.5zM204.3 341.8h1.5v2.0h-1.5zM246.0 327.4h1.5v2.0h-1.5zM134.2 343.2h1.5v2.0h-1.5zM444.7 353.4h1.5v2.0h-1.5zM375.9 322.0h1.5v2.0h-1.5zM124.4 347.3h1.5v2.0h-1.5zM244.2 325.8h1.5v2.0h-1.5zM202.5 316.3h1.5v2.0h-1.5zM446.1 347.8h1.5v2.0h-1.5zM147.4 339.9h1.5v2.0h-1.5zM151.1 323.6h1.5v2.0h-1.5zM278.5 337.8h1.5v2.0h-1.5zM117.2 338.5h1.5v2.0h-1.5zM181.2 362.8h1.5v2.0h-1.5zM185.1 333.1h1.5v2.0h-1.5zM114.7 337.0h1.5v2.0h-1.5zM252.4 320.6h1.5v2.0h-1.5zM328.0 346.9h1.5v2.0h-1.5zM285.5 333.1h1.5v2.0h-1.5zM298.2 348.2h1.5v2.0h-1.5zM359.5 328.1h1.5v2.0h-1.5zM490.5 375.8h1.5v2.0h-1.5zM287.7 324.9h1.5v2.0h-1.5zM247.9 336.9h1.5v2.0h-1.5zM108.1 340.6h1.5v2.0h-1.5zM223.4 337.8h1.5v2.0h-1.5zM449.7 339.0h1.5v2.0h-1.5zM317.7 339.5h1.5v2.0h-1.5zM234.6 334.4h1.5v2.0h-1.5zM434.3 326.8h1.5v2.0h-1.5zM138.4 333.8h1.5v2.0h-1.5zM319.9 342.6h1.5v2.0h-1.5zM289.9 370.5h1.5v2.0h-1.5zM435.5 322.9h1.5v2.0h-1.5zM196.4 346.0h1.5v2.0h-1.5zM198.8 343.2h1.5v2.0h-1.5zM278.8 332.5h1.5v2.0h-1.5zM112.4 331.9h1.5v2.0h-1.5zM258.5 333.5h1.5v2.0h-1.5zM313.6 336.7h1.5v2.0h-1.5zM243.9 331.3h1.5v2.0h-1.5zM219.7 332.0h1.5v2.0h-1.5zM348.9 330.1h1.5v2.0h-1.5zM207.2 338.3h1.5v2.0h-1.5zM349.0 338.9h1.5v2.0h-1.5zM214.3 333.9h1.5v2.0h-1.5zM475.3 372.4h1.5v2.0h-1.5zM447.8 329.7h1.5v2.0h-1.5zM335.1 334.0h1.5v2.0h-1.5zM120.4 338.5h1.5v2.0h-1.5zM431.4 349.3h1.5v2.0h-1.5zM312.1 345.9h1.5v2.0h-1.5zM421.0 336.2h1.5v2.0h-1.5zM285.5 335.0h1.5v2.0h-1.5zM143.1 321.3h1.5v2.0h-1.5zM335.7 347.3h1.5v2.0h-1.5zM478.8 379.8h1.5v2.0h-1.5zM336.8 340.4h1.5v2.0h-1.5zM359.6 328.8h1.5v2.0h-1.5zM388.5 326.4h1.5v2.0h-1.5zM144.2 326.4h1.5v2.0h-1.5zM489.6 371.0h1.5v2.0h-1.5zM352.8 339.3h1.5v2.0h-1.5zM231.8 336.3h1.5v2.0h-1.5zM327.8 334.3h1.5v2.0h-1.5zM284.2 331.6h1.5v2.0h-1.5zM214.5 341.6h1.5v2.0h-1.5zM230.1 325.7h1.5v2.0h-1.5zM362.1 337.4h1.5v2.0h-1.5zM374.7 339.6h1.5v2.0h-1.5zM181.3 354.9h1.5v2.0h-1.5zM125.8 319.6h1.5v2.0h-1.5zM132.4 345.1h1.5v2.0h-1.5zM433.6 361.3h1.5v2.0h-1.5zM204.1 350.7h1.5v2.0h-1.5zM168.5 338.3h1.5v2.0h-1.5zM488.1 370.6h1.5v2.0h-1.5zM127.0 330.5h1.5v2.0h-1.5zM191.4 331.9h1.5v2.0h-1.5zM456.2 364.0h1.5v2.0h-1.5zM298.3 323.4h1.5v2.0h-1.5zM108.2 344.3h1.5v2.0h-1.5zM161.5 332.3h1.5v2.0h-1.5zM278.7 333.2h1.5v2.0h-1.5zM495.8 358.2h1.5v2.0h-1.5zM488.1 374.7h1.5v2.0h-1.5zM327.2 336.2h1.5v2.0h-1.5zM314.6 338.7h1.5v2.0h-1.5zM407.7 346.6h1.5v2.0h-1.5zM107.7 333.2h1.5v2.0h-1.5zM210.2 340.8h1.5v2.0h-1.5zM257.3 330.6h1.5v2.0h-1.5zM432.8 322.2h1.5v2.0h-1.5zM231.4 331.9h1.5v2.0h-1.5zM272.6 337.6h1.5v2.0h-1.5zM180.1 358.9h1.5v2.0h-1.5zM372.8 336.7h1.5v2.0h-1.5zM115.4 344.6h1.5v2.0h-1.5zM248.9 319.1h1.5v2.0h-1.5zM278.4 325.1h1.5v2.0h-1.5zM116.4 344.6h1.5v2.0h-1.5zM213.1 328.8h1.5v2.0h-1.5zM394.9 350.0h1.5v2.0h-1.5zM155.7 324.5h1.5v2.0h-1.5zM384.1 342.4h1.5v2.0h-1.5zM114.4 330.7h1.5v2.0h-1.5zM290.1 322.7h1.5v2.0h-1.5zM130.6 325.2h1.5v2.0h-1.5zM215.0 338.8h1.5v2.0h-1.5zM110.4 328.5h1.5v2.0h-1.5zM363.7 325.6h1.5v2.0h-1.5zM435.3 340.4h1.5v2.0h-1.5zM179.5 362.1h1.5v2.0h-1.5zM494.7 354.2h1.5v2.0h-1.5zM484.6 379.8h1.5v2.0h-1.5zM201.1 340.0h1.5v2.0h-1.5zM433.9 359.1h1.5v2.0h-1.5zM494.2 376.8h1.5v2.0h-1.5zM466.6 351.2h1.5v2.0h-1.5zM496.3 359.1h1.5v2.0h-1.5zM109.1 340.7h1.5v2.0h-1.5zM206.2 325.6h1.5v2.0h-1.5zM464.1 332.2h1.5v2.0h-1.5zM383.4 332.0h1.5v2.0h-1.5zM215.7 323.5h1.5v2.0h-1.5zM227.3 333.2h1.5v2.0h-1.5zM319.8 327.4h1.5v2.0h-1.5zM272.5 335.9h1.5v2.0h-1.5zM250.2 327.0h1.5v2.0h-1.5zM269.4 341.8h1.5v2.0h-1.5zM206.3 332.6h1.5v2.0h-1.5zM366.9 329.3h1.5v2.0h-1.5zM201.6 331.9h1.5v2.0h-1.5z" fill="#a81010"/>
<rect x="106" y="391.2" width="393.5" height="1.6" fill="#a82020" fill-opacity="0.9"/>
<path d="M177.6 392.0h1.2v1.2h-1.2zM212.5 392.2h1.2v1.2h-1.2zM106.1 391.9h1.2v1.2h-1.2zM212.4 392.0h1.2v1.2h-1.2zM247.4 392.2h1.2v1.2h-1.2zM338.5 393.1h1.2v1.2h-1.2zM262.6 393.3h1.2v1.2h-1.2zM201.3 391.6h1.2v1.2h-1.2zM363.4 391.9h1.2v1.2h-1.2zM231.6 393.4h1.2v1.2h-1.2zM381.8 391.9h1.2v1.2h-1.2zM194.5 393.5h1.2v1.2h-1.2zM337.5 392.9h1.2v1.2h-1.2zM383.5 392.6h1.2v1.2h-1.2zM274.9 391.9h1.2v1.2h-1.2zM404.2 391.0h1.2v1.2h-1.2zM469.3 393.0h1.2v1.2h-1.2zM455.4 392.3h1.2v1.2h-1.2zM407.4 392.5h1.2v1.2h-1.2zM315.0 391.5h1.2v1.2h-1.2zM365.2 392.3h1.2v1.2h-1.2zM166.4 391.4h1.2v1.2h-1.2zM175.7 392.5h1.2v1.2h-1.2zM300.4 392.3h1.2v1.2h-1.2zM478.2 393.3h1.2v1.2h-1.2zM230.4 392.1h1.2v1.2h-1.2zM222.9 392.6h1.2v1.2h-1.2zM229.3 391.9h1.2v1.2h-1.2zM186.2 391.8h1.2v1.2h-1.2zM402.1 391.9h1.2v1.2h-1.2zM486.9 392.3h1.2v1.2h-1.2zM157.9 392.4h1.2v1.2h-1.2zM342.3 392.2h1.2v1.2h-1.2zM419.5 392.6h1.2v1.2h-1.2zM107.0 392.7h1.2v1.2h-1.2zM405.7 392.0h1.2v1.2h-1.2zM306.7 391.7h1.2v1.2h-1.2zM385.6 392.2h1.2v1.2h-1.2zM442.1 393.5h1.2v1.2h-1.2zM234.4 392.2h1.2v1.2h-1.2zM352.6 392.3h1.2v1.2h-1.2zM366.9 392.1h1.2v1.2h-1.2zM172.1 392.0h1.2v1.2h-1.2zM329.8 393.3h1.2v1.2h-1.2zM156.8 391.8h1.2v1.2h-1.2zM211.3 391.9h1.2v1.2h-1.2zM156.6 392.2h1.2v1.2h-1.2zM348.9 392.4h1.2v1.2h-1.2zM482.8 391.9h1.2v1.2h-1.2zM458.2 392.7h1.2v1.2h-1.2zM380.1 392.4h1.2v1.2h-1.2zM263.2 392.7h1.2v1.2h-1.2zM265.7 392.2h1.2v1.2h-1.2zM132.0 392.3h1.2v1.2h-1.2zM422.2 392.2h1.2v1.2h-1.2zM444.1 393.0h1.2v1.2h-1.2zM425.9 391.8h1.2v1.2h-1.2zM135.3 391.5h1.2v1.2h-1.2zM260.0 392.0h1.2v1.2h-1.2zM358.3 391.7h1.2v1.2h-1.2zM185.4 391.7h1.2v1.2h-1.2zM422.1 392.8h1.2v1.2h-1.2zM372.7 391.8h1.2v1.2h-1.2zM495.0 392.4h1.2v1.2h-1.2zM305.8 392.1h1.2v1.2h-1.2zM486.9 392.0h1.2v1.2h-1.2zM288.6 392.2h1.2v1.2h-1.2zM407.8 392.3h1.2v1.2h-1.2zM485.0 392.4h1.2v1.2h-1.2zM415.7 391.4h1.2v1.2h-1.2zM164.4 392.8h1.2v1.2h-1.2zM485.2 392.1h1.2v1.2h-1.2zM477.0 392.0h1.2v1.2h-1.2zM260.7 391.7h1.2v1.2h-1.2zM115.2 392.0h1.2v1.2h-1.2zM350.1 392.3h1.2v1.2h-1.2zM261.6 392.0h1.2v1.2h-1.2zM420.0 392.8h1.2v1.2h-1.2zM267.8 393.1h1.2v1.2h-1.2zM201.8 392.5h1.2v1.2h-1.2zM111.3 391.0h1.2v1.2h-1.2zM159.5 391.7h1.2v1.2h-1.2zM364.6 391.1h1.2v1.2h-1.2zM171.6 392.6h1.2v1.2h-1.2zM434.0 392.9h1.2v1.2h-1.2zM166.8 392.3h1.2v1.2h-1.2zM285.8 393.1h1.2v1.2h-1.2zM343.5 392.5h1.2v1.2h-1.2zM186.7 393.0h1.2v1.2h-1.2zM382.4 392.2h1.2v1.2h-1.2zM277.1 392.2h1.2v1.2h-1.2zM318.9 392.0h1.2v1.2h-1.2zM468.6 392.6h1.2v1.2h-1.2zM210.1 392.4h1.2v1.2h-1.2zM205.9 392.6h1.2v1.2h-1.2zM475.1 393.4h1.2v1.2h-1.2zM258.2 391.8h1.2v1.2h-1.2zM309.5 391.7h1.2v1.2h-1.2zM417.8 392.9h1.2v1.2h-1.2zM276.1 393.4h1.2v1.2h-1.2zM263.6 391.5h1.2v1.2h-1.2zM397.1 391.8h1.2v1.2h-1.2zM270.1 392.8h1.2v1.2h-1.2zM194.5 392.6h1.2v1.2h-1.2zM423.5 392.6h1.2v1.2h-1.2zM255.7 392.7h1.2v1.2h-1.2zM269.5 392.0h1.2v1.2h-1.2zM445.1 392.5h1.2v1.2h-1.2zM430.5 391.5h1.2v1.2h-1.2zM260.5 392.3h1.2v1.2h-1.2zM414.3 393.0h1.2v1.2h-1.2zM192.4 392.3h1.2v1.2h-1.2zM403.8 391.8h1.2v1.2h-1.2zM480.2 392.8h1.2v1.2h-1.2zM482.6 392.4h1.2v1.2h-1.2zM267.2 392.4h1.2v1.2h-1.2zM447.4 392.3h1.2v1.2h-1.2zM324.2 392.3h1.2v1.2h-1.2zM356.9 391.6h1.2v1.2h-1.2zM284.7 393.0h1.2v1.2h-1.2zM146.0 391.6h1.2v1.2h-1.2zM108.3 392.1h1.2v1.2h-1.2zM192.3 391.3h1.2v1.2h-1.2zM179.0 393.3h1.2v1.2h-1.2zM405.3 392.0h1.2v1.2h-1.2zM288.5 393.7h1.2v1.2h-1.2zM359.8 391.1h1.2v1.2h-1.2zM145.7 391.8h1.2v1.2h-1.2zM262.9 392.0h1.2v1.2h-1.2zM406.2 392.5h1.2v1.2h-1.2zM288.2 392.6h1.2v1.2h-1.2zM385.0 392.9h1.2v1.2h-1.2zM109.9 391.2h1.2v1.2h-1.2zM358.5 392.3h1.2v1.2h-1.2zM281.3 391.7h1.2v1.2h-1.2zM207.8 392.0h1.2v1.2h-1.2zM154.6 392.8h1.2v1.2h-1.2zM393.6 391.4h1.2v1.2h-1.2zM265.1 392.7h1.2v1.2h-1.2zM207.9 392.5h1.2v1.2h-1.2zM496.6 392.3h1.2v1.2h-1.2zM436.9 391.8h1.2v1.2h-1.2zM341.1 393.1h1.2v1.2h-1.2zM467.1 392.7h1.2v1.2h-1.2zM358.2 392.2h1.2v1.2h-1.2zM181.1 393.2h1.2v1.2h-1.2zM435.8 391.8h1.2v1.2h-1.2zM165.3 391.0h1.2v1.2h-1.2zM233.0 392.1h1.2v1.2h-1.2zM380.1 391.2h1.2v1.2h-1.2zM390.1 392.7h1.2v1.2h-1.2zM421.3 392.5h1.2v1.2h-1.2zM330.3 392.7h1.2v1.2h-1.2zM216.1 392.5h1.2v1.2h-1.2zM408.2 392.6h1.2v1.2h-1.2zM490.8 392.4h1.2v1.2h-1.2zM479.1 392.9h1.2v1.2h-1.2zM395.1 391.1h1.2v1.2h-1.2zM321.7 391.8h1.2v1.2h-1.2zM123.4 392.2h1.2v1.2h-1.2zM173.8 391.9h1.2v1.2h-1.2zM374.8 392.8h1.2v1.2h-1.2zM173.1 391.9h1.2v1.2h-1.2zM388.1 392.8h1.2v1.2h-1.2zM218.9 392.6h1.2v1.2h-1.2zM253.0 392.0h1.2v1.2h-1.2zM284.6 392.1h1.2v1.2h-1.2zM223.2 392.4h1.2v1.2h-1.2zM473.5 391.6h1.2v1.2h-1.2zM227.9 392.4h1.2v1.2h-1.2zM428.7 392.7h1.2v1.2h-1.2zM405.2 393.0h1.2v1.2h-1.2zM265.8 392.0h1.2v1.2h-1.2zM370.0 392.0h1.2v1.2h-1.2zM158.9 392.7h1.2v1.2h-1.2zM316.2 392.0h1.2v1.2h-1.2zM165.1 392.9h1.2v1.2h-1.2zM271.2 391.9h1.2v1.2h-1.2zM256.1 392.7h1.2v1.2h-1.2zM167.4 392.3h1.2v1.2h-1.2zM167.4 391.8h1.2v1.2h-1.2zM155.1 392.3h1.2v1.2h-1.2zM161.2 392.0h1.2v1.2h-1.2zM358.4 392.4h1.2v1.2h-1.2zM341.5 392.2h1.2v1.2h-1.2zM120.6 393.2h1.2v1.2h-1.2zM443.3 392.5h1.2v1.2h-1.2zM172.1 392.6h1.2v1.2h-1.2zM493.0 392.7h1.2v1.2h-1.2zM306.2 391.6h1.2v1.2h-1.2zM256.4 391.9h1.2v1.2h-1.2zM370.8 392.4h1.2v1.2h-1.2zM377.7 392.0h1.2v1.2h-1.2zM298.5 392.4h1.2v1.2h-1.2zM226.0 391.4h1.2v1.2h-1.2zM493.3 391.4h1.2v1.2h-1.2zM331.6 391.6h1.2v1.2h-1.2zM476.4 391.9h1.2v1.2h-1.2zM432.5 392.4h1.2v1.2h-1.2zM398.7 392.2h1.2v1.2h-1.2zM131.2 392.1h1.2v1.2h-1.2zM184.8 391.9h1.2v1.2h-1.2zM166.7 393.4h1.2v1.2h-1.2zM118.3 391.3h1.2v1.2h-1.2zM134.6 391.2h1.2v1.2h-1.2zM117.6 392.7h1.2v1.2h-1.2zM232.1 392.2h1.2v1.2h-1.2zM336.2 391.2h1.2v1.2h-1.2zM363.6 391.3h1.2v1.2h-1.2zM155.5 392.6h1.2v1.2h-1.2zM456.2 392.2h1.2v1.2h-1.2zM317.1 391.9h1.2v1.2h-1.2zM434.9 391.9h1.2v1.2h-1.2zM215.7 392.1h1.2v1.2h-1.2zM330.5 392.0h1.2v1.2h-1.2zM224.7 392.6h1.2v1.2h-1.2zM492.8 392.6h1.2v1.2h-1.2zM167.9 393.1h1.2v1.2h-1.2zM327.1 392.3h1.2v1.2h-1.2zM409.0 391.8h1.2v1.2h-1.2zM233.5 392.5h1.2v1.2h-1.2zM489.4 392.5h1.2v1.2h-1.2zM291.8 391.3h1.2v1.2h-1.2zM144.5 392.5h1.2v1.2h-1.2zM147.9 391.9h1.2v1.2h-1.2zM194.1 391.4h1.2v1.2h-1.2zM194.4 391.4h1.2v1.2h-1.2zM199.9 391.4h1.2v1.2h-1.2zM220.6 392.5h1.2v1.2h-1.2zM206.0 392.3h1.2v1.2h-1.2zM209.6 391.9h1.2v1.2h-1.2zM406.6 392.3h1.2v1.2h-1.2zM367.7 392.3h1.2v1.2h-1.2zM442.7 392.6h1.2v1.2h-1.2zM471.3 392.6h1.2v1.2h-1.2zM349.5 392.4h1.2v1.2h-1.2zM300.3 392.6h1.2v1.2h-1.2zM253.1 392.8h1.2v1.2h-1.2zM394.7 392.0h1.2v1.2h-1.2zM489.6 392.4h1.2v1.2h-1.2zM468.7 392.9h1.2v1.2h-1.2zM388.5 391.7h1.2v1.2h-1.2zM427.5 392.5h1.2v1.2h-1.2zM217.3 392.8h1.2v1.2h-1.2zM409.9 392.3h1.2v1.2h-1.2zM266.0 391.9h1.2v1.2h-1.2zM279.2 391.3h1.2v1.2h-1.2zM380.5 391.4h1.2v1.2h-1.2zM303.6 391.6h1.2v1.2h-1.2zM177.2 392.3h1.2v1.2h-1.2zM161.5 391.6h1.2v1.2h-1.2zM324.1 392.9h1.2v1.2h-1.2zM450.9 392.8h1.2v1.2h-1.2zM147.9 391.6h1.2v1.2h-1.2zM138.0 392.3h1.2v1.2h-1.2zM129.9 392.0h1.2v1.2h-1.2zM115.8 391.4h1.2v1.2h-1.2zM433.2 392.4h1.2v1.2h-1.2zM260.4 392.4h1.2v1.2h-1.2zM380.1 391.9h1.2v1.2h-1.2zM167.8 392.3h1.2v1.2h-1.2zM221.8 392.6h1.2v1.2h-1.2zM362.8 392.4h1.2v1.2h-1.2zM139.0 392.4h1.2v1.2h-1.2zM208.1 391.8h1.2v1.2h-1.2zM291.9 391.6h1.2v1.2h-1.2zM274.2 393.3h1.2v1.2h-1.2zM438.7 392.4h1.2v1.2h-1.2zM257.6 391.3h1.2v1.2h-1.2zM428.6 392.4h1.2v1.2h-1.2zM308.2 391.7h1.2v1.2h-1.2zM297.3 392.1h1.2v1.2h-1.2zM198.9 392.5h1.2v1.2h-1.2zM495.3 391.6h1.2v1.2h-1.2zM230.2 392.1h1.2v1.2h-1.2zM134.7 391.2h1.2v1.2h-1.2zM421.9 392.6h1.2v1.2h-1.2zM153.7 391.7h1.2v1.2h-1.2zM223.2 391.9h1.2v1.2h-1.2zM306.8 391.9h1.2v1.2h-1.2zM176.9 391.8h1.2v1.2h-1.2zM450.1 391.4h1.2v1.2h-1.2zM142.0 393.0h1.2v1.2h-1.2zM121.8 392.4h1.2v1.2h-1.2zM134.9 391.8h1.2v1.2h-1.2zM356.0 391.6h1.2v1.2h-1.2zM443.1 392.7h1.2v1.2h-1.2zM202.1 393.4h1.2v1.2h-1.2zM302.3 392.3h1.2v1.2h-1.2zM372.2 392.5h1.2v1.2h-1.2zM174.0 392.1h1.2v1.2h-1.2zM432.3 392.0h1.2v1.2h-1.2zM460.2 392.7h1.2v1.2h-1.2zM481.7 391.8h1.2v1.2h-1.2zM477.6 393.3h1.2v1.2h-1.2zM342.6 392.0h1.2v1.2h-1.2zM235.3 392.9h1.2v1.2h-1.2zM240.9 391.7h1.2v1.2h-1.2zM315.8 392.0h1.2v1.2h-1.2zM491.7 393.2h1.2v1.2h-1.2zM180.1 392.1h1.2v1.2h-1.2zM381.1 392.1h1.2v1.2h-1.2zM309.7 392.7h1.2v1.2h-1.2zM487.8 392.8h1.2v1.2h-1.2zM415.5 392.2h1.2v1.2h-1.2zM376.5 391.5h1.2v1.2h-1.2zM238.3 391.9h1.2v1.2h-1.2zM492.1 393.3h1.2v1.2h-1.2zM385.2 393.2h1.2v1.2h-1.2zM341.0 391.9h1.2v1.2h-1.2zM329.7 393.2h1.2v1.2h-1.2zM240.4 391.5h1.2v1.2h-1.2zM137.0 393.5h1.2v1.2h-1.2zM166.9 391.4h1.2v1.2h-1.2zM334.3 392.5h1.2v1.2h-1.2zM325.4 391.5h1.2v1.2h-1.2zM154.2 392.0h1.2v1.2h-1.2zM146.0 393.3h1.2v1.2h-1.2zM158.8 391.6h1.2v1.2h-1.2zM127.9 392.5h1.2v1.2h-1.2zM207.7 391.9h1.2v1.2h-1.2zM186.8 391.8h1.2v1.2h-1.2zM221.4 392.6h1.2v1.2h-1.2zM496.1 392.3h1.2v1.2h-1.2zM372.9 392.9h1.2v1.2h-1.2zM299.8 392.3h1.2v1.2h-1.2zM304.4 392.3h1.2v1.2h-1.2zM486.7 392.9h1.2v1.2h-1.2zM325.1 392.6h1.2v1.2h-1.2zM301.5 391.7h1.2v1.2h-1.2zM121.1 392.2h1.2v1.2h-1.2zM473.9 392.6h1.2v1.2h-1.2zM152.3 391.0h1.2v1.2h-1.2zM391.3 392.1h1.2v1.2h-1.2zM129.2 393.3h1.2v1.2h-1.2zM247.0 391.9h1.2v1.2h-1.2zM107.7 392.8h1.2v1.2h-1.2zM167.1 393.8h1.2v1.2h-1.2zM405.3 393.1h1.2v1.2h-1.2zM484.6 392.1h1.2v1.2h-1.2zM287.8 392.6h1.2v1.2h-1.2zM328.7 391.5h1.2v1.2h-1.2zM132.2 392.2h1.2v1.2h-1.2zM403.0 393.2h1.2v1.2h-1.2zM392.8 392.4h1.2v1.2h-1.2zM249.7 392.6h1.2v1.2h-1.2zM398.4 392.1h1.2v1.2h-1.2zM290.3 391.8h1.2v1.2h-1.2zM255.5 391.7h1.2v1.2h-1.2zM303.5 392.8h1.2v1.2h-1.2zM208.9 392.1h1.2v1.2h-1.2zM349.7 392.1h1.2v1.2h-1.2zM241.3 392.4h1.2v1.2h-1.2zM171.4 392.2h1.2v1.2h-1.2zM125.5 391.5h1.2v1.2h-1.2zM386.0 391.2h1.2v1.2h-1.2zM249.8 391.1h1.2v1.2h-1.2zM318.2 392.9h1.2v1.2h-1.2zM292.9 392.2h1.2v1.2h-1.2zM316.2 392.8h1.2v1.2h-1.2zM386.6 391.0h1.2v1.2h-1.2zM418.9 392.3h1.2v1.2h-1.2zM235.7 392.4h1.2v1.2h-1.2zM149.5 391.7h1.2v1.2h-1.2zM409.3 391.9h1.2v1.2h-1.2zM213.6 392.4h1.2v1.2h-1.2zM166.2 392.6h1.2v1.2h-1.2zM164.6 393.5h1.2v1.2h-1.2zM126.1 393.0h1.2v1.2h-1.2zM400.8 391.9h1.2v1.2h-1.2zM279.9 392.0h1.2v1.2h-1.2zM173.2 391.6h1.2v1.2h-1.2zM414.3 391.9h1.2v1.2h-1.2zM389.0 393.1h1.2v1.2h-1.2zM238.4 391.2h1.2v1.2h-1.2zM214.9 392.0h1.2v1.2h-1.2zM128.9 391.0h1.2v1.2h-1.2zM248.4 392.5h1.2v1.2h-1.2zM248.3 391.6h1.2v1.2h-1.2zM167.0 391.4h1.2v1.2h-1.2zM329.6 392.0h1.2v1.2h-1.2zM318.8 391.0h1.2v1.2h-1.2zM372.8 391.9h1.2v1.2h-1.2zM304.1 392.0h1.2v1.2h-1.2zM405.9 392.0h1.2v1.2h-1.2zM401.8 392.2h1.2v1.2h-1.2zM191.1 391.3h1.2v1.2h-1.2zM354.2 391.2h1.2v1.2h-1.2zM177.8 392.0h1.2v1.2h-1.2zM365.2 392.4h1.2v1.2h-1.2zM310.7 392.5h1.2v1.2h-1.2zM202.4 391.4h1.2v1.2h-1.2zM453.5 392.9h1.2v1.2h-1.2zM335.1 393.0h1.2v1.2h-1.2zM286.2 391.6h1.2v1.2h-1.2zM490.4 391.7h1.2v1.2h-1.2zM407.8 393.2h1.2v1.2h-1.2zM475.7 393.3h1.2v1.2h-1.2zM470.8 391.5h1.2v1.2h-1.2zM378.7 392.0h1.2v1.2h-1.2zM315.0 393.2h1.2v1.2h-1.2zM331.8 391.9h1.2v1.2h-1.2zM139.2 391.2h1.2v1.2h-1.2zM354.6 392.0h1.2v1.2h-1.2zM403.8 391.0h1.2v1.2h-1.2zM445.0 393.0h1.2v1.2h-1.2zM475.9 391.5h1.2v1.2h-1.2zM330.2 391.7h1.2v1.2h-1.2zM345.0 392.6h1.2v1.2h-1.2zM490.6 391.7h1.2v1.2h-1.2zM225.4 391.0h1.2v1.2h-1.2zM370.9 393.0h1.2v1.2h-1.2zM419.5 391.9h1.2v1.2h-1.2zM442.1 391.4h1.2v1.2h-1.2zM498.2 392.2h1.2v1.2h-1.2zM187.6 392.2h1.2v1.2h-1.2zM399.2 392.4h1.2v1.2h-1.2zM240.3 393.6h1.2v1.2h-1.2zM197.2 391.9h1.2v1.2h-1.2zM119.7 392.7h1.2v1.2h-1.2zM167.3 391.1h1.2v1.2h-1.2zM490.7 391.8h1.2v1.2h-1.2zM171.0 392.7h1.2v1.2h-1.2zM187.6 392.3h1.2v1.2h-1.2zM185.9 392.6h1.2v1.2h-1.2zM476.1 392.1h1.2v1.2h-1.2zM231.8 392.0h1.2v1.2h-1.2zM390.9 392.6h1.2v1.2h-1.2zM318.1 392.3h1.2v1.2h-1.2zM263.6 392.8h1.2v1.2h-1.2zM223.5 391.6h1.2v1.2h-1.2zM225.6 392.0h1.2v1.2h-1.2zM478.5 391.6h1.2v1.2h-1.2zM254.9 392.0h1.2v1.2h-1.2zM254.7 391.0h1.2v1.2h-1.2zM180.6 391.2h1.2v1.2h-1.2zM339.6 391.5h1.2v1.2h-1.2zM357.6 392.7h1.2v1.2h-1.2zM343.3 391.6h1.2v1.2h-1.2zM160.9 391.3h1.2v1.2h-1.2zM183.9 391.8h1.2v1.2h-1.2zM414.2 392.4h1.2v1.2h-1.2zM216.6 393.3h1.2v1.2h-1.2zM427.7 391.8h1.2v1.2h-1.2zM244.1 392.4h1.2v1.2h-1.2zM453.4 391.8h1.2v1.2h-1.2zM384.7 392.1h1.2v1.2h-1.2zM433.6 392.5h1.2v1.2h-1.2zM387.5 392.5h1.2v1.2h-1.2zM166.6 392.6h1.2v1.2h-1.2zM354.7 392.7h1.2v1.2h-1.2zM457.4 392.0h1.2v1.2h-1.2zM160.2 392.5h1.2v1.2h-1.2zM118.3 393.1h1.2v1.2h-1.2zM371.1 392.2h1.2v1.2h-1.2zM175.0 391.8h1.2v1.2h-1.2zM365.6 392.2h1.2v1.2h-1.2zM465.4 392.7h1.2v1.2h-1.2zM307.4 393.6h1.2v1.2h-1.2zM433.6 392.0h1.2v1.2h-1.2zM182.7 391.7h1.2v1.2h-1.2zM484.2 392.5h1.2v1.2h-1.2zM426.6 393.0h1.2v1.2h-1.2zM340.0 392.1h1.2v1.2h-1.2zM189.1 391.8h1.2v1.2h-1.2zM405.6 392.1h1.2v1.2h-1.2zM327.6 392.5h1.2v1.2h-1.2zM420.9 391.2h1.2v1.2h-1.2zM165.3 392.6h1.2v1.2h-1.2zM219.6 392.0h1.2v1.2h-1.2zM161.3 391.6h1.2v1.2h-1.2zM438.8 391.1h1.2v1.2h-1.2zM368.2 392.7h1.2v1.2h-1.2zM219.5 392.4h1.2v1.2h-1.2zM231.6 392.7h1.2v1.2h-1.2zM463.3 391.5h1.2v1.2h-1.2zM431.7 391.0h1.2v1.2h-1.2zM363.3 392.0h1.2v1.2h-1.2zM428.7 393.6h1.2v1.2h-1.2zM482.5 392.2h1.2v1.2h-1.2zM109.2 392.6h1.2v1.2h-1.2zM435.2 392.1h1.2v1.2h-1.2zM127.5 391.5h1.2v1.2h-1.2zM244.7 392.0h1.2v1.2h-1.2zM358.4 392.3h1.2v1.2h-1.2zM180.1 392.1h1.2v1.2h-1.2zM472.0 391.7h1.2v1.2h-1.2zM475.3 391.9h1.2v1.2h-1.2zM429.4 392.1h1.2v1.2h-1.2zM106.2 391.3h1.2v1.2h-1.2zM481.0 391.5h1.2v1.2h-1.2zM421.1 391.1h1.2v1.2h-1.2zM452.0 392.7h1.2v1.2h-1.2zM331.5 391.9h1.2v1.2h-1.2zM313.9 391.7h1.2v1.2h-1.2zM426.5 393.1h1.2v1.2h-1.2zM279.3 393.5h1.2v1.2h-1.2zM441.0 392.8h1.2v1.2h-1.2zM389.0 392.6h1.2v1.2h-1.2zM130.1 392.5h1.2v1.2h-1.2zM248.5 391.6h1.2v1.2h-1.2zM346.7 392.0h1.2v1.2h-1.2zM251.3 392.1h1.2v1.2h-1.2zM116.9 391.9h1.2v1.2h-1.2zM388.1 392.0h1.2v1.2h-1.2zM314.7 392.7h1.2v1.2h-1.2zM197.8 392.2h1.2v1.2h-1.2zM446.2 392.8h1.2v1.2h-1.2zM488.6 392.3h1.2v1.2h-1.2zM165.8 391.9h1.2v1.2h-1.2zM370.8 392.0h1.2v1.2h-1.2zM258.4 391.1h1.2v1.2h-1.2zM400.1 393.2h1.2v1.2h-1.2zM397.9 391.2h1.2v1.2h-1.2zM160.8 392.0h1.2v1.2h-1.2zM450.0 391.3h1.2v1.2h-1.2zM403.5 392.3h1.2v1.2h-1.2zM294.2 392.0h1.2v1.2h-1.2zM233.5 392.2h1.2v1.2h-1.2zM450.3 392.8h1.2v1.2h-1.2zM405.8 393.1h1.2v1.2h-1.2zM357.8 392.0h1.2v1.2h-1.2zM412.1 391.2h1.2v1.2h-1.2zM418.3 392.1h1.2v1.2h-1.2zM436.6 391.8h1.2v1.2h-1.2zM482.9 392.4h1.2v1.2h-1.2zM362.1 393.3h1.2v1.2h-1.2zM265.2 392.0h1.2v1.2h-1.2zM437.4 391.2h1.2v1.2h-1.2zM357.0 391.7h1.2v1.2h-1.2zM401.0 391.5h1.2v1.2h-1.2zM207.4 391.8h1.2v1.2h-1.2zM276.9 393.0h1.2v1.2h-1.2zM412.4 392.9h1.2v1.2h-1.2zM365.8 392.2h1.2v1.2h-1.2zM187.4 392.2h1.2v1.2h-1.2zM309.1 392.6h1.2v1.2h-1.2zM263.5 392.5h1.2v1.2h-1.2zM305.3 391.9h1.2v1.2h-1.2zM246.4 392.3h1.2v1.2h-1.2zM350.0 392.3h1.2v1.2h-1.2zM189.9 391.0h1.2v1.2h-1.2zM463.1 392.4h1.2v1.2h-1.2zM488.7 391.6h1.2v1.2h-1.2zM403.7 393.0h1.2v1.2h-1.2zM254.7 392.0h1.2v1.2h-1.2zM365.9 392.5h1.2v1.2h-1.2zM479.8 392.5h1.2v1.2h-1.2zM119.8 392.4h1.2v1.2h-1.2zM435.4 392.1h1.2v1.2h-1.2zM425.6 391.9h1.2v1.2h-1.2zM490.5 392.5h1.2v1.2h-1.2zM136.4 392.1h1.2v1.2h-1.2zM417.1 391.9h1.2v1.2h-1.2zM363.6 392.6h1.2v1.2h-1.2zM324.0 391.2h1.2v1.2h-1.2zM491.6 391.8h1.2v1.2h-1.2zM130.7 392.8h1.2v1.2h-1.2zM282.0 393.4h1.2v1.2h-1.2zM370.7 392.1h1.2v1.2h-1.2zM237.6 391.5h1.2v1.2h-1.2zM133.9 391.7h1.2v1.2h-1.2zM388.2 392.3h1.2v1.2h-1.2zM431.8 391.9h1.2v1.2h-1.2zM296.6 392.0h1.2v1.2h-1.2zM161.9 391.5h1.2v1.2h-1.2zM324.4 392.0h1.2v1.2h-1.2zM296.8 392.7h1.2v1.2h-1.2zM220.1 392.1h1.2v1.2h-1.2zM265.2 392.1h1.2v1.2h-1.2zM418.3 391.5h1.2v1.2h-1.2zM403.9 391.8h1.2v1.2h-1.2zM385.3 392.3h1.2v1.2h-1.2zM252.3 391.9h1.2v1.2h-1.2zM155.6 392.4h1.2v1.2h-1.2zM366.6 391.1h1.2v1.2h-1.2zM343.7 391.8h1.2v1.2h-1.2zM138.4 392.4h1.2v1.2h-1.2zM375.6 392.9h1.2v1.2h-1.2zM320.9 391.9h1.2v1.2h-1.2zM140.6 391.9h1.2v1.2h-1.2zM221.7 391.7h1.2v1.2h-1.2zM476.6 392.3h1.2v1.2h-1.2zM361.8 392.9h1.2v1.2h-1.2zM456.2 391.8h1.2v1.2h-1.2zM471.4 392.4h1.2v1.2h-1.2zM171.6 392.3h1.2v1.2h-1.2zM150.4 391.8h1.2v1.2h-1.2zM326.3 391.6h1.2v1.2h-1.2zM414.7 392.8h1.2v1.2h-1.2zM364.5 392.4h1.2v1.2h-1.2zM490.9 392.1h1.2v1.2h-1.2zM400.5 393.3h1.2v1.2h-1.2zM298.0 392.1h1.2v1.2h-1.2zM344.6 392.9h1.2v1.2h-1.2zM111.3 392.3h1.2v1.2h-1.2zM184.1 391.4h1.2v1.2h-1.2zM304.6 392.0h1.2v1.2h-1.2zM157.4 391.9h1.2v1.2h-1.2zM383.2 392.4h1.2v1.2h-1.2zM178.6 397.3h1.2v1.2h-1.2zM180.4 402.9h1.2v1.2h-1.2zM177.2 397.6h1.2v1.2h-1.2zM179.5 398.8h1.2v1.2h-1.2zM178.8 402.3h1.2v1.2h-1.2zM178.2 398.8h1.2v1.2h-1.2zM178.0 400.7h1.2v1.2h-1.2zM176.2 403.9h1.2v1.2h-1.2zM176.0 397.8h1.2v1.2h-1.2zM180.1 397.6h1.2v1.2h-1.2zM168.1 430.4h1.2v1.2h-1.2zM168.2 435.0h1.2v1.2h-1.2zM167.8 430.5h1.2v1.2h-1.2zM168.3 431.4h1.2v1.2h-1.2zM183.6 425.8h1.2v1.2h-1.2zM183.3 425.4h1.2v1.2h-1.2zM183.3 433.5h1.2v1.2h-1.2zM182.7 433.5h1.2v1.2h-1.2zM194.4 435.2h1.2v1.2h-1.2zM195.1 426.7h1.2v1.2h-1.2zM194.2 430.9h1.2v1.2h-1.2zM194.3 429.8h1.2v1.2h-1.2zM197.9 425.3h1.2v1.2h-1.2zM198.3 426.0h1.2v1.2h-1.2zM197.8 424.4h1.2v1.2h-1.2zM198.6 427.3h1.2v1.2h-1.2zM209.4 435.6h1.2v1.2h-1.2zM209.5 426.8h1.2v1.2h-1.2zM209.2 433.0h1.2v1.2h-1.2zM209.5 435.3h1.2v1.2h-1.2zM313.0 424.3h1.2v1.2h-1.2zM312.8 432.7h1.2v1.2h-1.2zM313.2 432.8h1.2v1.2h-1.2zM313.4 426.0h1.2v1.2h-1.2zM127.5 429.2h1.2v1.2h-1.2zM128.3 431.1h1.2v1.2h-1.2zM130.0 432.5h1.2v1.2h-1.2zM130.8 430.3h1.2v1.2h-1.2zM132.5 432.0h1.2v1.2h-1.2zM136.1 430.4h1.2v1.2h-1.2zM140.0 431.1h1.2v1.2h-1.2zM147.4 432.4h1.2v1.2h-1.2zM152.9 430.9h1.2v1.2h-1.2zM159.7 430.2h1.2v1.2h-1.2zM168.4 431.1h1.2v1.2h-1.2zM168.6 427.5h1.2v1.2h-1.2zM168.3 432.5h1.2v1.2h-1.2zM182.8 430.8h1.2v1.2h-1.2zM183.0 429.0h1.2v1.2h-1.2zM193.1 430.3h1.2v1.2h-1.2zM195.5 431.7h1.2v1.2h-1.2zM197.5 431.2h1.2v1.2h-1.2zM209.3 429.9h1.2v1.2h-1.2zM209.0 432.7h1.2v1.2h-1.2zM305.0 429.9h1.2v1.2h-1.2zM309.1 431.5h1.2v1.2h-1.2zM315.3 431.4h1.2v1.2h-1.2zM316.2 428.7h1.2v1.2h-1.2zM319.6 429.8h1.2v1.2h-1.2zM321.0 432.2h1.2v1.2h-1.2zM326.3 428.7h1.2v1.2h-1.2zM329.8 431.3h1.2v1.2h-1.2zM336.6 431.8h1.2v1.2h-1.2zM342.7 430.8h1.2v1.2h-1.2zM372.8 431.4h1.2v1.2h-1.2zM374.9 433.1h1.2v1.2h-1.2zM383.7 429.6h1.2v1.2h-1.2zM387.5 431.0h1.2v1.2h-1.2zM403.3 430.2h1.2v1.2h-1.2zM404.0 432.3h1.2v1.2h-1.2zM410.7 429.2h1.2v1.2h-1.2zM412.6 431.2h1.2v1.2h-1.2zM415.5 432.3h1.2v1.2h-1.2zM420.4 431.2h1.2v1.2h-1.2zM422.2 429.7h1.2v1.2h-1.2zM455.0 429.9h1.2v1.2h-1.2zM458.5 431.3h1.2v1.2h-1.2zM462.0 432.6h1.2v1.2h-1.2zM466.4 431.1h1.2v1.2h-1.2zM469.8 431.0h1.2v1.2h-1.2zM312.5 415.6h1.2v1.2h-1.2zM313.5 420.9h1.2v1.2h-1.2zM184.3 407.1h1.2v1.2h-1.2zM182.5 403.4h1.2v1.2h-1.2zM182.5 400.4h1.2v1.2h-1.2z" fill="#d04020" fill-opacity="0.8"/>
<text x="112" y="397.6" text-anchor="middle" font-size="6.6" fill="#333" stroke="#333" stroke-width="0.12">1</text>
<text x="130.5" y="397.6" text-anchor="middle" font-size="6.6" fill="#333" stroke="#333" stroke-width="0.12">2</text>
<text x="147" y="397.6" text-anchor="middle" font-size="6.6" fill="#333" stroke="#333" stroke-width="0.12">3</text>
<text x="159.4" y="397.6" text-anchor="middle" font-size="6.6" fill="#333" stroke="#333" stroke-width="0.12">4</text>
<text x="181" y="397.6" text-anchor="middle" font-size="6.6" fill="#333" stroke="#333" stroke-width="0.12">5</text>
<text x="192.8" y="397.6" text-anchor="middle" font-size="6.6" fill="#333" stroke="#333" stroke-width="0.12">6</text>
<text x="221" y="397.6" text-anchor="middle" font-size="6.6" fill="#333" stroke="#333" stroke-width="0.12">7</text>
<text x="274" y="397.6" text-anchor="middle" font-size="6.6" fill="#333" stroke="#333" stroke-width="0.12">8</text>
<text x="307" y="397.6" text-anchor="middle" font-size="6.6" fill="#333" stroke="#333" stroke-width="0.12">9</text>
<text x="317.6" y="397.6" text-anchor="middle" font-size="6.6" fill="#333" stroke="#333" stroke-width="0.12">10</text>
<text x="335.5" y="397.6" text-anchor="middle" font-size="6.6" fill="#333" stroke="#333" stroke-width="0.12">11</text>
<text x="364.4" y="397.6" text-anchor="middle" font-size="6.6" fill="#333" stroke="#333" stroke-width="0.12">12</text>
<text x="383" y="397.6" text-anchor="middle" font-size="6.6" fill="#333" stroke="#333" stroke-width="0.12">13</text>
<text x="389.6" y="397.6" text-anchor="middle" font-size="6.6" fill="#333" stroke="#333" stroke-width="0.12">14</text>
<text x="395.2" y="397.6" text-anchor="middle" font-size="6.6" fill="#333" stroke="#333" stroke-width="0.12">15</text>
<text x="402" y="397.6" text-anchor="middle" font-size="6.6" fill="#333" stroke="#333" stroke-width="0.12">16</text>
<text x="416" y="397.6" text-anchor="middle" font-size="6.6" fill="#333" stroke="#333" stroke-width="0.12">17</text>
<text x="427" y="397.6" text-anchor="middle" font-size="6.6" fill="#333" stroke="#333" stroke-width="0.12">18</text>
<text x="433.3" y="397.6" text-anchor="middle" font-size="6.6" fill="#333" stroke="#333" stroke-width="0.12">19</text>
<text x="441.2" y="397.6" text-anchor="middle" font-size="6.6" fill="#333" stroke="#333" stroke-width="0.12">20</text>
<text x="453.7" y="397.6" text-anchor="middle" font-size="6.6" fill="#333" stroke="#333" stroke-width="0.12">21</text>
<text x="467.4" y="397.6" text-anchor="middle" font-size="6.6" fill="#333" stroke="#333" stroke-width="0.12">22</text>
<text x="485.7" y="397.6" text-anchor="middle" font-size="6.6" fill="#333" stroke="#333" stroke-width="0.12">X</text>
<path d="M198.6 422.5 L187 410" stroke="#111" stroke-width="1.4"/>
<path d="M183.1 406.3 L184.6 416 L186.8 411.8 L193 409.4 Z" fill="#111"/>
<text x="0.3" y="504.7" font-size="14.2" font-weight="bold" fill="#000">C</text>
<rect x="39.6" y="541.10" width="13.6" height="12.88" fill="#1f3b31"/>
<rect x="39.6" y="553.68" width="13.6" height="12.88" fill="#2f6b61"/>
<rect x="39.6" y="566.26" width="13.6" height="12.88" fill="#5b9b91"/>
<rect x="39.6" y="578.85" width="13.6" height="12.88" fill="#92c9bd"/>
<rect x="39.6" y="591.43" width="13.6" height="12.88" fill="#d9ecec"/>
<rect x="39.6" y="604.01" width="13.6" height="12.88" fill="#f4f6fa"/>
<rect x="39.6" y="616.59" width="13.6" height="12.88" fill="#f8edcd"/>
<rect x="39.6" y="629.17" width="13.6" height="12.88" fill="#e8cd82"/>
<rect x="39.6" y="641.75" width="13.6" height="12.88" fill="#c0912c"/>
<rect x="39.6" y="654.34" width="13.6" height="12.88" fill="#8b5b1b"/>
<rect x="39.6" y="666.92" width="13.6" height="12.88" fill="#513511"/>
<path d="M61.2 547.6 H58.8 V672.3 H61.2 M58.8 610.6 H61.2" fill="none" stroke="#111" stroke-width="1"/>
<text x="61.70" y="550.80" font-size="8.8" fill="#111" textLength="9.40" lengthAdjust="spacingAndGlyphs" stroke="#111" stroke-width="0.3">25</text>
<text x="61.20" y="613.80" font-size="8.8" fill="#111" textLength="18.60" lengthAdjust="spacingAndGlyphs" stroke="#111" stroke-width="0.3">OR=1</text>
<text x="61.70" y="675.60" font-size="8.8" fill="#111" textLength="10.60" lengthAdjust="spacingAndGlyphs" stroke="#111" stroke-width="0.3">0.1</text>
<text x="46.30" y="537.00" font-size="8.4" fill="#111" text-anchor="middle" textLength="49.20" lengthAdjust="spacingAndGlyphs" stroke="#111" stroke-width="0.3">Co–occurring</text>
<text x="46.30" y="688.10" font-size="8.8" fill="#111" text-anchor="middle" textLength="31.40" lengthAdjust="spacingAndGlyphs" stroke="#111" stroke-width="0.32">Mutually</text>
<text x="46.60" y="697.60" font-size="8.8" fill="#111" text-anchor="middle" textLength="32.20" lengthAdjust="spacingAndGlyphs" stroke="#111" stroke-width="0.32">exclusive</text>
<text transform="translate(30.00,610.50) rotate(-90)" font-size="8.8" fill="#111" text-anchor="middle" textLength="37.80" lengthAdjust="spacingAndGlyphs" stroke="#111" stroke-width="0.32">Odds ratio</text>
<rect x="25.2" y="705.6" width="52.6" height="43.4" rx="5.5" fill="none" stroke="#a8a8a8" stroke-width="1"/>
<rect x="34.6" y="711.9" width="2.4" height="3.6" fill="#111"/>
<path d="M32.2 727.6 H40.2 M36.2 723.6 V731.6" stroke="#111" stroke-width="1.1"/>
<path d="M32.2 741.2 H40.2 M36.2 737.2 V745.2 M33.4 738.4 L39 744 M39 738.4 L33.4 744" stroke="#111" stroke-width="1.1"/>
<text x="44.30" y="717.20" font-size="8.8" fill="#111" textLength="20.40" lengthAdjust="spacingAndGlyphs" stroke="#111" stroke-width="0.3">q&lt;0.1</text>
<text x="44.30" y="731.00" font-size="8.8" fill="#111" textLength="24.30" lengthAdjust="spacingAndGlyphs" stroke="#111" stroke-width="0.3">q&lt;0.05</text>
<text x="44.30" y="744.60" font-size="8.8" fill="#111" textLength="24.30" lengthAdjust="spacingAndGlyphs" stroke="#111" stroke-width="0.3">q&lt;0.01</text>
<rect x="107.6" y="537.0" width="349.70" height="155.43" fill="#f8f8fc"/>
<rect x="107.60" y="537.00" width="13.45" height="14.13" fill="#d9c898"/>
<path d="M109.92 544.07H118.72M114.32 539.67V548.47M111.22 540.97L117.42 547.17M117.42 540.97L111.22 547.17" stroke="#fff" stroke-width="1.15"/>
<circle cx="114.32" cy="544.07" r="1.3" fill="#fff"/>
<rect x="121.05" y="537.00" width="13.45" height="14.13" fill="#f2e9cf"/>
<path d="M123.37 544.07H132.17M127.77 539.67V548.47M124.67 540.97L130.88 547.17M130.88 540.97L124.67 547.17" stroke="#fff" stroke-width="1.15"/>
<circle cx="127.77" cy="544.07" r="1.3" fill="#fff"/>
<rect x="107.60" y="551.13" width="13.45" height="14.13" fill="#1f3b31"/>
<path d="M109.92 558.20H118.72M114.32 553.80V562.60M111.22 555.10L117.42 561.30M117.42 555.10L111.22 561.30" stroke="#fff" stroke-width="1.15"/>
<circle cx="114.32" cy="558.20" r="1.3" fill="#fff"/>
<rect x="107.60" y="565.26" width="13.45" height="14.13" fill="#1f3b31"/>
<path d="M109.92 572.33H118.72M114.32 567.93V576.73M111.22 569.23L117.42 575.43M117.42 569.23L111.22 575.43" stroke="#fff" stroke-width="1.15"/>
<circle cx="114.32" cy="572.33" r="1.3" fill="#fff"/>
<rect x="107.60" y="579.39" width="13.45" height="14.13" fill="#b3842f"/>
<path d="M109.92 586.46H118.72M114.32 582.06V590.86M111.22 583.36L117.42 589.56M117.42 583.36L111.22 589.56" stroke="#fff" stroke-width="1.15"/>
<circle cx="114.32" cy="586.46" r="1.3" fill="#fff"/>
<rect x="107.60" y="593.52" width="13.45" height="14.13" fill="#4e9490"/>
<path d="M109.92 600.59H118.72M114.32 596.19V604.99M111.22 597.49L117.42 603.69M117.42 597.49L111.22 603.69" stroke="#fff" stroke-width="1.15"/>
<circle cx="114.32" cy="600.59" r="1.3" fill="#fff"/>
<rect x="107.60" y="607.65" width="13.45" height="14.13" fill="#d9c898"/>
<path d="M109.92 614.72H118.72M114.32 610.32V619.12M111.22 611.62L117.42 617.82M117.42 611.62L111.22 617.82" stroke="#fff" stroke-width="1.15"/>
<circle cx="114.32" cy="614.72" r="1.3" fill="#fff"/>
<rect x="107.60" y="635.91" width="13.45" height="14.13" fill="#b3842f"/>
<path d="M109.92 642.98H118.72M114.32 638.58V647.38M111.22 639.88L117.42 646.08M117.42 639.88L111.22 646.08" stroke="#fff" stroke-width="1.15"/>
<circle cx="114.32" cy="642.98" r="1.3" fill="#fff"/>
<rect x="121.05" y="635.91" width="13.45" height="14.13" fill="#4e9490"/>
<path d="M123.37 642.98H132.17M127.77 638.58V647.38M124.67 639.88L130.88 646.08M130.88 639.88L124.67 646.08" stroke="#fff" stroke-width="1.15"/>
<circle cx="127.77" cy="642.98" r="1.3" fill="#fff"/>
<rect x="201.75" y="635.91" width="13.45" height="14.13" fill="#4e8a82"/>
<path d="M204.47 642.98H212.47M208.47 638.98V646.98" stroke="#fff" stroke-width="1.1"/>
<rect x="228.65" y="635.91" width="13.45" height="14.13" fill="#8cc0b8"/>
<path d="M231.37 642.98H239.37M235.37 638.98V646.98" stroke="#fff" stroke-width="1.1"/>
<rect x="242.10" y="635.91" width="13.45" height="14.13" fill="#8cc0b8"/>
<path d="M244.42 642.98H253.22M248.82 638.58V647.38M245.72 639.88L251.92 646.08M251.92 639.88L245.72 646.08" stroke="#fff" stroke-width="1.15"/>
<circle cx="248.82" cy="642.98" r="1.3" fill="#fff"/>
<rect x="107.60" y="678.30" width="13.45" height="14.13" fill="#b3842f"/>
<rect x="112.12" y="683.66" width="4.4" height="3.4" fill="#fff"/>
<rect x="242.10" y="551.13" width="13.45" height="14.13" fill="#d9b862"/>
<path d="M244.82 558.20H252.82M248.82 554.20V562.20" stroke="#fff" stroke-width="1.1"/>
<rect x="255.55" y="607.65" width="13.45" height="14.13" fill="#93c4bc"/>
<path d="M257.88 614.72H266.67M262.27 610.32V619.12M259.17 611.62L265.38 617.82M265.38 611.62L259.17 617.82" stroke="#fff" stroke-width="1.15"/>
<circle cx="262.27" cy="614.72" r="1.3" fill="#fff"/>
<rect x="269.00" y="607.65" width="13.45" height="14.13" fill="#93c4bc"/>
<path d="M271.33 614.72H280.12M275.73 610.32V619.12M272.62 611.62L278.83 617.82M278.83 611.62L272.62 617.82" stroke="#fff" stroke-width="1.15"/>
<circle cx="275.73" cy="614.72" r="1.3" fill="#fff"/>
<rect x="295.90" y="607.65" width="13.45" height="14.13" fill="#a8d0c8"/>
<path d="M298.62 614.72H306.62M302.62 610.72V618.72" stroke="#fff" stroke-width="1.1"/>
<rect x="309.35" y="607.65" width="13.45" height="14.13" fill="#c8e2de"/>
<rect x="313.88" y="613.01" width="4.4" height="3.4" fill="#fff"/>
<rect x="322.80" y="607.65" width="13.45" height="14.13" fill="#d6eae6"/>
<path d="M325.52 614.72H333.52M329.52 610.72V618.72" stroke="#fff" stroke-width="1.1"/>
<rect x="363.15" y="551.13" width="13.45" height="14.13" fill="#b3842f"/>
<rect x="367.68" y="556.50" width="4.4" height="3.4" fill="#fff"/>
<rect x="363.15" y="579.39" width="13.45" height="14.13" fill="#dcc070"/>
<path d="M365.88 586.46H373.88M369.88 582.46V590.46" stroke="#fff" stroke-width="1.1"/>
<rect x="363.15" y="607.65" width="13.45" height="14.13" fill="#d0e6e4"/>
<path d="M365.88 614.72H373.88M369.88 610.72V618.72" stroke="#fff" stroke-width="1.1"/>
<rect x="363.15" y="621.78" width="13.45" height="14.13" fill="#1f3b31"/>
<path d="M365.48 628.85H374.27M369.88 624.45V633.25M366.77 625.75L372.98 631.95M372.98 625.75L366.77 631.95" stroke="#fff" stroke-width="1.15"/>
<circle cx="369.88" cy="628.85" r="1.3" fill="#fff"/>
<rect x="443.85" y="635.91" width="13.45" height="14.13" fill="#b3842f"/>
<rect x="448.38" y="641.27" width="4.4" height="3.4" fill="#fff"/>
<path d="M107.60 537.0V692.43M121.05 537.0V692.43M134.50 537.0V692.43M147.95 537.0V692.43M161.40 537.0V692.43M174.85 537.0V692.43M188.30 537.0V692.43M201.75 537.0V692.43M215.20 537.0V692.43M228.65 537.0V692.43M242.10 537.0V692.43M255.55 537.0V692.43M269.00 537.0V692.43M282.45 537.0V692.43M295.90 537.0V692.43M309.35 537.0V692.43M322.80 537.0V692.43M336.25 537.0V692.43M349.70 537.0V692.43M363.15 537.0V692.43M376.60 537.0V692.43M390.05 537.0V692.43M403.50 537.0V692.43M416.95 537.0V692.43M430.40 537.0V692.43M443.85 537.0V692.43M457.30 537.0V692.43M107.6 537.00H457.30M107.6 551.13H457.30M107.6 565.26H457.30M107.6 579.39H457.30M107.6 593.52H457.30M107.6 607.65H457.30M107.6 621.78H457.30M107.6 635.91H457.30M107.6 650.04H457.30M107.6 664.17H457.30M107.6 678.30H457.30M107.6 692.43H457.30" stroke="#7e7cb2" stroke-width="1.05" fill="none"/>
<path d="M349.70 494.5V692.43" stroke="#1c2a5a" stroke-width="1.3"/>
<text transform="translate(117.32,534.30) rotate(-90)" font-size="9.3" fill="#553718" font-style="italic" textLength="22.46" lengthAdjust="spacingAndGlyphs" stroke="#553718" stroke-width="0.45">SF3B1</text>
<text transform="translate(130.78,534.30) rotate(-90)" font-size="9.3" fill="#243c70" font-style="italic" textLength="17.96" lengthAdjust="spacingAndGlyphs" stroke="#243c70" stroke-width="0.45">TET2</text>
<text transform="translate(144.22,534.30) rotate(-90)" font-size="9.3" fill="#243c70" font-style="italic" textLength="16.74" lengthAdjust="spacingAndGlyphs" stroke="#243c70" stroke-width="0.45">IDH1</text>
<text transform="translate(157.67,534.30) rotate(-90)" font-size="9.3" fill="#5d8ec6" font-style="italic" textLength="18.78" lengthAdjust="spacingAndGlyphs" stroke="#5d8ec6" stroke-width="0.45">EZH2</text>
<text transform="translate(171.12,534.30) rotate(-90)" font-size="9.3" fill="#e2a626" font-style="italic" textLength="17.56" lengthAdjust="spacingAndGlyphs" stroke="#e2a626" stroke-width="0.45">JAK2</text>
<text transform="translate(184.57,534.30) rotate(-90)" font-size="9.3" fill="#5d8ec6" font-style="italic" textLength="21.23" lengthAdjust="spacingAndGlyphs" stroke="#5d8ec6" stroke-width="0.45">BCOR</text>
<text transform="translate(198.02,534.30) rotate(-90)" font-size="9.3" fill="#243c70" font-style="italic" textLength="33.27" lengthAdjust="spacingAndGlyphs" stroke="#243c70" stroke-width="0.45">DNMT3A</text>
<text transform="translate(211.47,534.30) rotate(-90)" font-size="9.3" fill="#e2a626" font-style="italic" textLength="14.29" lengthAdjust="spacingAndGlyphs" stroke="#e2a626" stroke-width="0.45">CBL</text>
<text transform="translate(224.92,534.30) rotate(-90)" font-size="9.3" fill="#6a3a9e" font-style="italic" textLength="19.60" lengthAdjust="spacingAndGlyphs" stroke="#6a3a9e" stroke-width="0.45">CUX1</text>
<text transform="translate(238.37,534.30) rotate(-90)" font-size="9.3" fill="#553718" font-style="italic" textLength="24.09" lengthAdjust="spacingAndGlyphs" stroke="#553718" stroke-width="0.45">ZRSR2</text>
<text transform="translate(251.82,534.30) rotate(-90)" font-size="9.3" fill="#553718" font-style="italic" textLength="23.68" lengthAdjust="spacingAndGlyphs" stroke="#553718" stroke-width="0.45">SFRS2</text>
<text transform="translate(265.27,534.30) rotate(-90)" font-size="9.3" fill="#6a3a9e" font-style="italic" textLength="24.90" lengthAdjust="spacingAndGlyphs" stroke="#6a3a9e" stroke-width="0.45">RUNX1</text>
<text transform="translate(278.73,534.30) rotate(-90)" font-size="9.3" fill="#5d8ec6" font-style="italic" textLength="23.54" lengthAdjust="spacingAndGlyphs" stroke="#5d8ec6" stroke-width="0.45">STAG2</text>
<text transform="translate(292.18,534.30) rotate(-90)" font-size="9.3" fill="#e2a626" font-style="italic" textLength="20.41" lengthAdjust="spacingAndGlyphs" stroke="#e2a626" stroke-width="0.45">NRAS</text>
<text transform="translate(305.62,534.30) rotate(-90)" font-size="9.3" fill="#243c70" font-style="italic" textLength="16.74" lengthAdjust="spacingAndGlyphs" stroke="#243c70" stroke-width="0.45">IDH2</text>
<text transform="translate(319.08,534.30) rotate(-90)" font-size="9.3" fill="#111" font-style="italic" textLength="17.56" lengthAdjust="spacingAndGlyphs" stroke="#111" stroke-width="0.45">TP53</text>
<text transform="translate(332.52,534.30) rotate(-90)" font-size="9.3" fill="#5d8ec6" font-style="italic" textLength="22.87" lengthAdjust="spacingAndGlyphs" stroke="#5d8ec6" stroke-width="0.45">ASXL1</text>
<text transform="translate(345.98,534.30) rotate(-90)" font-size="9.3" fill="#553718" font-style="italic" textLength="22.87" lengthAdjust="spacingAndGlyphs" stroke="#553718" stroke-width="0.45">U2AF1</text>
<text transform="translate(353.23,534.40) rotate(90)" font-size="9.2" fill="#1c2a5a" text-anchor="end" textLength="39.11" lengthAdjust="spacingAndGlyphs" stroke="#1c2a5a" stroke-width="0.25">Rearr chr3</text>
<text transform="translate(366.68,534.40) rotate(90)" font-size="9.2" fill="#1c2a5a" text-anchor="end" textLength="25.77" lengthAdjust="spacingAndGlyphs" stroke="#1c2a5a" stroke-width="0.25">del(5q)</text>
<text transform="translate(380.13,534.40) rotate(90)" font-size="9.2" fill="#1c2a5a" text-anchor="end" textLength="25.77" lengthAdjust="spacingAndGlyphs" stroke="#1c2a5a" stroke-width="0.25">del(7q)</text>
<text transform="translate(393.57,534.40) rotate(90)" font-size="9.2" fill="#1c2a5a" text-anchor="end" textLength="9.44" lengthAdjust="spacingAndGlyphs" stroke="#1c2a5a" stroke-width="0.25">+8</text>
<text transform="translate(407.03,534.40) rotate(90)" font-size="9.2" fill="#1c2a5a" text-anchor="end" textLength="25.77" lengthAdjust="spacingAndGlyphs" stroke="#1c2a5a" stroke-width="0.25">del(12)</text>
<text transform="translate(420.47,534.40) rotate(90)" font-size="9.2" fill="#1c2a5a" text-anchor="end" textLength="25.77" lengthAdjust="spacingAndGlyphs" stroke="#1c2a5a" stroke-width="0.25">del(17)</text>
<text transform="translate(433.93,534.40) rotate(90)" font-size="9.2" fill="#1c2a5a" text-anchor="end" textLength="30.38" lengthAdjust="spacingAndGlyphs" stroke="#1c2a5a" stroke-width="0.25">del(20q)</text>
<text transform="translate(447.38,534.40) rotate(90)" font-size="9.2" fill="#1c2a5a" text-anchor="end" textLength="32.67" lengthAdjust="spacingAndGlyphs" stroke="#1c2a5a" stroke-width="0.25">Complex</text>
<text x="459.00" y="547.66" font-size="9.0" fill="#111" textLength="11.10" lengthAdjust="spacingAndGlyphs" stroke="#111" stroke-width="0.32">RA</text>
<text x="459.00" y="561.79" font-size="9.0" fill="#111" textLength="20.60" lengthAdjust="spacingAndGlyphs" stroke="#111" stroke-width="0.32">RARS</text>
<text x="459.00" y="575.92" font-size="9.0" fill="#111" textLength="29.20" lengthAdjust="spacingAndGlyphs" stroke="#111" stroke-width="0.32">RARS–T</text>
<text x="459.00" y="590.05" font-size="9.0" fill="#111" textLength="23.70" lengthAdjust="spacingAndGlyphs" stroke="#111" stroke-width="0.32">RCMD</text>
<text x="459.00" y="604.18" font-size="9.0" fill="#111" textLength="38.40" lengthAdjust="spacingAndGlyphs" stroke="#111" stroke-width="0.32">RCMD–RS</text>
<text x="459.00" y="618.31" font-size="9.0" fill="#111" textLength="20.60" lengthAdjust="spacingAndGlyphs" stroke="#111" stroke-width="0.32">RAEB</text>
<text x="459.00" y="632.44" font-size="9.0" fill="#111" textLength="15.60" lengthAdjust="spacingAndGlyphs" stroke="#111" stroke-width="0.32">5q–</text>
<text x="459.00" y="646.57" font-size="9.0" fill="#111" textLength="24.70" lengthAdjust="spacingAndGlyphs" stroke="#111" stroke-width="0.32">CMML</text>
<text x="459.00" y="660.70" font-size="9.0" fill="#111" textLength="41.70" lengthAdjust="spacingAndGlyphs" stroke="#111" stroke-width="0.32">MDS–MPN</text>
<text x="459.00" y="674.83" font-size="9.0" fill="#111" textLength="30.30" lengthAdjust="spacingAndGlyphs" stroke="#111" stroke-width="0.32">MDS–U</text>
<text x="459.00" y="688.96" font-size="9.0" fill="#111" textLength="41.00" lengthAdjust="spacingAndGlyphs" stroke="#111" stroke-width="0.32">MDS–AML</text>
<circle cx="137.5" cy="708.5" r="1.35" fill="#553718"/>
<text x="144.00" y="713.30" font-size="9.8" fill="#553718" textLength="31.92" lengthAdjust="spacingAndGlyphs" stroke="#553718" stroke-width="0.3">Splicing</text>
<circle cx="232.5" cy="708.5" r="1.35" fill="#5d8ec6"/>
<text x="239.00" y="713.30" font-size="9.8" fill="#5d8ec6" textLength="42.04" lengthAdjust="spacingAndGlyphs" stroke="#5d8ec6" stroke-width="0.3">Chromatin</text>
<circle cx="309" cy="708.5" r="1.35" fill="#6a3a9e"/>
<text x="315.50" y="713.30" font-size="9.8" fill="#6a3a9e" textLength="52.34" lengthAdjust="spacingAndGlyphs" stroke="#6a3a9e" stroke-width="0.3">Transcription</text>
<circle cx="137.5" cy="725.0" r="1.35" fill="#243c70"/>
<text x="144.00" y="729.80" font-size="9.8" fill="#243c70" textLength="67.88" lengthAdjust="spacingAndGlyphs" stroke="#243c70" stroke-width="0.3">DNA methylation</text>
<circle cx="232.5" cy="725.0" r="1.35" fill="#e2a626"/>
<text x="239.00" y="729.80" font-size="9.8" fill="#e2a626" textLength="39.52" lengthAdjust="spacingAndGlyphs" stroke="#e2a626" stroke-width="0.3">Signalling</text>
<circle cx="309" cy="725.0" r="1.35" fill="#111"/>
<text x="315.50" y="729.80" font-size="9.8" fill="#111" textLength="22.79" lengthAdjust="spacingAndGlyphs" stroke="#111" stroke-width="0.3">Other</text>
</svg>
</body></html>
